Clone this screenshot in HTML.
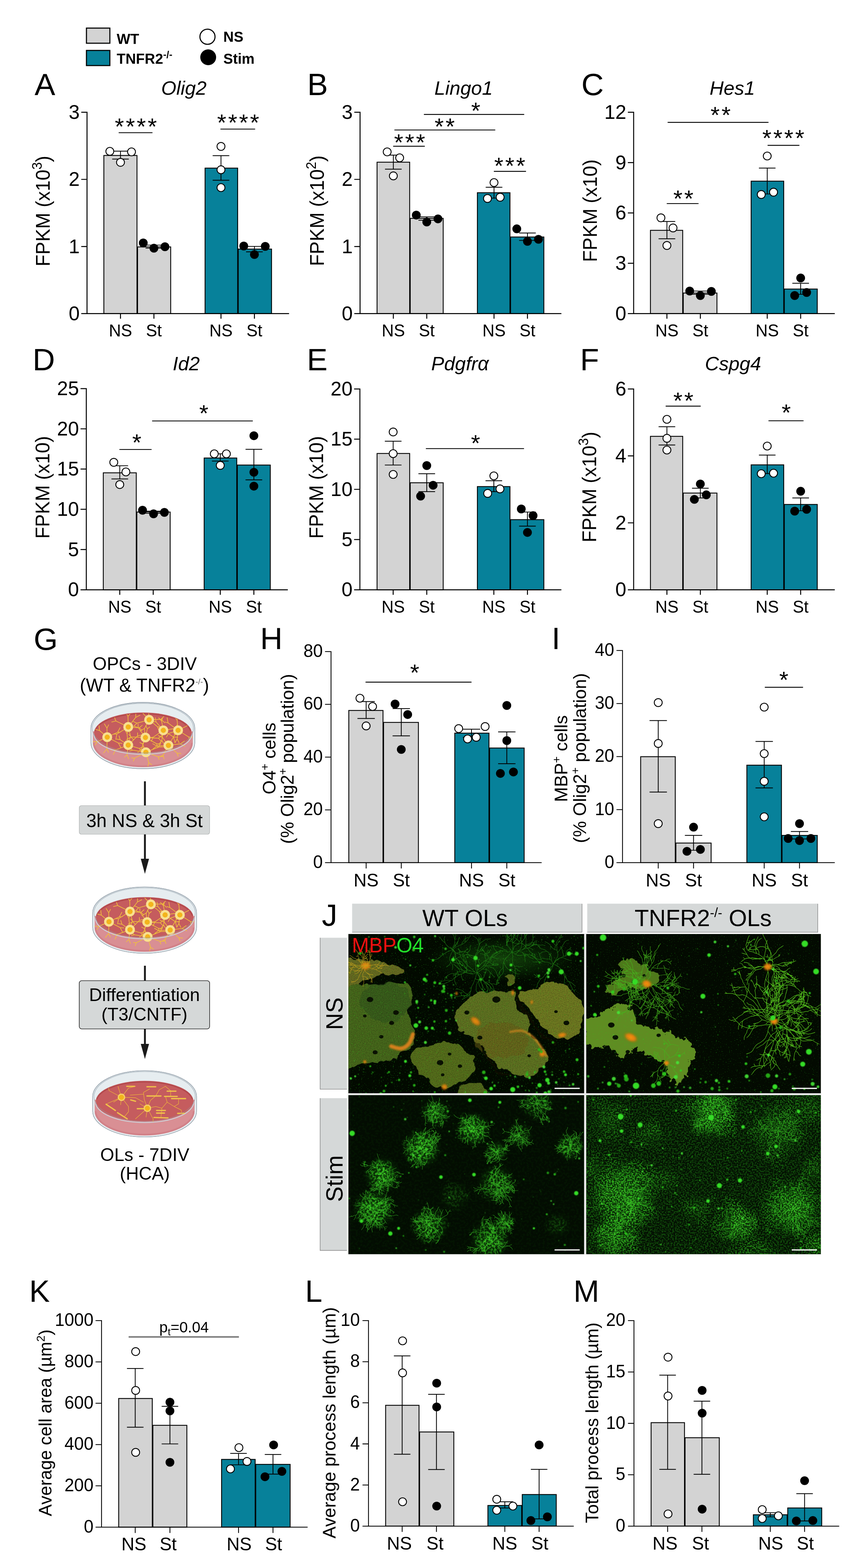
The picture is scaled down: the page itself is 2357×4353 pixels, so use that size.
<!DOCTYPE html>
<html lang="en"><head><meta charset="utf-8"><title>Figure</title>
<style>
html,body{margin:0;padding:0;background:#fff}
body{width:2357px;height:4353px;font-family:"Liberation Sans",Arial,sans-serif}
svg{display:block}
</style></head><body>
<svg width="2357" height="4353" viewBox="0 0 2357 4353" font-family='"Liberation Sans", Arial, sans-serif' fill="#000">
<g id="pA">
<rect x="288.3" y="431.6" width="92" height="439.1" fill="#d3d3d3" stroke="#000" stroke-width="2.4"/>
<rect x="381.9" y="685.5" width="92" height="185.2" fill="#d3d3d3" stroke="#000" stroke-width="2.4"/>
<rect x="569.3" y="466.7" width="90.5" height="403.9" fill="#07819a" stroke="#000" stroke-width="2.4"/>
<rect x="661.4" y="691.5" width="92.5" height="179.1" fill="#07819a" stroke="#000" stroke-width="2.4"/>
<path d="M241.6 310.3V870.7M225.6 870.7H802.5M225.6 311.7H241.6M225.6 498H241.6M225.6 684.4H241.6M334.5 870.7V884.7M427.3 870.7V884.7M613.5 870.7V884.7M706.3 870.7V884.7" stroke="#000" stroke-width="2.7" fill="none"/>
<text x="221.3" y="329.8" font-size="56" text-anchor="end" textLength="30.5" lengthAdjust="spacingAndGlyphs">3</text>
<text x="221.3" y="516.1" font-size="56" text-anchor="end" textLength="30.5" lengthAdjust="spacingAndGlyphs">2</text>
<text x="221.3" y="702.5" font-size="56" text-anchor="end" textLength="30.5" lengthAdjust="spacingAndGlyphs">1</text>
<text x="221.3" y="888.8" font-size="56" text-anchor="end" textLength="30.5" lengthAdjust="spacingAndGlyphs">0</text>
<text x="334.5" y="934.4" font-size="49" text-anchor="middle" textLength="64.7" lengthAdjust="spacingAndGlyphs">NS</text>
<text x="427.3" y="934.4" font-size="49" text-anchor="middle" textLength="44" lengthAdjust="spacingAndGlyphs">St</text>
<text x="613.5" y="934.4" font-size="49" text-anchor="middle" textLength="64.7" lengthAdjust="spacingAndGlyphs">NS</text>
<text x="706.3" y="934.4" font-size="49" text-anchor="middle" textLength="44" lengthAdjust="spacingAndGlyphs">St</text>
<path d="M311.4 419.6H357.6M311.4 441.6H357.6M334.5 419.6V441.6M404.2 680.5H450.4M404.2 689H450.4M427.3 680.5V689M590.4 432.1H636.6M590.4 500.4H636.6M613.5 432.1V500.4M683.2 684H729.4M683.2 699.1H729.4M706.3 684V699.1" stroke="#000" stroke-width="2.1999999999999997" fill="none"/>
<circle cx="304.9" cy="420.1" r="11" fill="#fff" stroke="#000" stroke-width="2.4"/>
<circle cx="365.1" cy="421.6" r="11" fill="#fff" stroke="#000" stroke-width="2.4"/>
<circle cx="334.5" cy="450.7" r="11" fill="#fff" stroke="#000" stroke-width="2.4"/>
<circle cx="397.7" cy="674.5" r="12.2" fill="#000"/>
<circle cx="427.3" cy="689" r="12.2" fill="#000"/>
<circle cx="457.9" cy="685" r="12.2" fill="#000"/>
<circle cx="613.5" cy="406.5" r="11" fill="#fff" stroke="#000" stroke-width="2.4"/>
<circle cx="613.5" cy="471.3" r="11" fill="#fff" stroke="#000" stroke-width="2.4"/>
<circle cx="613.5" cy="520.9" r="11" fill="#fff" stroke="#000" stroke-width="2.4"/>
<circle cx="676.7" cy="683" r="12.2" fill="#000"/>
<circle cx="706.3" cy="706.6" r="12.2" fill="#000"/>
<circle cx="736.4" cy="684" r="12.2" fill="#000"/>
<path d="M329.5 368.4H423.3" stroke="#000" stroke-width="2.4"/>
<text x="379.6" y="373.9" font-size="65.5" letter-spacing="4.9" text-anchor="middle">****</text>
<path d="M612 358.4H708.3" stroke="#000" stroke-width="2.4"/>
<text x="663.6" y="362.9" font-size="65.5" letter-spacing="4.9" text-anchor="middle">****</text>
</g>
<g id="pB">
<rect x="1046.8" y="450.2" width="90.5" height="420.5" fill="#d3d3d3" stroke="#000" stroke-width="2.4"/>
<rect x="1138.9" y="606.2" width="91.5" height="264.4" fill="#d3d3d3" stroke="#000" stroke-width="2.4"/>
<rect x="1325.3" y="535" width="90.5" height="335.7" fill="#07819a" stroke="#000" stroke-width="2.4"/>
<rect x="1417.4" y="657.9" width="92.5" height="212.8" fill="#07819a" stroke="#000" stroke-width="2.4"/>
<path d="M999.6 310.3V870.7M983.6 870.7H1558.5M983.6 311.7H999.6M983.6 498H999.6M983.6 684.4H999.6M1092 870.7V884.7M1184.8 870.7V884.7M1371.5 870.7V884.7M1464.3 870.7V884.7" stroke="#000" stroke-width="2.7" fill="none"/>
<text x="979.3" y="329.8" font-size="56" text-anchor="end" textLength="30.5" lengthAdjust="spacingAndGlyphs">3</text>
<text x="979.3" y="516.1" font-size="56" text-anchor="end" textLength="30.5" lengthAdjust="spacingAndGlyphs">2</text>
<text x="979.3" y="702.5" font-size="56" text-anchor="end" textLength="30.5" lengthAdjust="spacingAndGlyphs">1</text>
<text x="979.3" y="888.8" font-size="56" text-anchor="end" textLength="30.5" lengthAdjust="spacingAndGlyphs">0</text>
<text x="1092" y="934.4" font-size="49" text-anchor="middle" textLength="64.7" lengthAdjust="spacingAndGlyphs">NS</text>
<text x="1184.8" y="934.4" font-size="49" text-anchor="middle" textLength="44" lengthAdjust="spacingAndGlyphs">St</text>
<text x="1371.5" y="934.4" font-size="49" text-anchor="middle" textLength="64.7" lengthAdjust="spacingAndGlyphs">NS</text>
<text x="1464.3" y="934.4" font-size="49" text-anchor="middle" textLength="44" lengthAdjust="spacingAndGlyphs">St</text>
<path d="M1068.9 430.6H1115.1M1068.9 469.7H1115.1M1092 430.6V469.7M1161.7 602.2H1207.9M1161.7 611.3H1207.9M1184.8 602.2V611.3M1348.4 519.9H1394.6M1348.4 550H1394.6M1371.5 519.9V550M1441.2 646.9H1487.4M1441.2 667.5H1487.4M1464.3 646.9V667.5" stroke="#000" stroke-width="2.1999999999999997" fill="none"/>
<circle cx="1074.9" cy="421.6" r="11" fill="#fff" stroke="#000" stroke-width="2.4"/>
<circle cx="1109.5" cy="438.1" r="11" fill="#fff" stroke="#000" stroke-width="2.4"/>
<circle cx="1092" cy="488.3" r="11" fill="#fff" stroke="#000" stroke-width="2.4"/>
<circle cx="1155.7" cy="597.2" r="12.2" fill="#000"/>
<circle cx="1184.8" cy="616.3" r="12.2" fill="#000"/>
<circle cx="1215.9" cy="607.7" r="12.2" fill="#000"/>
<circle cx="1371.5" cy="506.9" r="11" fill="#fff" stroke="#000" stroke-width="2.4"/>
<circle cx="1353.4" cy="551" r="11" fill="#fff" stroke="#000" stroke-width="2.4"/>
<circle cx="1388.5" cy="547.5" r="11" fill="#fff" stroke="#000" stroke-width="2.4"/>
<circle cx="1434.7" cy="635.3" r="12.2" fill="#000"/>
<circle cx="1464.3" cy="670" r="12.2" fill="#000"/>
<circle cx="1494.9" cy="664.4" r="12.2" fill="#000"/>
<path d="M1091.5 406H1179.3" stroke="#000" stroke-width="2.4"/>
<text x="1139.6" y="417.5" font-size="65.5" letter-spacing="4.9" text-anchor="middle">***</text>
<path d="M1095 360.9H1375" stroke="#000" stroke-width="2.4"/>
<text x="1236.9" y="373.9" font-size="65.5" letter-spacing="4.9" text-anchor="middle">**</text>
<path d="M1176.8 317.7H1455.3" stroke="#000" stroke-width="2.4"/>
<text x="1323.2" y="330.2" font-size="65.5" letter-spacing="4.9" text-anchor="middle">*</text>
<path d="M1371 475.8H1460.3" stroke="#000" stroke-width="2.4"/>
<text x="1417.6" y="483.3" font-size="65.5" letter-spacing="4.9" text-anchor="middle">***</text>
</g>
<g id="pC">
<rect x="1805.8" y="639.4" width="89.5" height="231.3" fill="#d3d3d3" stroke="#000" stroke-width="2.4"/>
<rect x="1896.9" y="813.5" width="93.5" height="57.2" fill="#d3d3d3" stroke="#000" stroke-width="2.4"/>
<rect x="2085.3" y="502.9" width="90.5" height="367.8" fill="#07819a" stroke="#000" stroke-width="2.4"/>
<rect x="2177.4" y="802.4" width="91.5" height="68.2" fill="#07819a" stroke="#000" stroke-width="2.4"/>
<path d="M1759.1 310.3V870.7M1743.1 870.7H2317.5M1743.1 311.7H1759.1M1743.1 451.4H1759.1M1743.1 591.2H1759.1M1743.1 730.9H1759.1M1851.5 870.7V884.7M1944.3 870.7V884.7M2130 870.7V884.7M2222.8 870.7V884.7" stroke="#000" stroke-width="2.7" fill="none"/>
<text x="1738.8" y="329.8" font-size="56" text-anchor="end" textLength="61" lengthAdjust="spacingAndGlyphs">12</text>
<text x="1738.8" y="469.6" font-size="56" text-anchor="end" textLength="30.5" lengthAdjust="spacingAndGlyphs">9</text>
<text x="1738.8" y="609.3" font-size="56" text-anchor="end" textLength="30.5" lengthAdjust="spacingAndGlyphs">6</text>
<text x="1738.8" y="749.1" font-size="56" text-anchor="end" textLength="30.5" lengthAdjust="spacingAndGlyphs">3</text>
<text x="1738.8" y="888.8" font-size="56" text-anchor="end" textLength="30.5" lengthAdjust="spacingAndGlyphs">0</text>
<text x="1851.5" y="934.4" font-size="49" text-anchor="middle" textLength="64.7" lengthAdjust="spacingAndGlyphs">NS</text>
<text x="1944.3" y="934.4" font-size="49" text-anchor="middle" textLength="44" lengthAdjust="spacingAndGlyphs">St</text>
<text x="2130" y="934.4" font-size="49" text-anchor="middle" textLength="64.7" lengthAdjust="spacingAndGlyphs">NS</text>
<text x="2222.8" y="934.4" font-size="49" text-anchor="middle" textLength="44" lengthAdjust="spacingAndGlyphs">St</text>
<path d="M1828.4 614.8H1874.6M1828.4 662.9H1874.6M1851.5 614.8V662.9M1921.2 808H1967.4M1921.2 817H1967.4M1944.3 808V817M2106.9 466.7H2153M2106.9 538.5H2153M2130 466.7V538.5M2199.7 786.4H2245.9M2199.7 817H2245.9M2222.8 786.4V817" stroke="#000" stroke-width="2.1999999999999997" fill="none"/>
<circle cx="1834.9" cy="604.7" r="11" fill="#fff" stroke="#000" stroke-width="2.4"/>
<circle cx="1868.5" cy="632.8" r="11" fill="#fff" stroke="#000" stroke-width="2.4"/>
<circle cx="1851.5" cy="681.5" r="11" fill="#fff" stroke="#000" stroke-width="2.4"/>
<circle cx="1914.7" cy="808" r="12.2" fill="#000"/>
<circle cx="1944.3" cy="820.5" r="12.2" fill="#000"/>
<circle cx="1974.9" cy="809" r="12.2" fill="#000"/>
<circle cx="2130" cy="433.1" r="11" fill="#fff" stroke="#000" stroke-width="2.4"/>
<circle cx="2113.4" cy="540" r="11" fill="#fff" stroke="#000" stroke-width="2.4"/>
<circle cx="2147.5" cy="533.5" r="11" fill="#fff" stroke="#000" stroke-width="2.4"/>
<circle cx="2222.8" cy="771.8" r="12.2" fill="#000"/>
<circle cx="2206.2" cy="820.5" r="12.2" fill="#000"/>
<circle cx="2239.4" cy="812" r="12.2" fill="#000"/>
<path d="M1853.5 339.8H2133.5" stroke="#000" stroke-width="2.4"/>
<text x="2003" y="342.3" font-size="65.5" letter-spacing="4.9" text-anchor="middle">**</text>
<path d="M1851 565.1H1939.3" stroke="#000" stroke-width="2.4"/>
<text x="1899.6" y="573.6" font-size="65.5" letter-spacing="4.9" text-anchor="middle">**</text>
<path d="M2131 403.5H2219.3" stroke="#000" stroke-width="2.4"/>
<text x="2177.1" y="405.5" font-size="65.5" letter-spacing="4.9" text-anchor="middle">****</text>
</g>
<g id="pD">
<rect x="286.8" y="1312.6" width="91.5" height="324.7" fill="#d3d3d3" stroke="#000" stroke-width="2.4"/>
<rect x="379.9" y="1421.5" width="92.5" height="215.8" fill="#d3d3d3" stroke="#000" stroke-width="2.4"/>
<rect x="566.8" y="1271.5" width="90.5" height="365.8" fill="#07819a" stroke="#000" stroke-width="2.4"/>
<rect x="658.9" y="1291" width="91.5" height="346.2" fill="#07819a" stroke="#000" stroke-width="2.4"/>
<path d="M239.6 1077.4V1637.3M223.6 1637.3H799M223.6 1078.8H239.6M223.6 1190.5H239.6M223.6 1302.2H239.6M223.6 1413.9H239.6M223.6 1525.6H239.6M332.5 1637.3V1651.3M425.3 1637.3V1651.3M611.5 1637.3V1651.3M704.8 1637.3V1651.3" stroke="#000" stroke-width="2.7" fill="none"/>
<text x="219.3" y="1096.9" font-size="56" text-anchor="end" textLength="61" lengthAdjust="spacingAndGlyphs">25</text>
<text x="219.3" y="1208.6" font-size="56" text-anchor="end" textLength="61" lengthAdjust="spacingAndGlyphs">20</text>
<text x="219.3" y="1320.3" font-size="56" text-anchor="end" textLength="61" lengthAdjust="spacingAndGlyphs">15</text>
<text x="219.3" y="1432" font-size="56" text-anchor="end" textLength="61" lengthAdjust="spacingAndGlyphs">10</text>
<text x="219.3" y="1543.7" font-size="56" text-anchor="end" textLength="30.5" lengthAdjust="spacingAndGlyphs">5</text>
<text x="219.3" y="1655.4" font-size="56" text-anchor="end" textLength="30.5" lengthAdjust="spacingAndGlyphs">0</text>
<text x="332.5" y="1701" font-size="49" text-anchor="middle" textLength="64.7" lengthAdjust="spacingAndGlyphs">NS</text>
<text x="425.3" y="1701" font-size="49" text-anchor="middle" textLength="44" lengthAdjust="spacingAndGlyphs">St</text>
<text x="611.5" y="1701" font-size="49" text-anchor="middle" textLength="64.7" lengthAdjust="spacingAndGlyphs">NS</text>
<text x="704.8" y="1701" font-size="49" text-anchor="middle" textLength="44" lengthAdjust="spacingAndGlyphs">St</text>
<path d="M309.4 1293H355.6M309.4 1329.7H355.6M332.5 1293V1329.7M402.2 1419H448.4M402.2 1425H448.4M425.3 1419V1425M588.4 1259.9H634.6M588.4 1280H634.6M611.5 1259.9V1280M681.7 1247.4H727.9M681.7 1332.2H727.9M704.8 1247.4V1332.2" stroke="#000" stroke-width="2.1999999999999997" fill="none"/>
<circle cx="315.9" cy="1283.5" r="11" fill="#fff" stroke="#000" stroke-width="2.4"/>
<circle cx="349.5" cy="1310.1" r="11" fill="#fff" stroke="#000" stroke-width="2.4"/>
<circle cx="332.5" cy="1345.2" r="11" fill="#fff" stroke="#000" stroke-width="2.4"/>
<circle cx="395.7" cy="1416.5" r="12.2" fill="#000"/>
<circle cx="426.3" cy="1426.5" r="12.2" fill="#000"/>
<circle cx="456.4" cy="1422.5" r="12.2" fill="#000"/>
<circle cx="594.9" cy="1259.9" r="11" fill="#fff" stroke="#000" stroke-width="2.4"/>
<circle cx="628.5" cy="1259.9" r="11" fill="#fff" stroke="#000" stroke-width="2.4"/>
<circle cx="611.5" cy="1292" r="11" fill="#fff" stroke="#000" stroke-width="2.4"/>
<circle cx="704.8" cy="1209.7" r="12.2" fill="#000"/>
<circle cx="704.8" cy="1311.1" r="12.2" fill="#000"/>
<circle cx="704.8" cy="1349.7" r="12.2" fill="#000"/>
<path d="M331.5 1247.9H420.8" stroke="#000" stroke-width="2.4"/>
<text x="382.1" y="1251.4" font-size="65.5" letter-spacing="4.9" text-anchor="middle">*</text>
<path d="M422.3 1168.6H701.8" stroke="#000" stroke-width="2.4"/>
<text x="568.3" y="1170.1" font-size="65.5" letter-spacing="4.9" text-anchor="middle">*</text>
</g>
<g id="pE">
<rect x="1046.8" y="1258.9" width="90.5" height="378.4" fill="#d3d3d3" stroke="#000" stroke-width="2.4"/>
<rect x="1138.9" y="1340.2" width="91.5" height="297.1" fill="#d3d3d3" stroke="#000" stroke-width="2.4"/>
<rect x="1325.3" y="1350.8" width="90.5" height="286.5" fill="#07819a" stroke="#000" stroke-width="2.4"/>
<rect x="1417.4" y="1442.6" width="92.5" height="194.7" fill="#07819a" stroke="#000" stroke-width="2.4"/>
<path d="M999.1 1078.4V1637.3M983.1 1637.3H1558.5M983.1 1079.8H999.1M983.1 1219.2H999.1M983.1 1358.5H999.1M983.1 1497.9H999.1M1091.5 1637.3V1651.3M1184.8 1637.3V1651.3M1371 1637.3V1651.3M1464.3 1637.3V1651.3" stroke="#000" stroke-width="2.7" fill="none"/>
<text x="978.8" y="1097.9" font-size="56" text-anchor="end" textLength="61" lengthAdjust="spacingAndGlyphs">20</text>
<text x="978.8" y="1237.3" font-size="56" text-anchor="end" textLength="61" lengthAdjust="spacingAndGlyphs">15</text>
<text x="978.8" y="1376.7" font-size="56" text-anchor="end" textLength="61" lengthAdjust="spacingAndGlyphs">10</text>
<text x="978.8" y="1516.1" font-size="56" text-anchor="end" textLength="30.5" lengthAdjust="spacingAndGlyphs">5</text>
<text x="978.8" y="1655.4" font-size="56" text-anchor="end" textLength="30.5" lengthAdjust="spacingAndGlyphs">0</text>
<text x="1091.5" y="1701" font-size="49" text-anchor="middle" textLength="64.7" lengthAdjust="spacingAndGlyphs">NS</text>
<text x="1184.8" y="1701" font-size="49" text-anchor="middle" textLength="44" lengthAdjust="spacingAndGlyphs">St</text>
<text x="1371" y="1701" font-size="49" text-anchor="middle" textLength="64.7" lengthAdjust="spacingAndGlyphs">NS</text>
<text x="1464.3" y="1701" font-size="49" text-anchor="middle" textLength="44" lengthAdjust="spacingAndGlyphs">St</text>
<path d="M1068.4 1224.8H1114.6M1068.4 1291H1114.6M1091.5 1224.8V1291M1161.7 1315.1H1207.9M1161.7 1364.8H1207.9M1184.8 1315.1V1364.8M1347.9 1334.7H1394.1M1347.9 1364.8H1394.1M1371 1334.7V1364.8M1441.2 1421.5H1487.4M1441.2 1460.6H1487.4M1464.3 1421.5V1460.6" stroke="#000" stroke-width="2.1999999999999997" fill="none"/>
<circle cx="1091.5" cy="1199.2" r="11" fill="#fff" stroke="#000" stroke-width="2.4"/>
<circle cx="1091.5" cy="1259.4" r="11" fill="#fff" stroke="#000" stroke-width="2.4"/>
<circle cx="1091.5" cy="1317.1" r="11" fill="#fff" stroke="#000" stroke-width="2.4"/>
<circle cx="1184.8" cy="1292.5" r="12.2" fill="#000"/>
<circle cx="1202.4" cy="1347.2" r="12.2" fill="#000"/>
<circle cx="1167.7" cy="1377.3" r="12.2" fill="#000"/>
<circle cx="1371" cy="1321.1" r="11" fill="#fff" stroke="#000" stroke-width="2.4"/>
<circle cx="1353.9" cy="1369.8" r="11" fill="#fff" stroke="#000" stroke-width="2.4"/>
<circle cx="1388" cy="1357.3" r="11" fill="#fff" stroke="#000" stroke-width="2.4"/>
<circle cx="1447.2" cy="1413" r="12.2" fill="#000"/>
<circle cx="1479.9" cy="1431.5" r="12.2" fill="#000"/>
<circle cx="1464.3" cy="1478.2" r="12.2" fill="#000"/>
<path d="M1182.3 1245.4H1454.8" stroke="#000" stroke-width="2.4"/>
<text x="1322.7" y="1252.9" font-size="65.5" letter-spacing="4.9" text-anchor="middle">*</text>
</g>
<g id="pF">
<rect x="1805.8" y="1211.3" width="89.5" height="426" fill="#d3d3d3" stroke="#000" stroke-width="2.4"/>
<rect x="1896.9" y="1368.8" width="93.5" height="268.5" fill="#d3d3d3" stroke="#000" stroke-width="2.4"/>
<rect x="2085.3" y="1290.5" width="90.5" height="346.7" fill="#07819a" stroke="#000" stroke-width="2.4"/>
<rect x="2177.4" y="1400.4" width="91.5" height="236.8" fill="#07819a" stroke="#000" stroke-width="2.4"/>
<path d="M1759.1 1078.4V1637.3M1743.1 1637.3H2317.5M1743.1 1079.8H1759.1M1743.1 1265.6H1759.1M1743.1 1451.5H1759.1M1851.5 1637.3V1651.3M1944.3 1637.3V1651.3M2130 1637.3V1651.3M2222.8 1637.3V1651.3" stroke="#000" stroke-width="2.7" fill="none"/>
<text x="1738.8" y="1097.9" font-size="56" text-anchor="end" textLength="30.5" lengthAdjust="spacingAndGlyphs">6</text>
<text x="1738.8" y="1283.7" font-size="56" text-anchor="end" textLength="30.5" lengthAdjust="spacingAndGlyphs">4</text>
<text x="1738.8" y="1469.6" font-size="56" text-anchor="end" textLength="30.5" lengthAdjust="spacingAndGlyphs">2</text>
<text x="1738.8" y="1655.4" font-size="56" text-anchor="end" textLength="30.5" lengthAdjust="spacingAndGlyphs">0</text>
<text x="1851.5" y="1701" font-size="49" text-anchor="middle" textLength="64.7" lengthAdjust="spacingAndGlyphs">NS</text>
<text x="1944.3" y="1701" font-size="49" text-anchor="middle" textLength="44" lengthAdjust="spacingAndGlyphs">St</text>
<text x="2130" y="1701" font-size="49" text-anchor="middle" textLength="64.7" lengthAdjust="spacingAndGlyphs">NS</text>
<text x="2222.8" y="1701" font-size="49" text-anchor="middle" textLength="44" lengthAdjust="spacingAndGlyphs">St</text>
<path d="M1828.4 1184.7H1874.6M1828.4 1235.3H1874.6M1851.5 1184.7V1235.3M1921.2 1355.3H1967.4M1921.2 1382.4H1967.4M1944.3 1355.3V1382.4M2106.9 1263.4H2153M2106.9 1314.6H2153M2130 1263.4V1314.6M2199.7 1382.4H2245.9M2199.7 1418H2245.9M2222.8 1382.4V1418" stroke="#000" stroke-width="2.1999999999999997" fill="none"/>
<circle cx="1851.5" cy="1164.1" r="11" fill="#fff" stroke="#000" stroke-width="2.4"/>
<circle cx="1851.5" cy="1216.8" r="11" fill="#fff" stroke="#000" stroke-width="2.4"/>
<circle cx="1851.5" cy="1249.4" r="11" fill="#fff" stroke="#000" stroke-width="2.4"/>
<circle cx="1944.3" cy="1343.7" r="12.2" fill="#000"/>
<circle cx="1927.7" cy="1386.4" r="12.2" fill="#000"/>
<circle cx="1960.9" cy="1373.8" r="12.2" fill="#000"/>
<circle cx="2130" cy="1238.4" r="11" fill="#fff" stroke="#000" stroke-width="2.4"/>
<circle cx="2113.4" cy="1315.1" r="11" fill="#fff" stroke="#000" stroke-width="2.4"/>
<circle cx="2147.5" cy="1313.6" r="11" fill="#fff" stroke="#000" stroke-width="2.4"/>
<circle cx="2222.8" cy="1363.8" r="12.2" fill="#000"/>
<circle cx="2206.2" cy="1419" r="12.2" fill="#000"/>
<circle cx="2239.4" cy="1414" r="12.2" fill="#000"/>
<path d="M1848 1127.5H1945.3" stroke="#000" stroke-width="2.4"/>
<text x="1899.6" y="1135" font-size="65.5" letter-spacing="4.9" text-anchor="middle">**</text>
<path d="M2133.5 1168.1H2230.8" stroke="#000" stroke-width="2.4"/>
<text x="2185.1" y="1167.6" font-size="65.5" letter-spacing="4.9" text-anchor="middle">*</text>
</g>
<g id="pH">
<rect x="968.3" y="1972.3" width="95" height="422.7" fill="#d3d3d3" stroke="#000" stroke-width="2.4"/>
<rect x="1064.9" y="2005.5" width="96.7" height="389.4" fill="#d3d3d3" stroke="#000" stroke-width="2.4"/>
<rect x="1262.5" y="2035.3" width="95" height="359.6" fill="#07819a" stroke="#000" stroke-width="2.4"/>
<rect x="1359.1" y="2076.6" width="96.1" height="318.3" fill="#07819a" stroke="#000" stroke-width="2.4"/>
<path d="M919 1807.7V2394.9M902.4 2394.9H1503.7M902.4 1808.8H919M902.4 1955.3H919M902.4 2101.9H919M902.4 2248.4H919M1016.5 2394.9V2411M1114 2394.9V2411M1309 2394.9V2411M1407 2394.9V2411" stroke="#000" stroke-width="2.3" fill="none"/>
<text x="896.1" y="1823.8" font-size="50" text-anchor="end" textLength="53.7" lengthAdjust="spacingAndGlyphs">80</text>
<text x="896.1" y="1970.3" font-size="50" text-anchor="end" textLength="53.7" lengthAdjust="spacingAndGlyphs">60</text>
<text x="896.1" y="2116.9" font-size="50" text-anchor="end" textLength="53.7" lengthAdjust="spacingAndGlyphs">40</text>
<text x="896.1" y="2263.4" font-size="50" text-anchor="end" textLength="53.7" lengthAdjust="spacingAndGlyphs">20</text>
<text x="896.1" y="2409.9" font-size="50" text-anchor="end" textLength="26.8" lengthAdjust="spacingAndGlyphs">0</text>
<text x="1016.5" y="2461.4" font-size="50" text-anchor="middle" textLength="69.5" lengthAdjust="spacingAndGlyphs">NS</text>
<text x="1114" y="2461.4" font-size="50" text-anchor="middle" textLength="47.2" lengthAdjust="spacingAndGlyphs">St</text>
<text x="1309" y="2461.4" font-size="50" text-anchor="middle" textLength="69.5" lengthAdjust="spacingAndGlyphs">NS</text>
<text x="1407" y="2461.4" font-size="50" text-anchor="middle" textLength="47.2" lengthAdjust="spacingAndGlyphs">St</text>
<path d="M992.4 1947.6H1040.6M992.4 1994.6H1040.6M1016.5 1947.6V1994.6M1089.9 1967.1H1138.1M1089.9 2042.8H1138.1M1114 1967.1V2042.8M1284.9 2024.4H1333M1284.9 2046.8H1333M1309 2024.4V2046.8M1382.9 2031.9H1431.1M1382.9 2120.2H1431.1M1407 2031.9V2120.2" stroke="#000" stroke-width="2.1999999999999997" fill="none"/>
<circle cx="999.3" cy="1938.4" r="11" fill="#fff" stroke="#000" stroke-width="2.4"/>
<circle cx="1034.3" cy="1961.4" r="11" fill="#fff" stroke="#000" stroke-width="2.4"/>
<circle cx="1016.5" cy="2015.3" r="11" fill="#fff" stroke="#000" stroke-width="2.4"/>
<circle cx="1096.8" cy="1954.5" r="12.2" fill="#000"/>
<circle cx="1131.8" cy="1983.7" r="12.2" fill="#000"/>
<circle cx="1114" cy="2080.6" r="12.2" fill="#000"/>
<circle cx="1273.4" cy="2022.7" r="11" fill="#fff" stroke="#000" stroke-width="2.4"/>
<circle cx="1346.8" cy="2017" r="11" fill="#fff" stroke="#000" stroke-width="2.4"/>
<circle cx="1298.1" cy="2051.4" r="11" fill="#fff" stroke="#000" stroke-width="2.4"/>
<circle cx="1322.2" cy="2046.8" r="11" fill="#fff" stroke="#000" stroke-width="2.4"/>
<circle cx="1407" cy="1958.5" r="12.2" fill="#000"/>
<circle cx="1407" cy="2056" r="12.2" fill="#000"/>
<circle cx="1389.2" cy="2147.2" r="12.2" fill="#000"/>
<circle cx="1425.4" cy="2143.2" r="12.2" fill="#000"/>
<path d="M1014.8 1893.7H1309" stroke="#000" stroke-width="2.4"/>
<text x="1153.7" y="1889.7" font-size="65.5" letter-spacing="4.9" text-anchor="middle">*</text>
</g>
<g id="pI">
<rect x="1778.6" y="2100.7" width="96.1" height="294.2" fill="#d3d3d3" stroke="#000" stroke-width="2.4"/>
<rect x="1876.4" y="2340.4" width="97.8" height="54.5" fill="#d3d3d3" stroke="#000" stroke-width="2.4"/>
<rect x="2073.4" y="2124.2" width="96.1" height="270.7" fill="#07819a" stroke="#000" stroke-width="2.4"/>
<rect x="2171.1" y="2319.2" width="97.8" height="75.7" fill="#07819a" stroke="#000" stroke-width="2.4"/>
<path d="M1728.2 1804.8V2394.9M1711.5 2394.9H2317.5M1711.5 1805.9H1728.2M1711.5 1953.2H1728.2M1711.5 2100.4H1728.2M1711.5 2247.7H1728.2M1827.4 2394.9V2411M1925.4 2394.9V2411M2121.6 2394.9V2411M2219.6 2394.9V2411" stroke="#000" stroke-width="2.3" fill="none"/>
<text x="1705.2" y="1820.9" font-size="50" text-anchor="end" textLength="53.7" lengthAdjust="spacingAndGlyphs">40</text>
<text x="1705.2" y="1968.2" font-size="50" text-anchor="end" textLength="53.7" lengthAdjust="spacingAndGlyphs">30</text>
<text x="1705.2" y="2115.4" font-size="50" text-anchor="end" textLength="53.7" lengthAdjust="spacingAndGlyphs">20</text>
<text x="1705.2" y="2262.7" font-size="50" text-anchor="end" textLength="53.7" lengthAdjust="spacingAndGlyphs">10</text>
<text x="1705.2" y="2409.9" font-size="50" text-anchor="end" textLength="26.8" lengthAdjust="spacingAndGlyphs">0</text>
<text x="1827.4" y="2461.4" font-size="50" text-anchor="middle" textLength="69.5" lengthAdjust="spacingAndGlyphs">NS</text>
<text x="1925.4" y="2461.4" font-size="50" text-anchor="middle" textLength="47.2" lengthAdjust="spacingAndGlyphs">St</text>
<text x="2121.6" y="2461.4" font-size="50" text-anchor="middle" textLength="69.5" lengthAdjust="spacingAndGlyphs">NS</text>
<text x="2219.6" y="2461.4" font-size="50" text-anchor="middle" textLength="47.2" lengthAdjust="spacingAndGlyphs">St</text>
<path d="M1803.3 2000.4H1851.5M1803.3 2198.8H1851.5M1827.4 2000.4V2198.8M1901.4 2319.2H1949.5M1901.4 2360.5H1949.5M1925.4 2319.2V2360.5M2097.5 2058.3H2145.7M2097.5 2187.3H2145.7M2121.6 2058.3V2187.3M2195.6 2308.3H2243.7M2195.6 2329H2243.7M2219.6 2308.3V2329" stroke="#000" stroke-width="2.1999999999999997" fill="none"/>
<circle cx="1827.4" cy="1950.5" r="11" fill="#fff" stroke="#000" stroke-width="2.4"/>
<circle cx="1827.4" cy="2064" r="11" fill="#fff" stroke="#000" stroke-width="2.4"/>
<circle cx="1827.4" cy="2286.5" r="11" fill="#fff" stroke="#000" stroke-width="2.4"/>
<circle cx="1925.4" cy="2296.3" r="12.2" fill="#000"/>
<circle cx="1907.1" cy="2363.4" r="12.2" fill="#000"/>
<circle cx="1944.4" cy="2358.2" r="12.2" fill="#000"/>
<circle cx="2121.6" cy="1963.1" r="11" fill="#fff" stroke="#000" stroke-width="2.4"/>
<circle cx="2121.6" cy="2092.1" r="11" fill="#fff" stroke="#000" stroke-width="2.4"/>
<circle cx="2121.6" cy="2169" r="11" fill="#fff" stroke="#000" stroke-width="2.4"/>
<circle cx="2121.6" cy="2267.6" r="11" fill="#fff" stroke="#000" stroke-width="2.4"/>
<circle cx="2219.6" cy="2286.5" r="12.2" fill="#000"/>
<circle cx="2188.1" cy="2327.8" r="12.2" fill="#000"/>
<circle cx="2219.6" cy="2333.5" r="12.2" fill="#000"/>
<circle cx="2251.2" cy="2327.8" r="12.2" fill="#000"/>
<path d="M2123.3 1908H2229.4" stroke="#000" stroke-width="2.4"/>
<text x="2178.5" y="1909.7" font-size="65.5" letter-spacing="4.9" text-anchor="middle">*</text>
</g>
<g id="pK">
<rect x="329.5" y="3882.4" width="93.3" height="357.3" fill="#d3d3d3" stroke="#000" stroke-width="2.4"/>
<rect x="424.4" y="3956.9" width="94.4" height="282.7" fill="#d3d3d3" stroke="#000" stroke-width="2.4"/>
<rect x="615.1" y="4051.5" width="93.3" height="188.1" fill="#07819a" stroke="#000" stroke-width="2.4"/>
<rect x="710" y="4065.3" width="95.5" height="174.3" fill="#07819a" stroke="#000" stroke-width="2.4"/>
<path d="M281.9 3665V4239.6M265.3 4239.6H854M265.3 3666.2H281.9M265.3 3780.9H281.9M265.3 3895.6H281.9M265.3 4010.3H281.9M265.3 4124.9H281.9M375.4 4239.6V4255.7M471.8 4239.6V4255.7M662.2 4239.6V4255.7M757.9 4239.6V4255.7" stroke="#000" stroke-width="2.3" fill="none"/>
<text x="259.5" y="3681.2" font-size="50" text-anchor="end" textLength="107.3" lengthAdjust="spacingAndGlyphs">1000</text>
<text x="259.5" y="3795.9" font-size="50" text-anchor="end" textLength="80.5" lengthAdjust="spacingAndGlyphs">800</text>
<text x="259.5" y="3910.6" font-size="50" text-anchor="end" textLength="80.5" lengthAdjust="spacingAndGlyphs">600</text>
<text x="259.5" y="4025.3" font-size="50" text-anchor="end" textLength="80.5" lengthAdjust="spacingAndGlyphs">400</text>
<text x="259.5" y="4139.9" font-size="50" text-anchor="end" textLength="80.5" lengthAdjust="spacingAndGlyphs">200</text>
<text x="259.5" y="4254.6" font-size="50" text-anchor="end" textLength="26.8" lengthAdjust="spacingAndGlyphs">0</text>
<text x="371.7" y="4303.9" font-size="50" text-anchor="middle" textLength="69.5" lengthAdjust="spacingAndGlyphs">NS</text>
<text x="466.9" y="4303.9" font-size="50" text-anchor="middle" textLength="47.2" lengthAdjust="spacingAndGlyphs">St</text>
<text x="663.9" y="4303.9" font-size="50" text-anchor="middle" textLength="69.5" lengthAdjust="spacingAndGlyphs">NS</text>
<text x="759.6" y="4303.9" font-size="50" text-anchor="middle" textLength="47.2" lengthAdjust="spacingAndGlyphs">St</text>
<path d="M352.5 3799.2H398.4M352.5 3962.1H398.4M375.4 3799.2V3962.1M448.8 3904.2H494.7M448.8 4008.5H494.7M471.8 3904.2V4008.5M639.2 4034.9H685.1M639.2 4066.5H685.1M662.2 4034.9V4066.5M735 4037.8H780.9M735 4092.3H780.9M757.9 4037.8V4092.3" stroke="#000" stroke-width="2.1999999999999997" fill="none"/>
<circle cx="376.6" cy="3752.2" r="11" fill="#fff" stroke="#000" stroke-width="2.4"/>
<circle cx="376.6" cy="3860" r="11" fill="#fff" stroke="#000" stroke-width="2.4"/>
<circle cx="376.6" cy="4032" r="11" fill="#fff" stroke="#000" stroke-width="2.4"/>
<circle cx="471.8" cy="3892.7" r="12.2" fill="#000"/>
<circle cx="471.8" cy="3916.8" r="12.2" fill="#000"/>
<circle cx="471.8" cy="4059.6" r="12.2" fill="#000"/>
<circle cx="663.3" cy="4018.9" r="11" fill="#fff" stroke="#000" stroke-width="2.4"/>
<circle cx="639.8" cy="4077.9" r="11" fill="#fff" stroke="#000" stroke-width="2.4"/>
<circle cx="685.7" cy="4057.3" r="11" fill="#fff" stroke="#000" stroke-width="2.4"/>
<circle cx="759.6" cy="4011.4" r="12.2" fill="#000"/>
<circle cx="735.6" cy="4099.7" r="12.2" fill="#000"/>
<circle cx="782.6" cy="4084.8" r="12.2" fill="#000"/>
<path d="M357.1 3711.5H663.3" stroke="#808080" stroke-width="4.5"/>
</g>
<g id="pL">
<rect x="1070.6" y="3901.3" width="92.7" height="335.5" fill="#d3d3d3" stroke="#000" stroke-width="2.4"/>
<rect x="1164.9" y="3975.3" width="95" height="261.5" fill="#d3d3d3" stroke="#000" stroke-width="2.4"/>
<rect x="1354.5" y="4179.4" width="93.8" height="57.3" fill="#07819a" stroke="#000" stroke-width="2.4"/>
<rect x="1449.9" y="4149" width="94.4" height="87.7" fill="#07819a" stroke="#000" stroke-width="2.4"/>
<path d="M1023 3665V4236.8M1006.4 4236.8H1592.8M1006.4 3666.2H1023M1006.4 3780.3H1023M1006.4 3894.4H1023M1006.4 4008.5H1023M1006.4 4122.7H1023M1116.5 4236.8V4252.8M1211.7 4236.8V4252.8M1401.5 4236.8V4252.8M1496.7 4236.8V4252.8" stroke="#000" stroke-width="2.3" fill="none"/>
<text x="999.1" y="3681.2" font-size="50" text-anchor="end" textLength="53.7" lengthAdjust="spacingAndGlyphs">10</text>
<text x="999.1" y="3795.3" font-size="50" text-anchor="end" textLength="26.8" lengthAdjust="spacingAndGlyphs">8</text>
<text x="999.1" y="3909.4" font-size="50" text-anchor="end" textLength="26.8" lengthAdjust="spacingAndGlyphs">6</text>
<text x="999.1" y="4023.5" font-size="50" text-anchor="end" textLength="26.8" lengthAdjust="spacingAndGlyphs">4</text>
<text x="999.1" y="4137.7" font-size="50" text-anchor="end" textLength="26.8" lengthAdjust="spacingAndGlyphs">2</text>
<text x="999.1" y="4251.8" font-size="50" text-anchor="end" textLength="26.8" lengthAdjust="spacingAndGlyphs">0</text>
<text x="1108.7" y="4301.6" font-size="50" text-anchor="middle" textLength="69.5" lengthAdjust="spacingAndGlyphs">NS</text>
<text x="1207.7" y="4301.6" font-size="50" text-anchor="middle" textLength="47.2" lengthAdjust="spacingAndGlyphs">St</text>
<text x="1401.5" y="4301.6" font-size="50" text-anchor="middle" textLength="69.5" lengthAdjust="spacingAndGlyphs">NS</text>
<text x="1498.7" y="4301.6" font-size="50" text-anchor="middle" textLength="47.2" lengthAdjust="spacingAndGlyphs">St</text>
<path d="M1093.5 3764.2H1139.4M1093.5 4037.2H1139.4M1116.5 3764.2V4037.2M1188.7 3870.9H1234.6M1188.7 4079.6H1234.6M1211.7 3870.9V4079.6M1378.6 4169.1H1424.4M1378.6 4186.3H1424.4M1401.5 4169.1V4186.3M1473.8 4079.1H1519.6M1473.8 4216.7H1519.6M1496.7 4079.1V4216.7" stroke="#000" stroke-width="2.1999999999999997" fill="none"/>
<circle cx="1117.6" cy="3722.4" r="11" fill="#fff" stroke="#000" stroke-width="2.4"/>
<circle cx="1117.6" cy="3811.3" r="11" fill="#fff" stroke="#000" stroke-width="2.4"/>
<circle cx="1117.6" cy="4169.1" r="11" fill="#fff" stroke="#000" stroke-width="2.4"/>
<circle cx="1212.3" cy="3839.9" r="12.2" fill="#000"/>
<circle cx="1212.3" cy="3905.9" r="12.2" fill="#000"/>
<circle cx="1212.3" cy="4181.1" r="12.2" fill="#000"/>
<circle cx="1379.1" cy="4162.2" r="11" fill="#fff" stroke="#000" stroke-width="2.4"/>
<circle cx="1379.1" cy="4192.6" r="11" fill="#fff" stroke="#000" stroke-width="2.4"/>
<circle cx="1423.9" cy="4181.1" r="11" fill="#fff" stroke="#000" stroke-width="2.4"/>
<circle cx="1496.7" cy="4011.4" r="12.2" fill="#000"/>
<circle cx="1473.8" cy="4221.3" r="12.2" fill="#000"/>
<circle cx="1519.6" cy="4211" r="12.2" fill="#000"/>
</g>
<g id="pM">
<rect x="1807.6" y="3949.5" width="92.7" height="287.3" fill="#d3d3d3" stroke="#000" stroke-width="2.4"/>
<rect x="1901.9" y="3991.3" width="95" height="245.4" fill="#d3d3d3" stroke="#000" stroke-width="2.4"/>
<rect x="2091.5" y="4205.2" width="93.8" height="31.5" fill="#07819a" stroke="#000" stroke-width="2.4"/>
<rect x="2186.9" y="4186.3" width="94.4" height="50.5" fill="#07819a" stroke="#000" stroke-width="2.4"/>
<path d="M1760 3665V4236.8M1743.4 4236.8H2329.8M1743.4 3666.2H1760M1743.4 3808.8H1760M1743.4 3951.5H1760M1743.4 4094.2H1760M1853.5 4236.8V4252.8M1948.7 4236.8V4252.8M2138.5 4236.8V4252.8M2233.7 4236.8V4252.8" stroke="#000" stroke-width="2.3" fill="none"/>
<text x="1736.1" y="3681.2" font-size="50" text-anchor="end" textLength="53.7" lengthAdjust="spacingAndGlyphs">20</text>
<text x="1736.1" y="3823.8" font-size="50" text-anchor="end" textLength="53.7" lengthAdjust="spacingAndGlyphs">15</text>
<text x="1736.1" y="3966.5" font-size="50" text-anchor="end" textLength="53.7" lengthAdjust="spacingAndGlyphs">10</text>
<text x="1736.1" y="4109.2" font-size="50" text-anchor="end" textLength="26.8" lengthAdjust="spacingAndGlyphs">5</text>
<text x="1736.1" y="4251.8" font-size="50" text-anchor="end" textLength="26.8" lengthAdjust="spacingAndGlyphs">0</text>
<text x="1846.3" y="4301.6" font-size="50" text-anchor="middle" textLength="69.5" lengthAdjust="spacingAndGlyphs">NS</text>
<text x="1944.7" y="4301.6" font-size="50" text-anchor="middle" textLength="47.2" lengthAdjust="spacingAndGlyphs">St</text>
<text x="2139.7" y="4301.6" font-size="50" text-anchor="middle" textLength="69.5" lengthAdjust="spacingAndGlyphs">NS</text>
<text x="2235.7" y="4301.6" font-size="50" text-anchor="middle" textLength="47.2" lengthAdjust="spacingAndGlyphs">St</text>
<path d="M1830.5 3817.6H1876.4M1830.5 4079.1H1876.4M1853.5 3817.6V4079.1M1925.7 3889.8H1971.6M1925.7 4092.8H1971.6M1948.7 3889.8V4092.8M2115.6 4199.5H2161.4M2115.6 4211H2161.4M2138.5 4199.5V4211M2210.8 4146.7H2256.6M2210.8 4222.4H2256.6M2233.7 4146.7V4222.4" stroke="#000" stroke-width="2.1999999999999997" fill="none"/>
<circle cx="1854.6" cy="3767.7" r="11" fill="#fff" stroke="#000" stroke-width="2.4"/>
<circle cx="1854.6" cy="3875.5" r="11" fill="#fff" stroke="#000" stroke-width="2.4"/>
<circle cx="1854.6" cy="4202.9" r="11" fill="#fff" stroke="#000" stroke-width="2.4"/>
<circle cx="1949.3" cy="3860" r="12.2" fill="#000"/>
<circle cx="1949.3" cy="3923.1" r="12.2" fill="#000"/>
<circle cx="1949.3" cy="4189.7" r="12.2" fill="#000"/>
<circle cx="2116.1" cy="4190.9" r="11" fill="#fff" stroke="#000" stroke-width="2.4"/>
<circle cx="2116.1" cy="4215.6" r="11" fill="#fff" stroke="#000" stroke-width="2.4"/>
<circle cx="2160.9" cy="4208.1" r="11" fill="#fff" stroke="#000" stroke-width="2.4"/>
<circle cx="2233.7" cy="4110.6" r="12.2" fill="#000"/>
<circle cx="2210.8" cy="4222.4" r="12.2" fill="#000"/>
<circle cx="2256.6" cy="4221.3" r="12.2" fill="#000"/>
</g>
<g id="pG">
<clipPath id="dc1950"><ellipse cx="396.6" cy="2034.5" rx="133.5" ry="54.5"/><path d="M257.9 2030.5V2062.5A138.7 67.3 0 0 0 535.3 2062.5V2030.5Z"/></clipPath><path d="M252.4 2021.5A144.2 71.5 0 0 1 540.8 2021.5V2062.5A144.2 71.5 0 0 1 252.4 2062.5Z" fill="#e6edf0" stroke="#8e9ba6" stroke-width="1.3"/>
<path d="M257.9 2030.5V2062.5A138.7 67.3 0 0 0 535.3 2062.5V2030.5Z" fill="#d98f94"/>
<path d="M260.4 2062.5A136.2 64.8 0 0 0 532.8 2062.5" fill="none" stroke="#c9727a" stroke-width="5" opacity=".45"/>
<ellipse cx="396.6" cy="2034.5" rx="135.5" ry="56.5" fill="#c55c5e"/>
<path d="M264.1 2029.5A133.5 54.9 0 0 1 529.1 2029.5" fill="none" stroke="#b3494d" stroke-width="3.2"/>
<g clip-path="url(#dc1950)">
<path d="M414 1998.3L437.2 2017.5M437.2 2017.5l12.3 1.6M437.2 2017.5l2.9 7.5M414 1998.3L401.1 2022.3M401.1 2022.3l1 14.9M401.1 2022.3l-11.8 7.3M414 1998.3L380.1 2007.6M380.1 2007.6l-8.9 8.7M380.1 2007.6l-10.6 -4.9M414 1998.3L391.4 1974.4M391.4 1974.4l-11.9 -6M391.4 1974.4l-0.4 -10.1M414 1998.3L411.8 1965.7M411.8 1965.7l-7.9 -10.4M411.8 1965.7l8.3 -10M414 1998.3L446.7 1997M446.7 1997l8 -7.7M446.7 1997l10.6 9.4M356 2018.2L386.5 2020.5M386.5 2020.5l8.5 -7.1M386.5 2020.5l7.5 6.8M356 2018.2L362.9 2045.4M362.9 2045.4l8.3 8.8M362.9 2045.4l-5.9 13.1M356 2018.2L324.4 2037.9M324.4 2037.9l-2.9 14.6M324.4 2037.9l-9.1 -0.3M356 2018.2L321.7 2001.5M321.7 2001.5l-11.6 2.8M321.7 2001.5l-3.4 -8.9M356 2018.2L355.3 1988.6M355.3 1988.6l-4.3 -7.3M355.3 1988.6l9.9 -11.2M356 2018.2L376.7 1991.6M376.7 1991.6l0.2 -9.1M376.7 1991.6l11.9 -6.1M453.5 2027.5L425.8 2046.3M425.8 2046.3l-6 11.6M425.8 2046.3l-14 2M453.5 2027.5L433.3 2004.2M433.3 2004.2l-10.1 -1.4M433.3 2004.2l-2.5 -11.9M453.5 2027.5L448.7 2002M448.7 2002l-8.1 -9.2M448.7 2002l2.5 -7.9M453.5 2027.5L484.7 2022.7M484.7 2022.7l8.2 -11.7M484.7 2022.7l10.5 4.1M453.5 2027.5L481.7 2046.1M481.7 2046.1l11.9 0.3M481.7 2046.1l3.8 14.1M453.5 2027.5L449.2 2055.5M449.2 2055.5l5.1 8.2M449.2 2055.5l-9 11.8M494.4 2027.5L491.7 2051.3M491.7 2051.3l5.5 10.7M491.7 2051.3l-5.9 10.8M494.4 2027.5L467.7 2036.5M467.7 2036.5l-5.8 9.6M467.7 2036.5l-10 -3M494.4 2027.5L466.6 2007M466.6 2007l-8 -2.5M466.6 2007l-2.7 -14.5M494.4 2027.5L491.6 1999.1M491.6 1999.1l-6.8 -7.7M491.6 1999.1l4.5 -9.1M494.4 2027.5L524.6 2012.3M524.6 2012.3l5.2 -9.3M524.6 2012.3l8.1 1.4M494.4 2027.5L524.1 2046M524.1 2046l9.5 1M524.1 2046l2.1 9.4M297.7 2046.5L328.7 2062.7M328.7 2062.7l10.2 1.1M328.7 2062.7l6.5 12.2M297.7 2046.5L296.7 2079M296.7 2079l4.4 9.4M296.7 2079l-9 11M297.7 2046.5L270.6 2058.7M270.6 2058.7l-6.9 9.4M270.6 2058.7l-13.6 0.2M297.7 2046.5L276.5 2028.2M276.5 2028.2l-13.1 -3.8M276.5 2028.2l-1.7 -13.5M297.7 2046.5L296.9 2021.4M296.9 2021.4l-7 -11.6M296.9 2021.4l4.8 -9.2M297.7 2046.5L326.6 2032.8M326.6 2032.8l6.9 -12.7M326.6 2032.8l8 -0.4M403.8 2047.5L364 2045.8M364 2045.8l-12.7 7.3M364 2045.8l-6.5 -7M403.8 2047.5L383.7 2020M383.7 2020l-10.9 -4M383.7 2020l-0.4 -10.4M403.8 2047.5L409 2023.4M409 2023.4l-4.4 -9M409 2023.4l6.5 -5.1M403.8 2047.5L440 2049.5M440 2049.5l10.9 -9.3M440 2049.5l8.2 8.8M403.8 2047.5L434.7 2064.6M434.7 2064.6l10 1.1M434.7 2064.6l3.8 11M403.8 2047.5L392.4 2079.4M392.4 2079.4l3.6 9.8M392.4 2079.4l-10 9.8M356 2068.5L352.8 2095.7M352.8 2095.7l4.4 10.9M352.8 2095.7l-6.8 6.2M356 2068.5L320.3 2082M320.3 2082l-5.7 12.5M320.3 2082l-12.4 0.2M356 2068.5L333.6 2053.4M333.6 2053.4l-9.8 -1.6M333.6 2053.4l-3.1 -10.5M356 2068.5L352.7 2036.9M352.7 2036.9l-3.9 -7.4M352.7 2036.9l3.1 -8.3M356 2068.5L382.1 2043M382.1 2043l-0.2 -8.6M382.1 2043l9.9 -2.6M356 2068.5L386.3 2077.6M386.3 2077.6l11.5 -3.8M386.3 2077.6l5.9 7.2M467.6 2069.4L491.6 2090.7M491.6 2090.7l10.6 1.3M491.6 2090.7l3 8.7M467.6 2069.4L452.8 2096.6M452.8 2096.6l2.9 10.2M452.8 2096.6l-11.3 5M467.6 2069.4L435.2 2071M435.2 2071l-10.3 7.9M435.2 2071l-11.2 -6.3M467.6 2069.4L451.1 2047.2M451.1 2047.2l-11.9 -5M451.1 2047.2l-1.5 -10.9M467.6 2069.4L484.9 2040.1M484.9 2040.1l-3.2 -10.1M484.9 2040.1l12.7 -4.6M467.6 2069.4L500.8 2065M500.8 2065l11.3 -7.8M500.8 2065l12.4 6.9M405 2088.4L373.6 2104.8M373.6 2104.8l-3.3 8.1M373.6 2104.8l-8 -0.7M405 2088.4L368.3 2082.7M368.3 2082.7l-8.4 2M368.3 2082.7l-11.5 -8.2M405 2088.4L396.1 2065.6M396.1 2065.6l-7.7 -4.3M396.1 2065.6l5.1 -11.6M405 2088.4L440.5 2073.9M440.5 2073.9l6.4 -12M440.5 2073.9l13.4 -0.5M405 2088.4L438.6 2100.6M438.6 2100.6l13.2 -0.5M438.6 2100.6l3.2 7.8M405 2088.4L413 2117.2M413 2117.2l8 5.5M413 2117.2l-2.3 9.5" fill="none" stroke="#f0bf3c" stroke-width="1.8" stroke-linecap="round"/>
<circle cx="414" cy="1998.3" r="13.6" fill="#f9e08f"/>
<circle cx="414" cy="1998.3" r="7.2" fill="#f3b41c"/>
<circle cx="356" cy="2018.2" r="13.6" fill="#f9e08f"/>
<circle cx="356" cy="2018.2" r="7.2" fill="#f3b41c"/>
<circle cx="453.5" cy="2027.5" r="13.6" fill="#f9e08f"/>
<circle cx="453.5" cy="2027.5" r="7.2" fill="#f3b41c"/>
<circle cx="494.4" cy="2027.5" r="13.6" fill="#f9e08f"/>
<circle cx="494.4" cy="2027.5" r="7.2" fill="#f3b41c"/>
<circle cx="297.7" cy="2046.5" r="13.6" fill="#f9e08f"/>
<circle cx="297.7" cy="2046.5" r="7.2" fill="#f3b41c"/>
<circle cx="403.8" cy="2047.5" r="13.6" fill="#f9e08f"/>
<circle cx="403.8" cy="2047.5" r="7.2" fill="#f3b41c"/>
<circle cx="356" cy="2068.5" r="13.6" fill="#f9e08f"/>
<circle cx="356" cy="2068.5" r="7.2" fill="#f3b41c"/>
<circle cx="467.6" cy="2069.4" r="13.6" fill="#f9e08f"/>
<circle cx="467.6" cy="2069.4" r="7.2" fill="#f3b41c"/>
<circle cx="405" cy="2088.4" r="13.6" fill="#f9e08f"/>
<circle cx="405" cy="2088.4" r="7.2" fill="#f3b41c"/>
</g>
<path d="M260.1 2036.5A136.5 57.5 0 0 0 533.1 2036.5" fill="none" stroke="#c9d6de" stroke-width="2.2"/>
<ellipse cx="396.6" cy="2021.5" rx="140.6" ry="68.9" fill="none" stroke="#8e9ba6" stroke-width="1.1" opacity=".9"/>
<path d="M252.4 2021.5A144.2 71.5 0 0 1 540.8 2021.5V2062.5A144.2 71.5 0 0 1 252.4 2062.5Z" fill="none" stroke="#8e9ba6" stroke-width="1.3"/>
<clipPath id="dc2462"><ellipse cx="401.5" cy="2546.9" rx="133.5" ry="54.5"/><path d="M262.8 2542.9V2574.9A138.7 67.3 0 0 0 540.2 2574.9V2542.9Z"/></clipPath><path d="M257.3 2533.9A144.2 71.5 0 0 1 545.7 2533.9V2574.9A144.2 71.5 0 0 1 257.3 2574.9Z" fill="#e6edf0" stroke="#8e9ba6" stroke-width="1.3"/>
<path d="M262.8 2542.9V2574.9A138.7 67.3 0 0 0 540.2 2574.9V2542.9Z" fill="#d98f94"/>
<path d="M265.3 2574.9A136.2 64.8 0 0 0 537.7 2574.9" fill="none" stroke="#c9727a" stroke-width="5" opacity=".45"/>
<ellipse cx="401.5" cy="2546.9" rx="135.5" ry="56.5" fill="#c55c5e"/>
<path d="M269 2541.9A133.5 54.9 0 0 1 534 2541.9" fill="none" stroke="#b3494d" stroke-width="3.2"/>
<g clip-path="url(#dc2462)">
<path d="M418.9 2510.7L442.1 2529.9M442.1 2529.9l12.3 1.6M442.1 2529.9l2.9 7.5M418.9 2510.7L406 2534.7M406 2534.7l1 14.9M406 2534.7l-11.8 7.3M418.9 2510.7L385 2520M385 2520l-8.9 8.7M385 2520l-10.6 -4.9M418.9 2510.7L396.3 2486.8M396.3 2486.8l-11.9 -6M396.3 2486.8l-0.4 -10.1M418.9 2510.7L416.7 2478.1M416.7 2478.1l-7.9 -10.4M416.7 2478.1l8.3 -10M418.9 2510.7L451.6 2509.4M451.6 2509.4l8 -7.7M451.6 2509.4l10.6 9.4M360.9 2530.6L391.4 2532.9M391.4 2532.9l8.5 -7.1M391.4 2532.9l7.5 6.8M360.9 2530.6L367.8 2557.8M367.8 2557.8l8.3 8.8M367.8 2557.8l-5.9 13.1M360.9 2530.6L329.3 2550.3M329.3 2550.3l-2.9 14.6M329.3 2550.3l-9.1 -0.3M360.9 2530.6L326.6 2513.9M326.6 2513.9l-11.6 2.8M326.6 2513.9l-3.4 -8.9M360.9 2530.6L360.2 2501M360.2 2501l-4.3 -7.3M360.2 2501l9.9 -11.2M360.9 2530.6L381.6 2504M381.6 2504l0.2 -9.1M381.6 2504l11.9 -6.1M458.4 2539.9L430.7 2558.7M430.7 2558.7l-6 11.6M430.7 2558.7l-14 2M458.4 2539.9L438.2 2516.6M438.2 2516.6l-10.1 -1.4M438.2 2516.6l-2.5 -11.9M458.4 2539.9L453.6 2514.4M453.6 2514.4l-8.1 -9.2M453.6 2514.4l2.5 -7.9M458.4 2539.9L489.6 2535.1M489.6 2535.1l8.2 -11.7M489.6 2535.1l10.5 4.1M458.4 2539.9L486.6 2558.5M486.6 2558.5l11.9 0.3M486.6 2558.5l3.8 14.1M458.4 2539.9L454.1 2567.9M454.1 2567.9l5.1 8.2M454.1 2567.9l-9 11.8M499.3 2539.9L496.6 2563.7M496.6 2563.7l5.5 10.7M496.6 2563.7l-5.9 10.8M499.3 2539.9L472.6 2548.9M472.6 2548.9l-5.8 9.6M472.6 2548.9l-10 -3M499.3 2539.9L471.5 2519.4M471.5 2519.4l-8 -2.5M471.5 2519.4l-2.7 -14.5M499.3 2539.9L496.5 2511.5M496.5 2511.5l-6.8 -7.7M496.5 2511.5l4.5 -9.1M499.3 2539.9L529.5 2524.7M529.5 2524.7l5.2 -9.3M529.5 2524.7l8.1 1.4M499.3 2539.9L529 2558.4M529 2558.4l9.5 1M529 2558.4l2.1 9.4M302.6 2558.9L333.6 2575.1M333.6 2575.1l10.2 1.1M333.6 2575.1l6.5 12.2M302.6 2558.9L301.6 2591.4M301.6 2591.4l4.4 9.4M301.6 2591.4l-9 11M302.6 2558.9L275.5 2571.1M275.5 2571.1l-6.9 9.4M275.5 2571.1l-13.6 0.2M302.6 2558.9L281.4 2540.6M281.4 2540.6l-13.1 -3.8M281.4 2540.6l-1.7 -13.5M302.6 2558.9L301.8 2533.8M301.8 2533.8l-7 -11.6M301.8 2533.8l4.8 -9.2M302.6 2558.9L331.5 2545.2M331.5 2545.2l6.9 -12.7M331.5 2545.2l8 -0.4M408.7 2559.9L368.9 2558.2M368.9 2558.2l-12.7 7.3M368.9 2558.2l-6.5 -7M408.7 2559.9L388.6 2532.4M388.6 2532.4l-10.9 -4M388.6 2532.4l-0.4 -10.4M408.7 2559.9L413.9 2535.8M413.9 2535.8l-4.4 -9M413.9 2535.8l6.5 -5.1M408.7 2559.9L444.9 2561.9M444.9 2561.9l10.9 -9.3M444.9 2561.9l8.2 8.8M408.7 2559.9L439.6 2577M439.6 2577l10 1.1M439.6 2577l3.8 11M408.7 2559.9L397.3 2591.8M397.3 2591.8l3.6 9.8M397.3 2591.8l-10 9.8M360.9 2580.9L357.7 2608.1M357.7 2608.1l4.4 10.9M357.7 2608.1l-6.8 6.2M360.9 2580.9L325.2 2594.4M325.2 2594.4l-5.7 12.5M325.2 2594.4l-12.4 0.2M360.9 2580.9L338.5 2565.8M338.5 2565.8l-9.8 -1.6M338.5 2565.8l-3.1 -10.5M360.9 2580.9L357.6 2549.3M357.6 2549.3l-3.9 -7.4M357.6 2549.3l3.1 -8.3M360.9 2580.9L387 2555.4M387 2555.4l-0.2 -8.6M387 2555.4l9.9 -2.6M360.9 2580.9L391.2 2590M391.2 2590l11.5 -3.8M391.2 2590l5.9 7.2M472.5 2581.8L496.5 2603.1M496.5 2603.1l10.6 1.3M496.5 2603.1l3 8.7M472.5 2581.8L457.7 2609M457.7 2609l2.9 10.2M457.7 2609l-11.3 5M472.5 2581.8L440.1 2583.4M440.1 2583.4l-10.3 7.9M440.1 2583.4l-11.2 -6.3M472.5 2581.8L456 2559.6M456 2559.6l-11.9 -5M456 2559.6l-1.5 -10.9M472.5 2581.8L489.8 2552.5M489.8 2552.5l-3.2 -10.1M489.8 2552.5l12.7 -4.6M472.5 2581.8L505.7 2577.4M505.7 2577.4l11.3 -7.8M505.7 2577.4l12.4 6.9M409.9 2600.8L378.5 2617.2M378.5 2617.2l-3.3 8.1M378.5 2617.2l-8 -0.7M409.9 2600.8L373.2 2595.1M373.2 2595.1l-8.4 2M373.2 2595.1l-11.5 -8.2M409.9 2600.8L401 2578M401 2578l-7.7 -4.3M401 2578l5.1 -11.6M409.9 2600.8L445.4 2586.3M445.4 2586.3l6.4 -12M445.4 2586.3l13.4 -0.5M409.9 2600.8L443.5 2613M443.5 2613l13.2 -0.5M443.5 2613l3.2 7.8M409.9 2600.8L417.9 2629.6M417.9 2629.6l8 5.5M417.9 2629.6l-2.3 9.5" fill="none" stroke="#f0bf3c" stroke-width="1.8" stroke-linecap="round"/>
<circle cx="418.9" cy="2510.7" r="13.6" fill="#f9e08f"/>
<circle cx="418.9" cy="2510.7" r="7.2" fill="#f3b41c"/>
<circle cx="360.9" cy="2530.6" r="13.6" fill="#f9e08f"/>
<circle cx="360.9" cy="2530.6" r="7.2" fill="#f3b41c"/>
<circle cx="458.4" cy="2539.9" r="13.6" fill="#f9e08f"/>
<circle cx="458.4" cy="2539.9" r="7.2" fill="#f3b41c"/>
<circle cx="499.3" cy="2539.9" r="13.6" fill="#f9e08f"/>
<circle cx="499.3" cy="2539.9" r="7.2" fill="#f3b41c"/>
<circle cx="302.6" cy="2558.9" r="13.6" fill="#f9e08f"/>
<circle cx="302.6" cy="2558.9" r="7.2" fill="#f3b41c"/>
<circle cx="408.7" cy="2559.9" r="13.6" fill="#f9e08f"/>
<circle cx="408.7" cy="2559.9" r="7.2" fill="#f3b41c"/>
<circle cx="360.9" cy="2580.9" r="13.6" fill="#f9e08f"/>
<circle cx="360.9" cy="2580.9" r="7.2" fill="#f3b41c"/>
<circle cx="472.5" cy="2581.8" r="13.6" fill="#f9e08f"/>
<circle cx="472.5" cy="2581.8" r="7.2" fill="#f3b41c"/>
<circle cx="409.9" cy="2600.8" r="13.6" fill="#f9e08f"/>
<circle cx="409.9" cy="2600.8" r="7.2" fill="#f3b41c"/>
</g>
<path d="M265 2548.9A136.5 57.5 0 0 0 538 2548.9" fill="none" stroke="#c9d6de" stroke-width="2.2"/>
<ellipse cx="401.5" cy="2533.9" rx="140.6" ry="68.9" fill="none" stroke="#8e9ba6" stroke-width="1.1" opacity=".9"/>
<path d="M257.3 2533.9A144.2 71.5 0 0 1 545.7 2533.9V2574.9A144.2 71.5 0 0 1 257.3 2574.9Z" fill="none" stroke="#8e9ba6" stroke-width="1.3"/>
<clipPath id="dc2972"><ellipse cx="401.5" cy="3056.9" rx="133.5" ry="54.5"/><path d="M262.8 3052.9V3084.9A138.7 67.3 0 0 0 540.2 3084.9V3052.9Z"/></clipPath><path d="M257.3 3043.9A144.2 71.5 0 0 1 545.7 3043.9V3084.9A144.2 71.5 0 0 1 257.3 3084.9Z" fill="#e6edf0" stroke="#8e9ba6" stroke-width="1.3"/>
<path d="M262.8 3052.9V3084.9A138.7 67.3 0 0 0 540.2 3084.9V3052.9Z" fill="#d98f94"/>
<path d="M265.3 3084.9A136.2 64.8 0 0 0 537.7 3084.9" fill="none" stroke="#c9727a" stroke-width="5" opacity=".45"/>
<ellipse cx="401.5" cy="3056.9" rx="135.5" ry="56.5" fill="#c55c5e"/>
<path d="M269 3051.9A133.5 54.9 0 0 1 534 3051.9" fill="none" stroke="#b3494d" stroke-width="3.2"/>
<g clip-path="url(#dc2972)">
<path d="M337.2 3046.2L327.5 3015.8M337.2 3046.2L303.1 3028M337.2 3046.2L295.8 3064.5M337.2 3046.2L356.7 3020.7M337.2 3046.2L376.2 3047.5M337.2 3046.2L356.7 3071.8M337.2 3046.2L334.8 3067M337.2 3046.2L315.3 3059.7M356.7 3020.7L376.2 3015.8M356.7 3071.8L356.7 3086.5M356.7 3086.5L344.6 3101.1M295.8 3064.5L320.2 3084M303.1 3028L300.7 3018.2M409.1 3076.7L381.1 3079.2M409.1 3076.7L376.2 3106M409.1 3076.7L405.5 3101.1M409.1 3076.7L425 3106M409.1 3076.7L432.3 3071.8M409.1 3076.7L417.7 3054.8M409.1 3076.7L400.6 3052.3M409.1 3076.7L388.4 3064.5M417.7 3054.8L432.3 3042.6M432.3 3071.8L449.4 3076.7M449.4 3076.7L464 3059.7M464 3059.7L459.1 3042.6M425 3106L425 3115.7M400.6 3052.3L398.2 3032.8M398.2 3032.8L415.2 3023.1M432.3 3042.6L442 3025.5M442 3025.5L459.1 3015.8M459.1 3015.8L473.7 3028M473.7 3028L473.7 3042.6M464 3059.7L483.5 3071.8M483.5 3071.8L495.7 3064.5M495.7 3064.5L495.7 3052.3M483.5 3071.8L503 3081.6M503 3081.6L505.4 3091.3M449.4 3076.7L446.9 3101.1M376.2 3047.5L398.2 3059.7M361.6 3040.2L398.2 3037.7" fill="none" stroke="#eeb63a" stroke-width="1.3" stroke-linecap="round"/>
<path d="M351.9 3015.8L373.8 3015.8M407.9 3017L432.3 3017M407.9 3042.6L446.9 3042.6M456.7 3043.8L492 3043.8M464 3029.2L488.4 3029.2M476.2 3049.9L515.2 3049.9M294.6 3065.7L320.2 3082.8M326.3 3088.9L353.1 3106M427.4 3102.3L466.4 3103.5M434.7 3082.8L459.1 3082.8M434.7 3090.1L456.7 3090.1M381.1 3077.9L400.6 3077.9M493.2 3090.9L513.9 3090.9M362.8 3053.6L376.2 3057.2" fill="none" stroke="#f0c04a" stroke-width="3.6" stroke-linecap="round"/>
<circle cx="337.2" cy="3046.2" r="10.5" fill="#f6cf63"/>
<circle cx="337.2" cy="3046.2" r="7" fill="#f3b41c"/>
<circle cx="409.1" cy="3076.7" r="10.5" fill="#f6cf63"/>
<circle cx="409.1" cy="3076.7" r="7" fill="#f3b41c"/>
</g>
<path d="M265 3058.9A136.5 57.5 0 0 0 538 3058.9" fill="none" stroke="#c9d6de" stroke-width="2.2"/>
<ellipse cx="401.5" cy="3043.9" rx="140.6" ry="68.9" fill="none" stroke="#8e9ba6" stroke-width="1.1" opacity=".9"/>
<path d="M257.3 3043.9A144.2 71.5 0 0 1 545.7 3043.9V3084.9A144.2 71.5 0 0 1 257.3 3084.9Z" fill="none" stroke="#8e9ba6" stroke-width="1.3"/>
<path d="M402.3 2169V2236M402.3 2316V2388" stroke="#1a1a1a" stroke-width="5.2" fill="none"/>
<path d="M402.3 2426L390.8 2384H413.8Z" fill="#1a1a1a"/>
<rect x="220" y="2236.5" width="362" height="79.5" rx="6" fill="#d5d8d8" stroke="#a9acac" stroke-width="1.2"/>
<text x="401" y="2296" font-size="51" text-anchor="middle" >3h NS &amp; 3h St</text>
<path d="M402.3 2681V2722M402.3 2857V2902" stroke="#1a1a1a" stroke-width="5.2" fill="none"/>
<path d="M402.3 2940L390.8 2898H413.8Z" fill="#1a1a1a"/>
<rect x="220" y="2722.5" width="362" height="134" rx="7" fill="#d5d8d8" stroke="#1a1a1a" stroke-width="1.6"/>
<text x="401" y="2779" font-size="50" text-anchor="middle" >Differentiation</text>
<text x="401" y="2833" font-size="50" text-anchor="middle" >(T3/CNTF)</text>
<text x="402" y="1860" font-size="50" text-anchor="middle" >OPCs - 3DIV</text>
<text x="401" y="1920" font-size="51" text-anchor="middle">(WT &amp; TNFR2<tspan font-size="22" dy="-20" fill="#666">-/-</tspan><tspan dy="20">)</tspan></text>
<text x="402" y="3223" font-size="50" text-anchor="middle" >OLs - 7DIV</text>
<text x="402" y="3275" font-size="50" text-anchor="middle" >(HCA)</text>
</g>
<g id="pJ">
<defs>
<filter id="rough" x="-5%" y="-5%" width="110%" height="110%"><feTurbulence type="fractalNoise" baseFrequency="0.035" numOctaves="3" seed="4" result="n"/><feDisplacementMap in="SourceGraphic" in2="n" scale="22" xChannelSelector="R" yChannelSelector="G"/></filter>
<filter id="rough2" x="-5%" y="-5%" width="110%" height="110%"><feTurbulence type="fractalNoise" baseFrequency="0.06" numOctaves="3" seed="9" result="n"/><feDisplacementMap in="SourceGraphic" in2="n" scale="30" xChannelSelector="R" yChannelSelector="G"/></filter>
<filter id="blur2"><feGaussianBlur stdDeviation="2"/></filter>
<filter id="blur1"><feGaussianBlur stdDeviation="0.9"/></filter>
<filter id="blur6"><feGaussianBlur stdDeviation="6"/></filter>
<filter id="speck" x="0" y="0" width="100%" height="100%" color-interpolation-filters="sRGB"><feTurbulence type="fractalNoise" baseFrequency="0.33" numOctaves="2" seed="7"/><feColorMatrix type="matrix" values="0 0 0 0 0.15  0 0 0 0 0.82  0 0 0 0 0.1  0 10 0 0 -6.9"/></filter>
<filter id="nmul" x="0" y="0" width="100%" height="100%" color-interpolation-filters="sRGB"><feTurbulence type="fractalNoise" baseFrequency="0.014" numOctaves="2" seed="5" result="lo"/><feDisplacementMap in="SourceGraphic" in2="lo" scale="110" xChannelSelector="R" yChannelSelector="G" result="d"/><feTurbulence type="fractalNoise" baseFrequency="0.24" numOctaves="2" seed="12" result="n"/><feColorMatrix in="n" type="matrix" values="0 0 0 0 1  0 0 0 0 1  0 0 0 0 1  0 7 0 0 -3.2" result="m"/><feComposite in="d" in2="m" operator="in"/></filter>
<filter id="nmul2" x="0" y="0" width="100%" height="100%" color-interpolation-filters="sRGB"><feTurbulence type="fractalNoise" baseFrequency="0.03" numOctaves="2" seed="8" result="lo"/><feDisplacementMap in="SourceGraphic" in2="lo" scale="45" xChannelSelector="R" yChannelSelector="G" result="d"/><feTurbulence type="fractalNoise" baseFrequency="0.16" numOctaves="3" seed="31" result="n"/><feColorMatrix in="n" type="matrix" values="0 0 0 0 1  0 0 0 0 1  0 0 0 0 1  0 6.5 0 0 -3" result="m"/><feComposite in="d" in2="m" operator="in"/></filter>
<radialGradient id="hub"><stop offset="0" stop-color="#46e62c" stop-opacity="1"/><stop offset=".45" stop-color="#3ad424" stop-opacity=".8"/><stop offset=".8" stop-color="#2cc01c" stop-opacity=".35"/><stop offset="1" stop-color="#22a818" stop-opacity="0"/></radialGradient>
<radialGradient id="haze"><stop offset="0" stop-color="#1f8f12" stop-opacity=".55"/><stop offset=".6" stop-color="#17780e" stop-opacity=".3"/><stop offset="1" stop-color="#0f5a0a" stop-opacity="0"/></radialGradient>
<filter id="speck2" x="0" y="0" width="100%" height="100%" color-interpolation-filters="sRGB"><feTurbulence type="fractalNoise" baseFrequency="0.3" numOctaves="2" seed="21"/><feColorMatrix type="matrix" values="0 0 0 0 0.18  0 0 0 0 0.85  0 0 0 0 0.1  0 10 0 0 -5.7"/></filter>
<filter id="grain" x="0" y="0" width="100%" height="100%" color-interpolation-filters="sRGB"><feTurbulence type="fractalNoise" baseFrequency="0.45" numOctaves="2" seed="3"/><feColorMatrix type="matrix" values="0 0 0 0 0  0 0 0 0 0  0 0 0 0 0  0 3.2 0 0 -1.25"/><feComposite in2="SourceAlpha" operator="in"/></filter>
<radialGradient id="glow"><stop offset="0" stop-color="#5fe33a" stop-opacity=".85"/><stop offset=".35" stop-color="#35b81f" stop-opacity=".5"/><stop offset="1" stop-color="#1a8a10" stop-opacity="0"/></radialGradient>
<radialGradient id="glow2"><stop offset="0" stop-color="#3cc425" stop-opacity=".5"/><stop offset=".5" stop-color="#23a016" stop-opacity=".28"/><stop offset="1" stop-color="#158010" stop-opacity="0"/></radialGradient>
<radialGradient id="org"><stop offset="0" stop-color="#f8920c"/><stop offset=".55" stop-color="#ea7e0c" stop-opacity=".95"/><stop offset="1" stop-color="#b06a0a" stop-opacity="0"/></radialGradient>
<radialGradient id="gdot"><stop offset="0" stop-color="#4dff3a"/><stop offset=".6" stop-color="#2fd622"/><stop offset="1" stop-color="#1c9a14" stop-opacity="0"/></radialGradient>
<clipPath id="cTL"><rect x="967.3" y="2593" width="654.3" height="442"/></clipPath>
<clipPath id="cTR"><rect x="1627.5" y="2593" width="651.3" height="442"/></clipPath>
<clipPath id="cBL"><rect x="967.3" y="3040.2" width="654.3" height="441.6"/></clipPath>
<clipPath id="cBR"><rect x="1627.5" y="3040.2" width="651.3" height="441.6"/></clipPath>
</defs>
<rect x="966" y="2592" width="1314" height="891" fill="#ececec"/>
<g clip-path="url(#cTL)">
<rect x="967" y="2593" width="655" height="443" fill="#030b01"/>
<ellipse cx="1392.258064516129" cy="2662.043010752688" rx="210" ry="62" fill="url(#glow2)" opacity=".7"/>
<path d="M1295 2695l-6 0-6-2-5-2-5-3-6-3M1295 2689l-5-4-4-4-6-3-3-5-1-6M1296 2671l-5-3-3-5-1-6-4-5M1289 2654l-6 2M1296 2701l-1-6 0-6 1-6 1-6-1-6-2-6-2-5-3-6-3-4M1280 2705l1 6 2 5 2 6M1274 2705l-4-5-1-6M1263 2706l-6-1M1290 2698l-4 4-6 3-6 0-6-1-5 2-6 4M1278 2698l-3-5-3-5-4-5-5-3-4-4M1267 2701l-2 5-1 6-2 6 0 6 3 6 2 5M1239 2711l1 6M1244 2707l-5 4-5 3M1240 2711l1 6M1313 2704l-5-3-6 1-6-1-6-3-6 1-6-1-6 0-5 3-6 2-6-1-5 2-6 3-4 4-4 5-2 5M1325 2700l-6 2-6 2-6 0-5-2-6-2-5-2-5-4-5-4-3-5-3-5-3-5-4-4-2-6-1-6 0-6 0-6-2-5-5-5-4-4-4-4M1279 2655l-5 2-5 3-5 4M1275 2638l-4-4M1319 2699l-4-4-4-4-5-4-5-4-4-4-4-5-4-4-3-5-4-4-3-6-2-5-1-6-1-6-2-6M1278 2677l-3-6-3-5M1308 2696l-6-3-5-2-5-3-4-5-4-4-6-2-5-3-6 0-6-2-6-1M1226 2724l-3 5M1256 2721l-6 1-6-1-6 1-6 1-6 1-6-1M1325 2700l-6-1-6-2-5-1-6-1-6 1-5 4-6 3-5 1-6 2-5 4-5 2-4 4-4 5-6 2-5 3-6 2-5 3-6 0-6 1-6 0M1297 2645l5-4 3-5 0-6 1-6M1292 2642l-5 4-3 5M1280 2642l-4-4M1321 2671l-4-5-3-5-5-3-5-3-3-5-4-5-5-3-6-1-6 1-6 0M1332 2641l2-5 4-5 4-4M1319 2654l5-4 3-5 5-4 6-2 4-5 3-5 3-5 3-5M1328 2614l1-6 1-6M1330 2626l0-6-2-6-2-6-4-4-5-3-5-4M1332 2620l0-6 1-6 3-5M1325 2700l-3-5-1-6 0-6-1-6 1-6 0-5-1-6-1-6 2-6 4-5 1-6 2-5 2-6 2-6 4-4 5-3 5-4 5-2 6 0 6-1M1367 2680l2-6 1-6M1343 2680l6 1 6-1 6 0 6 0 6-1 5-2 6 1M1346 2652l4-5 3-5 3-5M1339 2636l-2-5M1325 2694l4-4 6-2 4-4 4-4 4-5 2-6 0-6-2-5-1-6 0-6-2-6-5-4-3-5M1333 2679l-3-6-2-6-3-5-3-5-5-3-6-1-6-2-6-1-6-1M1368 2678l5-3 6-1M1380 2680l3-6M1347 2667l5 2 6 2 5 3 5 4 6 2 6 0 5-2M1355 2654l-6-1-5-3-6-2-6-1M1356 2645l5-3M1351 2649l5-4 3-5 4-4M1356 2660l-1-6-4-5-4-3-4-5-5-3-5-3M1325 2700l0-6 1-5 3-6 4-4 4-5 5-3 5-4 5-2 4-5 5-2 5-3 5-4 4-4 6-3 5-3 5-4M1361 2700l0 6-2 6M1340 2690l6 1 6 1 5 3 4 5 4 4 4 5 5 3M1348 2682l6 1 6 1 6 2 5 3 4 5 3 5 2 6 2 5M1366 2658l6 1 6 2 6 0M1325 2700l5-3 5-4 5-3 4-4 4-4 3-6 4-3 4-6 2-5 5-4 6-2 4-3 5-4 5-3 5-4M1375 2775l5 3 6 2 6-1 6 0M1377 2787l-6 2M1377 2793l6 2M1325 2700l6 3 4 4 2 5 4 6 2 5 4 4 5 4 5 3 4 4 3 5 5 4 3 5 1 6 3 5 0 6-1 6 2 6 0 6 0 6 2 6M1331 2716l3 6 1 6 3 4 3 6 2 5 4 5M1322 2750l4 5 5 3M1325 2756l6 1M1332 2710l-1 6-2 6-3 5-3 6-1 6 0 5 0 6 3 6 4 4 6 2M1364 2751l-3 5-4 4M1362 2761l2 6M1365 2757l-3 4-2 6M1366 2762l4 5M1325 2700l3 6 4 4 2 6 4 4 5 4 5 3 5 3 5 4 3 5 1 6 2 6 1 6 1 5 3 6M1344 2752l-3 5-1 6-1 6M1361 2756l5-4M1335 2744l6 3 3 5 5 3 6 1 6 0 6-2M1332 2717l-2 5-1 6 1 6 2 5 3 5 5 5 4 4 4 4 4 5 2 5 0 6-2 6-1 6-4 4M1344 2756l-3 5 0 6-1 6-4 5-5 3-6 2-5 1-6 3M1360 2763l3-5 4-5 1-5M1377 2764l2 6 3 5M1348 2761l6 0 6 2 6 1 5 1 6-1 6 2 6-1M1325 2700l2 6 3 5 2 6 3 5 1 6 2 5 1 6 1 6 1 6 3 5 4 5 3 5 3 5 0 6 0 6-2 6-1 6-3 5-5 4-4 4M1337 2720l4-4 3-5 2-6 2-6 2-5-1-6M1349 2732l3 5 4 5 2 5 2 6M1354 2749l-4 4-5 3M1342 2723l3 5 4 4 2 6 2 5 1 6-1 6-1 6M1382 2731l3-4M1364 2732l6-1 6 2 6-2 5-3M1319 2717l6 3 6 0 6 0 5 3 5 3 6 0 6 2 5 4 4 4 2 6 2 5 2 6 4 5M1272 2746l-6 0M1299 2760l-6-2-5-4-4-4-6-2-6-2-5-2M1280 2759l2-6M1282 2764l-2-5-4-5M1307 2751l-4 4-4 5-5 3-6 2-6-1-6 1-6 2-6-1-5-3M1291 2765l-5-3M1303 2762l-6 1-6 2-4 4M1305 2757l-2 5-5 4-5 3-5 3-5 3M1325 2700l-3 6-1 6-2 5-2 6-2 5-3 6-3 5-1 6-1 6-2 6-1 6 0 6 2 5 2 6 2 6 1 5 1 6 0 6-1 6M1431 2649l4-4 5-4 3-5 4-5 1-6 1-6-1-6-2-5-2-6M1421 2643l5 3 5 3 6 3 6 1 6-1 5-1 6-2 6 1 6 1 6 3 4 4 5 3 4 4 4 4 6 3M1429 2683l6-1 6 1 6 1 5-2M1430 2688l6 3 4 4 6 2M1421 2643l1 6 2 6-1 6 0 5 0 6 2 6 4 5 1 5 0 6 2 6-1 6-1 6 0 6M1398 2670l2 6 3 5 3 5 4 4 5 3 6 3 5 3 5 3 6 2 6 0M1388 2696l-1 6 1 6M1397 2688l-5 3-4 5-3 5-2 6 0 6M1389 2709l-2 5-2 6-3 5-3 5M1382 2718l-1 6 2 6M1421 2643l-4 4-4 4-4 5-5 4-3 5-3 5-1 6 0 6 0 6 1 6-1 6-3 5-5 4-4 4-3 5-3 5-1 6 1 6M1409 2643l-4-5-5-2-5-3-6-2-5-3-6-1-6 0-6-1-6 2M1380 2643l-4-4-4-5-2-6-1-5M1421 2643l-6-1-6 1-6-2-5-2-6 0-6 3-6 1-5 2-5 3-4 4-3 6 0 6 0 6M1408 2617l3-5 2-6M1408 2623l0-6-2-6 0-6-2-5M1411 2628l-3-5-1-6 2-5 1-6 0-6 0-6 0-6M1417 2612l4 3 6 3 6 1 6 0M1421 2608l-1-6-1-6 1-6M1406 2617l5-3 6-2 4-4 5-4 2-6 3-5 4-5 6-2M1402 2583l3-5M1409 2606l-1-6-1-6-3-5-2-6 0-6M1417 2597l6 1 6 0 6 0 5-3M1421 2643l-2-6-4-4-4-5-4-5-1-6 0-6 3-5 3-5 5-4 4-4 2-6 3-5 4-4 5-4 4-4M1442 2615l-4-5-5-4-5-3-5-2M1429 2627l5-4 5-3 3-5 3-6 2-5 1-6 0-6-1-6-1-6M1479 2623l5-4M1456 2624l6 1 6 0 5-2 6 0 5-3M1464 2632l6 0 6 2 4 4M1445 2618l6 3 5 3 3 5 5 3 4 5 3 5 5 4 5 3 5 2M1461 2580l3 5M1467 2580l5-2M1455 2581l6-1 6 0 6 0M1457 2605l-1-6 0-6-1-6 0-6-2-6 0-6 1-5M1449 2586l-6 1M1457 2594l-4-4-4-4-5-4M1459 2600l-2-6-1-6-1-6-1-6M1475 2568l-2-6M1421 2643l3-5 2-6 3-5 5-4 6-2 5-3 5-4 3-5 4-4 2-5 4-5 3-5 3-5 3-6 1-6 2-5 1-6 1-6M1423 2619l4-4 4-4 4-5 2-6 1-6 3-5 5-3M1420 2608l-5-3-4-4-6-3-6 0-5 1M1415 2605l-4 5-2 5-2 6-2 5M1406 2590l-5-2-6-2M1423 2613l-3-5-5-3-4-4-4-5-1-6 0-6 0-6M1427 2596l-3-5-5-4-5-3-3-5-3-5M1421 2643l3-6 0-6 0-6-1-6 0-6 2-5 1-6 1-6 2-6 1-6 2-5 3-6 1-6 1-5 3-6M1449 2643l4 5 3 5 1 6 1 6 0 6M1438 2639l6 3 5 1 5 4 6 2 5 3 4 4 5 3 6 2M1480 2603l5-3M1450 2637l5-4 4-4 4-4 6-2 5-3 3-5 3-6 0-6-1-6 1-6M1460 2623l6-2 5-2 6-2 6-1M1461 2594l3-6M1455 2634l3-5 2-6 0-6 0-6 1-6-1-5 1-6-1-6M1477 2626l3-6 4-4 3-5M1467 2632l5-4 5-2 6-3 6 0 6 2 4 3M1488 2622l0-6 3-6M1421 2643l6 0 6-2 5-2 6-1 6-1 5-3 6-1 6-1 5-4 5-3 5-3 6 0 6 0 6 2 6-1 6 2M1496 2715l-3-5-3-5M1491 2712l-6 2M1502 2717l-6-2-5-3-4-4-5-4M1536 2676l-3 6-4 3-3 6-4 4-3 6-5 3-3 5-4 5-5 3-4 4-3 6-3 5-1 6-3 5M1508 2669l-6 1-6 1-6-1-6 1-6-1M1503 2665l-2-5-2-6-1-6-4-5M1486 2659l-1-6-1-6M1477 2652l2-6M1536 2676l-6 0-5-3-6-2-6 0-5-2-5-4-6-1-5-2-6-3-4-5-5-2-6-1M1528 2652l-5-4M1526 2663l0-6 2-5 2-6M1531 2666l-5-3-6-1-6 0-6-2-6 0M1518 2641l-6 1-6 1-5 3-4 5M1536 2676l-3-5-2-5 0-6-1-6-3-5-4-5-5-3-5-4-6-2-5-1-5-5-4-3M1564 2655l0-6-2-5-1-6-2-6-4-4M1581 2635l6 3M1570 2654l1-6 1-6 4-5 5-2 5-5M1536 2676l4-4 3-5 5-4 5-3 6-2 5-3 6-1 5-4 5-2 6-1 6 2 6 2 6 1M1539 2671l4-4 6-3 4-4 6-1 6 0 5 3 6 2 5 2 6 0M1548 2644l4-4 3-5 5-4 2-6 3-5 3-5 5-4 6-1M1543 2625l-4-4-4-5M1550 2615l6 0M1540 2636l1-6 2-5 5-4 2-6 5-4M1546 2638l-6-2-5-3-4-4-3-5-4-4-5-3-6-3M1559 2602l0-6M1553 2604l6-2 5-2M1536 2676l3-5 3-5 3-5 3-5 1-6-1-6-2-6 0-6 0-6-1-6 1-6 4-5 3-5 3-5 3-5M1536 2676l6 3 5 2 5 4 4 4 4 5 3 5 2 6 2 5 4 5 3 5 4 4 6 3 5 3 4 4 5 4M1570 2709l-2 5-1 6 0 6-1 6-2 6-4 4-2 6M1589 2745l-3 5-4 4M1593 2750l6-3M1536 2676l6 3 5 3 5 3 4 5 4 4 4 5 4 4 2 6 2 5 2 6 4 4 4 5 2 6 3 5 2 5 4 5 3 5M1536 2676l-1 6-3 6-2 5-3 5-3 6-4 3-4 5-2 6-2 5-1 6-3 5-1 6-3 6-4 4-3 5-1 6M1295 2637l5-2M1267 2646l6-1 5-1 6-2 6-1 5-4 4-4M1258 2638l4 4 5 4 5 2 6 3 6 0 6 0 6 0 6 0 5 2 6 1M1258 2638l2 5 3 6 0 6 3 5 5 4 5 4 5 2 4 5 4 5 3 4 4 5 1 6M1251 2671l-2 6-5 4-5 4M1258 2638l-3 5-3 6-2 5-2 6 1 6 2 5 4 5 2 6 0 6-2 5M1258 2638l-6 0-6 2-5 3-5 3-5 4-5 3-4 4-5 4-5 2-6 1-6 0-6-1-5-3M1236 2618l-2-6-1-6 2-6M1258 2638l-5-4-5-3-5-4-4-4-3-5-5-4-4-4-3-5-5-4M1262 2628l2-5 4-5 3-5M1273 2608l3-6M1257 2632l5-4 4-4 3-5 3-6 1-5 2-6M1256 2593l-3-6M1263 2609l-2-6-1-6-4-4-6-3M1258 2638l-1-6 2-6 3-5 0-6 1-6 1-6 1-6-1-6 0-6 2-6M1282 2622l1-5 4-5 3-5 6-3 5-2M1292 2616l0-6 0-6 0-6M1258 2638l3-5 4-4 6-2 5-3 6-2 5-3 5-3 4-4 4-5 3-5 4-5" fill="none" stroke="#2aa31c" stroke-width="1.2" opacity=".7"/>
<g filter="url(#rough)">
<path d="M950.4 2734.1C960 2698.9 990.4 2739.3 1008 2738.9C1025.6 2738.5 1040 2733.3 1056.1 2731.7C1072.1 2730.1 1090.5 2728.1 1104.1 2729.3C1117.7 2730.5 1130.9 2732.5 1137.7 2738.9C1144.5 2745.3 1145.3 2758.1 1144.9 2767.7C1144.5 2777.3 1136.5 2786.1 1135.3 2796.5C1134.1 2806.9 1135.7 2819.7 1137.7 2830.1C1139.7 2840.5 1145.3 2849.4 1147.3 2859C1149.3 2868.6 1151.3 2879 1149.7 2887.8C1148.1 2896.6 1143.7 2906.2 1137.7 2911.8C1131.7 2917.4 1120.9 2916.6 1113.7 2921.4C1106.5 2926.2 1104.1 2936.2 1094.5 2940.6C1084.9 2945 1070.5 2945.4 1056.1 2947.8C1041.6 2950.2 1025.6 2954.6 1008 2955C990.4 2955.4 960 2987 950.4 2950.2C940.8 2913.4 940.8 2769.3 950.4 2734.1Z" fill="#486a1e"/>
<path d="M950.4 2666.8C958.4 2654.8 982.4 2662 998.4 2662C1014.4 2662 1030.4 2663.6 1046.5 2666.8C1062.5 2670 1082.5 2676.9 1094.5 2681.3C1106.5 2685.7 1116.9 2689.7 1118.5 2693.3C1120.1 2696.9 1112.9 2700.9 1104.1 2702.9C1095.3 2704.9 1077.7 2703.3 1065.7 2705.3C1053.7 2707.3 1043.2 2710.9 1032 2714.9C1020.8 2718.9 1012 2726.1 998.4 2729.3C984.8 2732.5 958.4 2744.5 950.4 2734.1C942.4 2723.7 942.4 2678.9 950.4 2666.8Z" fill="#6a6e20"/>
<path d="M1262.6 2830.1C1261 2820.5 1266.6 2810.9 1272.2 2801.3C1277.8 2791.7 1287.4 2780.1 1296.2 2772.5C1305 2764.9 1313.8 2759.3 1325 2755.7C1336.2 2752.1 1350.6 2752.1 1363.4 2750.9C1376.2 2749.7 1391.9 2747.7 1401.9 2748.5C1411.9 2749.3 1418.3 2750.1 1423.5 2755.7C1428.7 2761.3 1430.3 2773.3 1433.1 2782.1C1435.9 2790.9 1435.9 2802.9 1440.3 2808.5C1444.7 2814.1 1454.7 2810.5 1459.5 2815.7C1464.3 2820.9 1468.3 2831.7 1469.1 2839.7C1469.9 2847.8 1461.1 2855.8 1464.3 2863.8C1467.5 2871.8 1480.3 2879 1488.3 2887.8C1496.3 2896.6 1506.7 2908.6 1512.3 2916.6C1517.9 2924.6 1521.9 2928.6 1521.9 2935.8C1521.9 2943 1517.9 2952.6 1512.3 2959.8C1506.7 2967 1497.1 2973.8 1488.3 2979C1479.5 2984.2 1469.1 2990.2 1459.5 2991C1449.9 2991.8 1440.3 2987.4 1430.7 2983.8C1421.1 2980.2 1410.7 2974.2 1401.9 2969.4C1393.1 2964.6 1384.3 2960.6 1377.8 2955C1371.4 2949.4 1369 2942.2 1363.4 2935.8C1357.8 2929.4 1349.8 2923 1344.2 2916.6C1338.6 2910.2 1336.2 2903.8 1329.8 2897.4C1323.4 2891 1313.8 2884.6 1305.8 2878.2C1297.8 2871.8 1289 2867 1281.8 2859C1274.6 2851 1264.2 2839.7 1262.6 2830.1Z" fill="#627422"/>
<path d="M1445.1 2758.1C1450.7 2754.1 1467.5 2752.5 1478.7 2748.5C1489.9 2744.5 1501.1 2737.7 1512.3 2734.1C1523.5 2730.5 1534.7 2726.1 1545.9 2726.9C1557.2 2727.7 1570 2732.1 1579.6 2738.9C1589.2 2745.7 1596.8 2757.3 1603.6 2767.7C1610.4 2778.1 1618 2789.3 1620.4 2801.3C1622.8 2813.3 1620.8 2828.5 1618 2839.7C1615.2 2851 1610 2861.4 1603.6 2868.6C1597.2 2875.8 1588.4 2880.6 1579.6 2883C1570.8 2885.4 1559.6 2885.4 1550.8 2883C1541.9 2880.6 1534.7 2875 1526.7 2868.6C1518.7 2862.2 1510.7 2853.4 1502.7 2844.6C1494.7 2835.7 1485.9 2824.5 1478.7 2815.7C1471.5 2806.9 1465.1 2798.9 1459.5 2791.7C1453.9 2784.5 1447.5 2778.1 1445.1 2772.5C1442.7 2766.9 1439.5 2762.1 1445.1 2758.1Z" fill="#727c24"/>
<path d="M1142.5 2926.2C1146.5 2919.8 1156.9 2911.8 1166.5 2907C1176.1 2902.2 1188.1 2899.4 1200.1 2897.4C1212.2 2895.4 1226.6 2894.2 1238.6 2895C1250.6 2895.8 1261.8 2897 1272.2 2902.2C1282.6 2907.4 1293 2917.4 1301 2926.2C1309 2935 1317.8 2945.4 1320.2 2955C1322.6 2964.6 1320.2 2976.6 1315.4 2983.8C1310.6 2991 1299.4 2993.4 1291.4 2998.2C1283.4 3003 1276.2 3008.6 1267.4 3012.7C1258.6 3016.7 1248.2 3022.3 1238.6 3022.3C1229 3022.3 1219.4 3017.5 1209.7 3012.7C1200.1 3007.8 1189.7 3000.6 1180.9 2993.4C1172.1 2986.2 1163.3 2977.4 1156.9 2969.4C1150.5 2961.4 1144.9 2952.6 1142.5 2945.4C1140.1 2938.2 1138.5 2932.6 1142.5 2926.2Z" fill="#58701e"/>
<path d="M1272.2 3024.7C1277.8 3017.6 1294.6 3010.7 1305.8 3008.8C1317 3007 1332.6 3006.6 1339.4 3013.6C1346.2 3020.7 1357.8 3044.8 1346.6 3051.1C1335.4 3057.3 1284.6 3055.5 1272.2 3051.1C1259.8 3046.7 1266.6 3031.7 1272.2 3024.7Z" fill="#546a1c"/>
<path d="M1401.9 2710.1C1403.9 2705.7 1415.9 2703.7 1421.1 2705.3C1426.3 2706.9 1432.3 2714.9 1433.1 2719.7C1433.9 2724.5 1429.9 2732.1 1425.9 2734.1C1421.9 2736.1 1413.1 2735.7 1409.1 2731.7C1405.1 2727.7 1399.9 2714.5 1401.9 2710.1Z" fill="#5a6a1a"/>
<ellipse cx="1070.4659498207884" cy="2782.114695340502" rx="70" ry="55" fill="#34581a" opacity=".6"/>
<ellipse cx="1392.258064516129" cy="2887.777777777778" rx="75" ry="50" fill="#6e6018" opacity=".55"/>
<path d="M1433.1 2743.7C1434.3 2750.1 1435.9 2770.9 1440.3 2782.1C1444.7 2793.3 1452.3 2800.5 1459.5 2810.9C1466.7 2821.3 1475.5 2834.1 1483.5 2844.6C1491.5 2855 1497.9 2863.8 1507.5 2873.4C1517.1 2883 1535.5 2897.4 1541.1 2902.2" fill="none" stroke="#0a0f02" stroke-width="9"/>
<path d="M1334.6 2902.2C1338.6 2908.6 1350.6 2928.6 1358.6 2940.6C1366.6 2952.6 1373 2966.2 1382.7 2974.2C1392.3 2982.2 1410.7 2986.2 1416.3 2988.6" fill="none" stroke="#0a0f02" stroke-width="6"/>
</g>
<ellipse cx="1027.2" cy="2774.9" rx="9" ry="7.2" fill="#0b1203"/>
<ellipse cx="1099.3" cy="2810.9" rx="8" ry="6.4" fill="#0b1203"/>
<ellipse cx="1087.3" cy="2839.7" rx="7" ry="5.6" fill="#0b1203"/>
<ellipse cx="1058.5" cy="2878.2" rx="6" ry="4.8" fill="#0b1203"/>
<ellipse cx="1041.6" cy="2921.4" rx="7" ry="5.6" fill="#0b1203"/>
<ellipse cx="1012.8" cy="2820.5" rx="5" ry="4" fill="#0b1203"/>
<ellipse cx="1377.8" cy="2774.9" rx="11" ry="8.8" fill="#0b1203"/>
<ellipse cx="1296.2" cy="2810.9" rx="7" ry="5.6" fill="#0b1203"/>
<ellipse cx="1332.2" cy="2880.6" rx="7" ry="5.6" fill="#0b1203"/>
<ellipse cx="1344.2" cy="2921.4" rx="6" ry="4.8" fill="#0b1203"/>
<ellipse cx="1221.8" cy="2950.2" rx="9" ry="7.2" fill="#0b1203"/>
<ellipse cx="1277" cy="2959.8" rx="6" ry="4.8" fill="#0b1203"/>
<ellipse cx="1248.2" cy="2926.2" rx="5" ry="4" fill="#0b1203"/>
<ellipse cx="1572.4" cy="2839.7" rx="8" ry="6.4" fill="#0b1203"/>
<ellipse cx="1543.5" cy="2808.5" rx="5" ry="4" fill="#0b1203"/>
<ellipse cx="1469.1" cy="2931" rx="5" ry="4" fill="#0b1203"/>
<ellipse cx="1229" cy="2983.8" rx="5" ry="4" fill="#0b1203"/>
<rect x="967" y="2593" width="655" height="443" fill="#000" filter="url(#grain)" opacity=".22"/>
<g filter="url(#blur2)" opacity=".9">
<path d="M1085.8 2904.6C1090.5 2905.6 1105.4 2912 1113.7 2910.8C1121.9 2909.6 1129.9 2904 1135.3 2897.4C1140.7 2890.7 1144.5 2875.4 1146.4 2871" fill="none" stroke="#e8821e" stroke-width="11" stroke-linecap="round"/>
<path d="M1416.3 2864.7C1421.9 2864.2 1439.5 2859.6 1449.9 2861.8C1460.3 2864.1 1469.9 2870.6 1478.7 2878.2C1487.5 2885.7 1496.3 2898 1502.7 2907C1509.1 2916 1514.7 2927.8 1517.1 2932" fill="none" stroke="#dc8a20" stroke-width="5.5" stroke-linecap="round" opacity=".85"/>
<ellipse cx="1015.2" cy="2681.3" rx="17" ry="14" fill="url(#org)" transform="rotate(0 1015.2 2681.3)"/>
<ellipse cx="1320.2" cy="2834.9" rx="19" ry="11" fill="url(#org)" transform="rotate(40 1320.2 2834.9)"/>
<ellipse cx="1560.4" cy="2873.4" rx="15" ry="8" fill="url(#org)" transform="rotate(-10 1560.4 2873.4)"/>
<ellipse cx="1233.8" cy="3017.5" rx="10" ry="10" fill="url(#org)" transform="rotate(0 1233.8 3017.5)"/>
<ellipse cx="1423.5" cy="2755.7" rx="5" ry="10" fill="url(#org)" transform="rotate(0 1423.5 2755.7)"/>
<ellipse cx="1505.1" cy="2926.2" rx="10" ry="10" fill="url(#org)" transform="rotate(0 1505.1 2926.2)"/>
<ellipse cx="1012.8" cy="2947.8" rx="6" ry="6" fill="url(#org)" transform="rotate(0 1012.8 2947.8)"/>
<ellipse cx="1476.3" cy="2782.1" rx="4" ry="7" fill="url(#org)" transform="rotate(0 1476.3 2782.1)"/>
<ellipse cx="1267.4" cy="2758.1" rx="4" ry="6" fill="url(#org)" transform="rotate(0 1267.4 2758.1)"/>
</g>
<path d="M1015 2681l-1-5-1-5-3-4-1-4-3-5-2-4-4-3-4-3-3-4-3-4-3-4-4-3M1027 2646l-3-5-4-3M1015 2681l4-3 3-4 3-4 2-5 0-5 0-5-1-4 1-5-1-5 1-5 0-5M1011 2653l2-5 2-5 2-4M1020 2680l0-5 1-5-1-5-3-5-2-4-4-3-2-5-3-4-3-4M1026 2667l2-5 1-5 3-4 0-5M1025 2643l-5 1M1027 2647l-2-4-2-5M1029 2642l3-3 2-5M1015 2681l5-1 4-4 2-5 0-4 2-5 1-5-1-5-1-5 2-5 3-4 2-4M1051 2687l5 1 5-1M1040 2678l4 3 3 4 4 2 5 1 5 1M1015 2681l5 0 5-1 5 0 5-1 5-1 5-1 4 2 5 1 5 0 5 0 5-1 5 1 5 1M1046 2682l3 4 4 3M1033 2690l4-3 5-2 4-3 2-4 4-3 2-5M1043 2691l4 3 4 2 5 2 4 4M1055 2683l5 0 5-2M1015 2681l4 3 5 1 5 3 4 2 5 0 5 1 5-1 4-3 3-4 4-3 3-4 2-4M1017 2700l5 2 4 3 5 1 5-1M1030 2715l1 5-1 5M1033 2724l-4 3M1013 2691l1 5 3 4 4 3 4 3 2 5 3 4 3 4 0 5 0 5M1020 2716l-3 4M1007 2710l5 1 4 2 4 3 2 5M1010 2729l-2 5 0 5M1015 2681l0 5-2 5-2 5-2 4-2 5 0 5 1 4 1 5 1 5 0 5-2 5 0 5M1012 2685l-5-1-5 0-5-1-5 1-5-1-4-3-5-2-5 0-5 1-4 2M989 2684l-5 2-5 0-5 1M1008 2688l-5 0-5 0-5-1-4-3-3-4-4-4-4-2-4-3M1000 2694l-3 3-4 4-5 2-4 1M976 2691l-3 4M1005 2692l-5 2-5 1-5-1-5 0-5-1-4-2-4-3-2-5M985 2725l-5 0M980 2726l-5-2M1015 2681l-3 4-4 3-3 4-1 5-3 4-2 5-2 4-2 5-2 4-4 3-4 3-5 1-5 1M994 2654l-5 1M1005 2681l-1-5-3-4-3-4-2-4 0-5-2-5 0-5 0-5M977 2680l-5-1-5 0M982 2682l-5-2-3-4-4-3-3-4M972 2699l-5 0M986 2679l-4 3-3 4-2 4-3 5-2 4-1 5M962 2674l-4 3-3 5M957 2676l-4-3M1015 2681l-5-1-5 1-5-1-5 0-5 0-4-1-5-3-5-1-4-2-5 0-5 1-5 2-5-1M1015 2681l-4-2-3-4-2-4 0-5 2-5 0-5-1-5-1-5 0-5M1011 2679l-4 2-4 3-4 4-4 3-3 4-5 2-5 1M1013 2661l-3-4-3-4M1008 2675l0-5 2-5 3-4 4-2 3-4M1007 2662l5 0 5 0 5 1M1004 2671l2-4 1-5 3-4 4-3 4-3 3-4M1015 2681l-4-2-3-4-4-4-5-1-3-3-5-3-4-3-5-1-4-3-3-3-5-2" fill="none" stroke="#c9a21c" stroke-width="1.3" opacity=".7"/>
<g filter="url(#blur1)">
<g fill="none" stroke-linecap="round"><path d="M1429 2741h0M1422 2692h0M1492 2958h0M1381 2614h0M1470 2720h0M1307 2743h0M1120 2660h0M1614 2600h0M1521 2690h0M1328 2639h0M1176 2732h0M1206 2598h0M1156 2888h0M1009 2976h0M1230 2632h0M1219 2760h0" stroke="#27b81a" stroke-width="2.7" opacity="0.70"/><path d="M1101 2999h0M1145 2630h0M1513 2914h0M995 2982h0M1213 2700h0M1104 2595h0M1594 2599h0M1495 2688h0M1259 2796h0M1395 2641h0M1056 2622h0M1577 2684h0M1407 2989h0M1488 2940h0M1286 2720h0M1520 2602h0M1124 2758h0M1239 2782h0M1516 2940h0M1379 2645h0M1153 2685h0M997 3010h0" stroke="#2fd31f" stroke-width="2.7" opacity="0.70"/><path d="M1524 2689h0M1548 2676h0M1330 2664h0M984 2945h0M1347 2700h0M1504 2609h0M1548 3011h0M1383 3006h0M1124 2640h0M1034 2608h0M1529 2629h0M1544 2601h0M1357 2628h0M1113 2933h0M1351 2624h0M1343 2991h0M1016 3034h0M1462 2693h0M1565 3004h0" stroke="#45e636" stroke-width="2.7" opacity="0.70"/><path d="M1358 2722h0M1283 2680h0M1570 2917h0M1229 2648h0M1418 2733h0M1458 2653h0M1126 2612h0M1126 2663h0" stroke="#27b81a" stroke-width="4.1" opacity="0.70"/><path d="M1459 3027h0M1298 2657h0M1587 2647h0M1068 2600h0M1041 2611h0M1179 2761h0M1076 2979h0M1498 2673h0M1581 2912h0" stroke="#2fd31f" stroke-width="4.1" opacity="0.70"/><path d="M1034 2606h0M1263 2770h0M1024 2601h0M1359 2713h0M1292 3032h0M1254 2770h0M1259 2658h0M1469 3028h0M1045 2605h0" stroke="#45e636" stroke-width="4.1" opacity="0.70"/><path d="M1207 3032h0M1186 2706h0M1605 2982h0" stroke="#27b81a" stroke-width="5.5" opacity="0.90"/><path d="M1161 2798h0M1124 2727h0" stroke="#2fd31f" stroke-width="5.5" opacity="0.90"/><path d="M1612 2668h0M1139 2680h0M1525 2695h0M1417 2693h0M986 2988h0M1208 2599h0" stroke="#45e636" stroke-width="5.5" opacity="0.90"/><path d="M1238 2835h0M1535 2894h0M1157 2784h0M1503 2920h0M1237 2634h0" stroke="#27b81a" stroke-width="6.9" opacity="0.90"/><path d="M1496 2709h0M1202 2666h0M1620 2632h0M1327 2681h0M1150 2601h0M1373 3014h0" stroke="#2fd31f" stroke-width="6.9" opacity="0.90"/><path d="M1207 2785h0M1522 2712h0M1098 2630h0" stroke="#45e636" stroke-width="6.9" opacity="0.90"/><path d="M1000 2646h0M1463 2983h0M1148 2637h0M1335 2719h0M1497 2914h0" stroke="#27b81a" stroke-width="8.3" opacity="0.90"/><path d="M1535 2613h0M1602 2942h0" stroke="#2fd31f" stroke-width="8.3" opacity="0.90"/><path d="M1524 2692h0M1165 2837h0M1510 2962h0M1181 2894h0M1521 2701h0" stroke="#45e636" stroke-width="8.3" opacity="0.90"/></g>
<g fill="none" stroke-linecap="round"><path d="M1461 2991h0M1552 2995h0" stroke="#27b81a" stroke-width="3.8" opacity="0.70"/><path d="M1417 2986h0M1478 3007h0M1533 2976h0M1529 3026h0" stroke="#2fd31f" stroke-width="3.8" opacity="0.70"/><path d="M1529 3032h0M1367 3005h0M1357 3033h0M1449 3015h0M1484 2978h0" stroke="#45e636" stroke-width="3.8" opacity="0.70"/><path d="M1464 2976h0M1581 3013h0M1490 3020h0M1486 2975h0" stroke="#27b81a" stroke-width="5.4" opacity="0.70"/><path d="M1516 2983h0" stroke="#2fd31f" stroke-width="5.4" opacity="0.70"/><path d="M1533 2984h0M1430 2989h0M1490 3033h0" stroke="#45e636" stroke-width="5.4" opacity="0.70"/><path d="M1513 2975h0M1566 2975h0M1438 3017h0" stroke="#2fd31f" stroke-width="7" opacity="0.90"/><path d="M1544 3005h0M1470 2992h0M1591 3010h0" stroke="#45e636" stroke-width="7" opacity="0.90"/><path d="M1524 3031h0M1523 3007h0" stroke="#45e636" stroke-width="8.6" opacity="0.90"/><path d="M1347 3033h0M1343 2977h0" stroke="#27b81a" stroke-width="10.2" opacity="0.90"/><path d="M1514 3035h0" stroke="#45e636" stroke-width="10.2" opacity="0.90"/></g>
<g fill="none" stroke-linecap="round"><path d="M1237 2773h0" stroke="#27b81a" stroke-width="3.7" opacity="0.70"/><path d="M1243 2758h0M1189 2863h0M1249 2829h0M1205 2738h0M1156 2825h0" stroke="#2fd31f" stroke-width="3.7" opacity="0.70"/><path d="M1237 2855h0M1205 2858h0M1259 2734h0M1262 2758h0M1257 2805h0" stroke="#45e636" stroke-width="3.7" opacity="0.70"/><path d="M1190 2796h0M1266 2833h0" stroke="#45e636" stroke-width="5.1" opacity="0.70"/><path d="M1206 2836h0M1233 2753h0" stroke="#27b81a" stroke-width="6.5" opacity="0.90"/><path d="M1197 2777h0M1221 2730h0M1233 2745h0" stroke="#2fd31f" stroke-width="6.5" opacity="0.90"/><path d="M1183 2723h0M1239 2805h0" stroke="#27b81a" stroke-width="7.9" opacity="0.90"/><path d="M1207 2728h0M1253 2763h0" stroke="#2fd31f" stroke-width="7.9" opacity="0.90"/><path d="M1232 2738h0M1157 2780h0" stroke="#45e636" stroke-width="7.9" opacity="0.90"/><path d="M1229 2752h0" stroke="#27b81a" stroke-width="9.3" opacity="0.90"/><path d="M1248 2868h0" stroke="#2fd31f" stroke-width="9.3" opacity="0.90"/></g>
<g fill="none" stroke-linecap="round"><path d="M1061 3035h0M1002 3035h0M1113 2960h0M1010 2968h0" stroke="#27b81a" stroke-width="3" opacity="0.70"/><path d="M1147 3030h0M972 2992h0M1059 2991h0M1032 2981h0" stroke="#2fd31f" stroke-width="3" opacity="0.70"/><path d="M1110 2979h0M1141 2996h0" stroke="#45e636" stroke-width="3" opacity="0.70"/><path d="M1147 3030h0" stroke="#27b81a" stroke-width="4.1" opacity="0.70"/><path d="M1088 3005h0M1035 2977h0" stroke="#2fd31f" stroke-width="4.1" opacity="0.70"/><path d="M1071 3014h0M1028 2960h0M1080 2976h0" stroke="#2fd31f" stroke-width="5.2" opacity="0.90"/><path d="M1141 2977h0M1108 2998h0" stroke="#27b81a" stroke-width="6.3" opacity="0.90"/><path d="M974 2994h0" stroke="#45e636" stroke-width="6.3" opacity="0.90"/><path d="M1150 3013h0M1066 3029h0" stroke="#27b81a" stroke-width="7.4" opacity="0.90"/><path d="M1057 3036h0" stroke="#2fd31f" stroke-width="7.4" opacity="0.90"/></g>
<circle cx="1320.2" cy="2659.6" r="6" fill="#35dc27"/>
<circle cx="1257.8" cy="2664.4" r="5" fill="#35dc27"/>
<circle cx="1178.5" cy="2718.7" r="5" fill="#35dc27"/>
<circle cx="1558" cy="2698.1" r="7" fill="#35dc27"/>
<circle cx="1579.6" cy="2647.6" r="6" fill="#35dc27"/>
<circle cx="1601.2" cy="2647.6" r="5.5" fill="#35dc27"/>
<circle cx="1418.7" cy="2678.9" r="4" fill="#35dc27"/>
<circle cx="1154.5" cy="2847" r="6.5" fill="#35dc27"/>
<circle cx="1183.3" cy="2854.2" r="5" fill="#35dc27"/>
<circle cx="1200.1" cy="2854.2" r="4" fill="#35dc27"/>
<circle cx="1207.3" cy="2779.7" r="4" fill="#35dc27"/>
<circle cx="1442.7" cy="2742.7" r="5" fill="#35dc27"/>
<circle cx="1125.7" cy="2946.4" r="4" fill="#35dc27"/>
<circle cx="1349" cy="2993.4" r="5" fill="#35dc27"/>
<circle cx="1423.5" cy="3024.7" r="7" fill="#35dc27"/>
<circle cx="1519.5" cy="2998.2" r="6" fill="#35dc27"/>
<circle cx="1497.9" cy="3012.7" r="6" fill="#35dc27"/>
<circle cx="1363.4" cy="3022.3" r="5" fill="#35dc27"/>
<circle cx="1570" cy="2983.8" r="4" fill="#35dc27"/>
<circle cx="1137.7" cy="2986.2" r="4" fill="#35dc27"/>
</g>
<rect x="967" y="2593" width="655" height="443" filter="url(#speck)" opacity=".5"/>
</g>
<g clip-path="url(#cTR)">
<rect x="1627" y="2593" width="652" height="443" fill="#030a01"/>
<g filter="url(#rough2)">
<path d="M1627.4 2828.5C1633.3 2816.1 1652.2 2821.8 1662.8 2817.1C1673.5 2812.3 1680.9 2804.7 1691.4 2799.9C1701.9 2795.2 1715.2 2788.5 1725.7 2788.5C1736.2 2788.5 1747.6 2792.3 1754.3 2799.9C1760.9 2807.6 1758.1 2825.7 1765.7 2834.2C1773.3 2842.8 1786.6 2846.6 1800 2851.4C1813.3 2856.1 1831.4 2858 1845.7 2862.8C1859.9 2867.5 1873.3 2874.2 1885.7 2879.9C1898 2885.6 1913.3 2888.5 1919.9 2897.1C1926.6 2905.6 1927.6 2919.9 1925.6 2931.3C1923.7 2942.8 1913.3 2954.2 1908.5 2965.6C1903.7 2977.1 1901.8 2992.3 1897.1 2999.9C1892.3 3007.5 1886.6 3014.2 1879.9 3011.3C1873.3 3008.5 1862.8 2992.3 1857.1 2982.8C1851.4 2973.2 1852.3 2961.8 1845.7 2954.2C1839 2946.6 1826.6 2942.8 1817.1 2937.1C1807.6 2931.3 1798.1 2923.7 1788.5 2919.9C1779 2916.1 1769.5 2911.4 1760 2914.2C1750.4 2917.1 1740 2935.2 1731.4 2937.1C1722.8 2939 1716.2 2931.3 1708.5 2925.6C1700.9 2919.9 1695.2 2905.6 1685.7 2902.8C1676.2 2899.9 1661.1 2910.4 1651.4 2908.5C1641.7 2906.6 1631.4 2904.7 1627.4 2891.4C1623.4 2878 1621.5 2840.9 1627.4 2828.5Z" fill="#5e8c20"/>
<path d="M1720 2680C1722.8 2673.3 1733.3 2663.8 1742.8 2662.8C1752.3 2661.9 1766.6 2669.5 1777.1 2674.3C1787.6 2679 1797.1 2685.7 1805.7 2691.4C1814.2 2697.1 1826.6 2701.9 1828.5 2708.5C1830.4 2715.2 1823.8 2725.7 1817.1 2731.4C1810.4 2737.1 1799 2741.9 1788.5 2742.8C1778.1 2743.8 1763.8 2736.1 1754.3 2737.1C1744.7 2738 1741.9 2744.7 1731.4 2748.5C1720.9 2752.3 1700 2759.9 1691.4 2759.9C1682.8 2759.9 1677.1 2754.2 1680 2748.5C1682.8 2742.8 1700.9 2733.3 1708.5 2725.7C1716.2 2718.1 1723.8 2710.4 1725.7 2702.8C1727.6 2695.2 1717.1 2686.6 1720 2680Z" fill="#568420" opacity=".9"/>
</g>
<ellipse cx="1697.1" cy="2845.6" rx="9" ry="7.2" fill="#0a1203"/>
<ellipse cx="1708.5" cy="2879.9" rx="8" ry="6.4" fill="#0a1203"/>
<ellipse cx="1748.5" cy="2799.9" rx="7" ry="5.6" fill="#0a1203"/>
<ellipse cx="1771.4" cy="2839.9" rx="6" ry="4.8" fill="#0a1203"/>
<ellipse cx="1828.5" cy="2874.2" rx="6" ry="4.8" fill="#0a1203"/>
<ellipse cx="1742.8" cy="2919.9" rx="6" ry="4.8" fill="#0a1203"/>
<ellipse cx="1731.4" cy="2708.5" rx="6" ry="4.8" fill="#0a1203"/>
<ellipse cx="1760" cy="2725.7" rx="7" ry="5.6" fill="#0a1203"/>
<ellipse cx="1788.5" cy="2708.5" rx="5" ry="4" fill="#0a1203"/>
<path d="M2162 2655l1-6M2136 2664l7 1 6-3 6-4 7-3 4-5M2131 2669l5-5 3-6 6-4 5-5 5-5 3-6 5-5 6-4 6-4M2131 2683l-1-7 1-7 3-6 4-6 1-7 0-7-2-6-4-6-2-7-2-6-3-7-3-6-3-6-3-7-4-5-3-6M2084 2636l-3-7M2104 2636l-7-1-7 2-6-1-7 1M2096 2626l-7 1-6 4-5 6M2107 2650l0-7-3-7-5-4-3-6 0-7 3-7 3-6 3-6M2098 2633l7-3 6-2 7 0 7 2M2101 2647l-3-7 0-7 2-7 1-6 3-7 5-5 6-4M2072 2630l4-5 3-7 5-4 5-4 7-3M2080 2617l0-7M2073 2617l7 0 7-3M2131 2683l-3-6-2-7-4-6-4-6-5-4-6-4-6-3-7-2-6-3-7-1-6-4-3-7-1-7 2-6 2-7 2-6 3-7M2123 2664l-2-7 2-6 1-7 2-7-1-7 0-7 3-6 2-7M2068 2662l-5-4M2116 2661l-6 2-7-2-7-1-7-1-7 1-7 0-7 2-5 4-6 4M2074 2650l-7-2-7-2M2066 2638l0-7M2131 2683l-1-7-3-6-4-6-7-3-6-1-7 2-7 0-7 1-7-3-5-4-3-6-4-6-4-6-5-5M2208 2720l7-3M2131 2683l7-2 7-1 7 1 6 2 5 5 4 6 6 3 6 4 6 4 7 2 5 4 6 4 5 5 6 3 7 1M2142 2666l-7 0-7 1-6 3M2132 2657l-2-7M2146 2672l-4-6-4-6-6-3-7-1M2132 2633l-7 1M2144 2679l2-7-2-7-1-7-1-7-2-7-4-5-4-6-3-7M2178 2672l4 7 5 4M2192 2671l5 5M2158 2678l7-2 6-3 7-1 7 0 7-1 7-1M2172 2682l6-4 7-2 6-2 7 0M2204 2670l-2-7M2131 2683l7-3 6-1 7-2 7 1 7 2 7 2 7 0 6-3 6-4 6-3 7-2 6-3M2163 2704l-2 6 1 7M2148 2691l6 2 5 5 4 6 6 4 3 6M2156 2701l0 7 0 7-3 7M2160 2707l4 6 6 4M2171 2715l7-3M2145 2684l3 7 3 6 5 4 4 6 5 5 6 3 7 0 7-3M2131 2683l7-1 7 2 5 5 4 6 6 3 6 4 6 3 6 4 6 3 5 5 7 3 7 0M2177 2706l5 4 4 6M2169 2695l5 5 3 6 0 7 3 7M2176 2697l7-2 5-5 6-3M2136 2688l7 2 7 1 6-1 7 1 6 4 7 2 7 2 5 5 6 3 7 2M2192 2706l6 4M2179 2703l7 1 6 2 6 3M2175 2697l4 6 1 7 3 7-1 7M2131 2683l5 5 7 3 5 4 7 2 7 0 7-1 6 1 7 2 6 3 5 5 4 6 6 3 7 3M2134 2731l-3 6-4 6-4 5-6 4M2133 2744l-5 5-4 6M2131 2683l0 7 1 7 2 6 0 7-2 7 2 7 0 7-2 6 1 7-2 7-1 7 2 7M2126 2717l3 7 5 4 6 3 5 5 4 6 7 3M2125 2751l-5 6M2131 2683l0 7 1 7-2 7-2 6-2 7-2 7-1 7 0 7 2 6 0 7-3 7-4 5M2083 2703l-7 0M2088 2698l-5 5-6 4-5 3M2111 2683l-7 2-6 2-6 5-4 6-3 6-4 5-5 6-5 4M2076 2687l-6-2-6-3-4-6-6-3M2037 2692l0-7M2044 2693l-7-1-7 1M2131 2683l-7 0-7 1-6-1-7 0-7 3-7-1-7 1-7 1-6-2-7 0-7 3-7 1-5 4-7 2-7 2M2073 2686l-7 1M2093 2688l-7 2-7-2-6-2-6-4M2089 2682l-6-1-6-4M2098 2693l-5-5-4-6-5-4-6-4-6-2-7 0M2077 2720l-7 1M2131 2683l-7 1-6 1-6 5-7 1-7 2-5 4-3 6-5 5-4 6-4 6-2 7-1 7M2189 2812l1-7M2175 2854l6-4 4-6 3-6 4-6 1-7-1-6-3-7 0-7M2209 2865l7-1 7 0 6-2 7-2 6-4 4-6M2222 2869l7-2 7-2 6-2 7-3 5-5M2151 2841l7 2 6 3 5 5 6 3 7 2 7 2 7 2 6 2 7 3 6 2 7 2 7-1 7 1 7 2 7-1 7-2 6-2M2122 2920l5 5 6 4 6 2 5 5 7 2M2112 2938l-6 2-6 4M2156 2861l-4 6-6 3-5 5-4 5-3 7-3 6-2 7-3 6-2 7-2 7-2 6-4 6-4 6-1 7-3 6 0 7M2136 2926l-7 1-7 1-7 0-6-1M2140 2953l-4 6M2146 2900l-3 6-1 7-3 7-3 6-2 7 1 7 3 6 2 7-1 7 1 7M2148 2941l-1 6 1 7M2134 2925l5 5 4 6 5 5 5 5 2 7 2 6M2158 2868l-3 6-2 7-3 6-3 6-1 7-3 6-3 6-3 7-3 6-1 7-3 6-3 7-4 6-3 6-4 6-4 5M2148 2889l-7-2-7 0-6 3-5 5-5 5-6 3-6 4-6 3M2120 2927l3 7 3 6 5 5M2162 2874l-5 5-4 6-5 4-6 4-4 5-5 5-5 5-4 6-1 7-3 6 0 7 0 7 0 7 1 7 2 7M2160 2913l-6 3-7 1-7 0M2158 2899l1 7 1 7 4 6 1 7 3 6M2177 2925l4-5 5-6M2165 2887l-5 6-2 6 0 7 2 7 5 5 6 4 6 3 7 1 6 2 6 4M2152 2954l-2 7-5 5-5 5M2142 2937l1 7 4 6 5 4 6 4 4 7 4 5M2097 2960l-4-7M2118 2959l-7-1-7 1-7 1-7 1-6 4M2148 2834l3 7 3 6 1 7 1 7 2 7 4 6 2 6 1 7-1 7-3 6-3 7-3 6-5 5-3 6-2 7-3 6-2 7-4 6-6 3-5 5-7 1-6 4-7 1-6 4-5 5-4 5-4 6M2179 2920l-7 1M2176 2926l-6 3M2186 2908l-4 5-3 7-3 6-4 6M2148 2834l2 7 4 6 4 6 2 7 4 5 2 7 5 5 4 6 3 6 4 6 2 6 2 7 3 6 3 7 1 7-1 7-1 6-1 7M2097 2847l-5 5-3 7-4 6-3 6-4 5-5 5M2104 2848l-7-1-7 1-7 2-5 5-4 6-1 6-4 6-3 7 0 7M2043 2834l-7 2M2148 2834l-4 6-6 4-6 1-7 0-7 1-7 1-7 1-6 4-6 3-7 1-7-2-7-1-6-3-7-2-5-4-5-6-5-4-4-6-5-5M2098 2841l-5 5M2116 2831l-5 4-6 4-7 2-7 1M2107 2820l-7-1-7-1-6-5-7-1M2091 2806l3-7M2143 2838l-7 0-7-3-6-2-7-2-5-5-4-6-6-4-5-5-5-5-3-6-4-6M2132 2863l4 6 4 6 5 5 5 4 5 5 5 5 2 7 5 5M2148 2834l-5 4-5 6-3 6-2 6-1 7-2 7-3 7-3 6-5 5-5 4-6 4-6 3-5 5-4 6-3 6-5 5-7 3-6 2M2132 2798l7-1 7 2 6 4 4 5 5 6M2140 2786l5-5 5-4 4-6 7-3M2144 2773l7-3 6-3M2145 2766l-6-4M2129 2804l3-6 4-6 4-6 2-7 2-6 1-7 0-7M2128 2776l-6-3-7-2-7 0-7-1-7 2M2123 2763l4-6 2-6 2-7 0-7M2105 2734l-7-1M2141 2835l-2-7-5-5-4-5-2-7 1-7 2-7-1-7-1-7-1-7-1-7-4-6-3-6-4-5-5-6-2-6-4-6-5-5M2085 2808l-7 0-7 1-6 3-5 5-6 3-6 4-5 5-7 3-6 1-7-3M2074 2756l-2-7-3-6M2064 2781l3-6 3-6 3-6 1-7 3-7 1-6 1-7 0-7M2033 2737l-7-3M2148 2834l-7 1-6-3-7-2-5-5-6-4-6-2-7-3-6-3-7-2-6-3-5-4-3-7-6-4-4-6-3-6-5-5-6-4-4-5-6-5-3-6-2-7-4-6-1-6-2-7M2130 2824l3-7 3-6 5-5 6-4 6-4 4-5 5-5 6-4 6-4 4-6 2-7 1-6 2-7 2-7 0-7-1-7M2143 2749l2-7M2156 2765l-4-6-3-6-6-4-4-6M2119 2806l5-5 4-5 5-5 6-4 4-6 4-6 4-5 5-5 2-7 4-6 6-4 6-2 7-2 6-4M2094 2738l4-6 4-5M2089 2725l-6-3M2098 2743l-4-5-2-7-3-6-4-6M2097 2771l1-7-1-7-1-7 2-7 2-6 1-7 0-7-1-7 0-7M2042 2742l-6-3M2056 2741l-7-1-7 2-7 0M2070 2740l-7 0-7 1-6 4-6 3-7 1-6 4M2052 2702l1-6M2056 2708l-4-6-4-5M2148 2834l-6-3-6-3-6-4-4-6-2-6-5-6-4-5-4-6-3-6-3-6-3-7-5-5-6-4-4-6-5-4-3-7-5-5-4-5-3-6-4-6-2-7-4-6-1-7-2-6-2-7M2153 2743l5-6M2136 2814l2-6 5-5 3-7 3-6 3-6 2-7 0-7 2-7 0-7-2-6-1-7-1-7M2217 2780l4-6M2124 2822l5-5 7-3 5-4 6-3 7-3 4-6 6-4 6-2 7-3 7 0 7-1 6-3 6-4 7-2 7 1 6 1M2019 2758l-6-4M2148 2834l-6-2-7-2-6-4-5-4-4-6-5-5-6-4-3-6-2-7-5-5-4-6-5-5-6-4-6-4-5-4-6-3-7-2-7 2-7-1-7-2-6-2-7 0-7 0-7 0M2112 2811l-7-3-5-4-5-6-4-5-6-3-7-2-5-5M2062 2834l-2 7 1 7-2 7M2132 2812l-7-3-7 0-6 2-7 3-5 4-7 3-7 0-6 3-6 3-7 3-5 4-6 4-4 6-2 7 0 7M2184 2806l1 7 3 6M2136 2801l7 1 7 2 6 1 7 0 7-1 7 1 7 1 7 0 7-1M2147 2735l-7-1M2149 2796l2-6 1-7-3-7 1-7 0-7 1-7 1-7-2-6-3-7-1-7M2192 2782l6 1 7 1 7 1 7 0M2186 2778l6 4 5 5 3 6 4 5 6 4 5 6 6 2 6 4M2217 2774l7 0 7 2M2213 2780l4-6 4-6 4-6 2-6 5-5M2130 2805l6-4 7-1 6-4 6-4 5-4 6-4 7-1 6-4 7-1 7 1 7 0 7-1 6 2 7 0 7 2 7 1 6 3 7 2M2144 2739l0-7 0-7-1-6 1-7 3-6 3-7M2170 2713l6 4M2149 2714l7-1 7 0 7 0 7 2M2147 2694l2-7 0-7M2143 2688l-3-6M2149 2735l-1-7-1-7 2-7 2-7-2-7-2-6-4-6-3-7-4-5M2181 2722l5 5 7 3 6 1 7 3M2194 2726l7-1 7-1 7 2M2148 2834l-4-5-4-6-5-5-3-6-2-7-1-7-1-7-1-7 2-6 3-7 1-7 0-7 3-6 4-6 4-6 5-4 6-3 6-4 6-3 7-2 7-1 7 1 6 3 6 5 5 4 5 5M2183 2782l7-2 6-2 5-5 6-5 5-4M2218 2761l3 6M2171 2815l1-7 2-7 2-7 4-6 3-6 5-5 6-4 5-4 6-4 6-2 7-2 7 0M2201 2790l4 7 0 7 1 7-1 6M2212 2782l7 0 7-1 7-3M2184 2811l4-5 3-7 4-5 6-4 5-4 6-4 6-4 6-4 5-5 5-4M2223 2820l-4 6-5 4-4 6-5 5M2243 2839l7 0M2198 2810l6 3 7 0 7 3 5 4 6 4 6 4 5 5 3 6 2 7M2225 2774l6-4 4-5M2223 2760l5-5M2220 2794l3-6 0-7 2-7 0-7-2-7-5-5M2231 2789l6 3 6 4 6 4M2224 2788l7 1 7 2 6 4 6 3M2224 2761l4-5M2226 2781l-3-6 0-7 1-7 1-7M2224 2765l-4 5-3 7M2231 2768l-7-3-7 0-6-3M2232 2762l7 0 7 2 6 3M2151 2820l6-2 7-1 7-2 6-3 7-1 7 1 7-2 6-3 5-5 5-4 6-4 4-6 2-7 3-6 2-7 1-6 0-7 0-7-1-7M2168 2763l-4-6-2-6-4-7-1-7-3-6-1-7-1-7M2159 2729l-7 3M2174 2743l-5-5-5-5-5-4-7-2M2170 2723l3-7 0-7M2156 2779l5-5 3-6 4-5 3-7 2-6 1-7 1-7-2-7-3-6 0-7 1-7M2165 2722l-5-5-7-2-5-5M2167 2743l-1-7-1-7 0-7 3-7 3-6 5-4M2154 2758l6-4 4-6 3-5 4-7 6-4 5-4 7-2 6-4 4-5 4-6M2206 2724l-2-7-4-5M2198 2736l5-5 3-7 0-7 2-6M2234 2755l7 3M2148 2834l2-7 1-7 2-6 2-7 0-7 0-7 2-7-1-7-1-7-1-7 0-7 2-6 3-6 6-4 6-5 6-2 7 0 7-1 7 2 7 2 5 4 6 4 5 5 6 3 7 1 7 0M2077 2805l-6 4M2083 2801l-6 4-6 3-7 2M2069 2799l-7-1M2150 2814l-7-2-5-4-7-2-7-2-7-2-7 1-7 0-7 0-7 0-6-2-7-1-7-1-5-5M2165 2818l-7 2-6 4-6 3M2164 2792l3 6 2 7-1 7-3 6-3 6-2 7 1 7M2185 2793l5-4 4-5 6-5 3-6 5-5M2211 2801l4-6 4-6M2158 2795l6-3 7 0 7-1 7 2 6 3 6 3 7 2 7 0 7 2 6 4M2164 2741l-7-3M2164 2748l0-7-2-7M2165 2736l-7 1M2168 2743l-3-7-1-7M2162 2782l-2-7-1-7 1-7 2-6 2-7 4-5 2-7 3-7M2163 2740l-6-2-7-1-7-2M2163 2733l-7-3-4-5-4-6M2148 2834l3-6 1-7-2-7 1-7 3-6 4-6 3-6 1-7 2-7-1-7 0-7 1-7-1-7 0-7 0-7-3-6-1-7-3-6-2-7M2134 2765l1-7 4-6 6-4 6-4 7-1M2162 2832l2-7 0-7-1-7-3-7-3-6-2-6-5-6-2-6-4-6-5-5-5-4-3-7-4-6-4-6-5-4-7-3-5-5M2165 2864l-2 7-5 5M2184 2855l-7 3-6 2-6 4-6 4-4 5-2 7M2183 2876l5 5 4 6 5 4 3 7 4 5M2181 2882l-7 3-6 2-6 4-6 3M2178 2896l-5 4-7 3M2185 2869l-2 7-2 6-1 7-2 7-2 6-5 5M2201 2889l7 0 7-1M2208 2889l5-5M2186 2876l4 6 5 5 6 2 7 0 7-2M2195 2900l1 7M2189 2896l6 4 6 5M2169 2831l4 6 5 5 3 6 3 7 0 7 1 7 1 7 1 7 2 6 0 7-1 7-4 6-4 6-3 6M2193 2826l-3 6-4 5-5 5-6 4-6 3-7 4-6 1-7 3M2202 2836l7 1 7 2 6 3 5 5 4 6 6 4M2229 2836l4-5M2208 2840l7 0 7-2 7-2 7-1M2214 2844l-1 7 2 6 1 7-1 7M2229 2866l5 5M2187 2822l6 4 5 5 4 5 6 4 6 4 6 4 4 6 3 6 2 6 3 7M2216 2808l4-6 4-6 5-5 3-6 1-7-2-7-1-6M2262 2811l2 6M2249 2804l6 4 7 3 7 1M2256 2803l6 3 6 5M2209 2806l7 2 7 2 7 0 6-2 7 0 6-4 7-1 7 0 7-2 6-4M2231 2791l6 2 6 4 7 1 7 1M2228 2797l3-6 2-7-1-7-2-7 0-7 1-7M2148 2834l7-2 7 0 7-1 7-1 6-3 5-5 7-2 6-4 4-6 5-4 6-4 6-4 7-1 6-4 4-5 3-6 2-7 1-7-2-7-4-5-5-5-4-6M2164 2801l6-4 5-5 5-4 7-3 7-2 7 2M2161 2781l-6-3-7-1-7 0M2159 2821l4-6 2-7-1-7 1-7-3-6-1-7 1-7 2-7 4-6 6-4M2141 2829l-4 5-6 4-5 5M2142 2843l-4 6-4 5M2155 2815l-6 3-5 5-3 6 0 7 1 7 2 6 0 7 0 7M2141 2791l-6-4-7-2-5-4-4-6-2-7M2161 2827l-2-6-4-6-4-6-3-6-5-5-2-7-1-7 0-7-1-6-1-7 0-7-1-7-4-7M2188 2825l0 7-2 7 1 7M2193 2830l-3 6-1 7M2184 2819l4 6 5 5 3 6 1 7-1 7M2209 2849l6-2M2197 2824l2 7 1 7 4 6 5 5 5 5M2217 2828l3-6 5-5 6-3M2178 2816l6 3 7 2 6 3 6 3 7 1 7 0 7 2 7-1 7-2 7 1M2219 2839l-5 5-4 6-4 5-7 4-6 1M2225 2871l0 7M2203 2803l5 4 5 5 3 7 0 7 3 6 0 7-2 7 0 7 0 7 3 6 5 5 3 7M2250 2792l5 5 4 6 4 5 4 6 6 4 7 2 7 0M2263 2798l6-3 5-4 7-3 5-5 4-6M2269 2802l0 7-1 7 1 6M2286 2813l7 0M2148 2834l7-3 6-4 6-3 5-5 6-3 6-4 6-2 7-4 6-3 7-1 6-3 7-2 6-1 7-3 7 0 7-1 6 3 7 3 6 4 6 3 6 4 5 4 4 6 4 6M2209 2864l6-3 5-5M2215 2867l5-5M2189 2858l7 0 7 3 6 3 6 3 6 3 6 4M2210 2894l0 6 1 7M2219 2904l1 7M2175 2843l6 4 4 5 4 6 5 5 3 6 5 6 2 6 2 7 4 6 4 6 5 4 7 2M2269 2896l0 7M2205 2860l4 6 4 6 4 5 6 4 7 1 7 3 6 1 7 0 7 3 6 4 6 3 6 3M2251 2845l-1-7M2217 2868l6-2 6-4 6-4 5-4 5-5 6-4 3-7M2209 2918l6 4 3 6 6 4M2204 2938l3 6M2148 2834l7 1 7 3 6 2 7 3 5 4 6 4 6 4 6 3 7 2 6 4 6 4 4 6 1 6 1 7 0 7-2 7-4 6-5 4-3 7-3 6-1 7-1 7-1 7M2219 2883l3-6M2173 2870l7 2 5 5 6 3 7 2 7 1 7 1 7-1 6-3M2189 2897l6 3 7 2M2171 2877l2 6 5 5 5 5 6 4 6 4 5 4 7 2M2167 2893l7-1 7 0M2162 2888l5 5 6 3 5 5 3 7M2172 2849l1 7 1 7-1 7-2 7-4 6-5 5-4 5-3 7-2 7-1 6 1 7 2 7M2209 2881l7 0 7-1 7 2 7-1 6-2 7-3M2178 2852l6 5 5 4 5 5 5 5 5 5 5 5 7 2 6 3 6 4 7 0 7-1 7 0 7-1M2185 2871l2 6 1 7 3 7 5 5 3 6 6 4 7 1M2184 2926l-3 6-4 6M2185 2932l-5 5M2148 2834l6 4 6 4 6 4 6 3 6 3 5 5 2 7 0 7 1 7 0 7 1 7-2 6-2 7 0 7-1 7 2 7 1 6 2 7 2 7" fill="none" stroke="#58c41e" stroke-width="1.35" stroke-linejoin="round" opacity=".9"/>
<path d="M1754 2703l-7 0-7 0-7 0M1742 2697l-4-5-4-6M1735 2698l-2 6M1757 2710l-3-7-5-4-7-2-7 1-7 0-6-2M1763 2701l7 0 6 4M1757 2703l6-2 7 0 7-2 7-1M1751 2669l-7-2M1759 2717l-2-7 0-7-1-7 1-7-1-7-2-7-3-6-1-7M1715 2715l2 7 1 7-1 7 0 7M1701 2716l-3-6M1708 2718l-7-2-7 0M1794 2731l-3-6-5-5-6-3-7-1-7 1-7 0-7-2-7-2-5-4-7-2-7 1-6 3-5 4-7 3-7-1-7-1-6-2-7-3M1751 2732l0 7-1 7-3 6-2 7M1791 2725l-7-2-7 1-6 2-6 4-7 0-7 2-7 0-7 0-7 1-6 4-4 5-7 2M1771 2721l-6-2-7-4-6-3-7-2-7 0-7 0-6 0-7 0M1776 2716l-5 5-3 6-2 7-4 6-4 6-1 7 1 7 3 6 3 6 3 7M1752 2691l-6-2-5-5-6-4-6-3M1731 2664l1-7M1790 2718l-7 0-7-2-6-3-6-5-3-6-5-5-4-6-2-6-6-5-3-6-5-5-5-5-3-6M1778 2715l-7-2-6-4-4-5-5-5M1766 2740l0 7 3 7 3 6M1783 2710l-5 5-4 6-1 7-2 7-5 5-1 7 2 7 4 5M1761 2725l-6 4-7 2-4 5-4 6M1751 2734l-3 7-5 5-2 6M1790 2711l-7-1-7 1-6 3-5 5-4 6-5 5-5 4-5 5-7 2-7 1-7 0M1805 2662l-2-7M1793 2679l5-5 4-6 3-6 3-7 2-6M1791 2659l7-2 6-3M1793 2652l-7-3M1790 2666l1-7 2-7 2-7 0-7M1795 2655l7-1 6 2M1789 2659l6-4 5-5 5-4 5-5M1798 2692l-2-6-3-7-2-7-1-6-1-7 0-7-2-7-4-6-2-7 2-6M1800 2661l-6-4M1796 2674l3-6 1-7-1-7M1795 2660l-3-6-6-4M1802 2687l-3-7-3-6-1-7 0-7-1-7 1-7M1808 2668l3-6 3-6 5-5 2-7M1810 2675l-2-7-1-7-1-6 0-7 1-7-2-7 1-7M1827 2631l2-7M1794 2731l-3-6-1-7 0-7 3-6 4-6 1-7 4-5 4-6 4-6 4-6 2-7 0-7 0-7 2-6 5-5 4-6 3-6 4-6M1806 2706l-3-6-3-6-2-7-5-5-4-5-1-7M1835 2671l0-7M1825 2689l1-7 4-6 5-5 5-5M1846 2687l6 3M1811 2687l7 0 7 2 7-1 7 0 7-1 6 3 7 1M1847 2667l6-4 7-1M1859 2672l6-5M1794 2731l2-6 3-7 5-5 2-7-1-7 2-6 4-6 5-5 6-4 6-3 6-3 6-4 7-1 7 1 5 4 4 5M1839 2747l5-5 5-6 4-5M1849 2756l7 3 7 2M1815 2733l6 3 6 4 6 3 6 4 6 4 4 5 6 4 7 2M1871 2773l0 7M1853 2762l6 2 6 5 6 4 3 6M1863 2769l6-4 4-6 2-6M1856 2768l7 1 6-4 6-3 7-1M1863 2788l-2 6M1849 2756l4 6 3 6 3 6 1 7 3 7 5 5 5 5M1860 2776l4 5 7 3M1862 2762l-1 7-1 7 1 7-1 7 0 7M1794 2731l7 0 7 0 7 2 7 2 4 5 6 5 6 3 5 5 6 3 6 3 7 3 5 5 5 5 5 5 5 4 3 7 2 7 4 5 5 5M1843 2723l7 0 7-1M1856 2707l-5-5M1837 2727l6-4 5-5 6-4 2-7 4-6M1858 2728l6 4 4 6 6 4M1877 2738l-3 6-4 6M1821 2739l4-6 6-4 6-2 7 0 7 0 7 1 7 2 6 4 6 4 5 4 7 2M1846 2733l2-7 5-5 5-5 3-6 4-6M1853 2713l3-6 5-5 4-6M1851 2706l-7 0-7 1-6 1M1841 2738l5-5 2-7 4-6 1-7-2-7-3-6-2-7-1-7-3-6M1885 2744l0 7 3 7M1882 2738l3 6 1 7-2 7-5 5M1794 2731l7 2 7 0 7 2 6 4 7 1 6-2 7 0 7-3 7-1 7 0 7 2 7 0 6 2 7 3 7 0 6 3 6 2 7 0M1872 2716l-5-5M1839 2738l7 0 7-2 5-5 5-4 5-5 4-6 1-7M1865 2735l7-2 6-3 7-2M1860 2739l5-4 3-7 5-4 7-2M1868 2723l-6-4-7-3M1866 2736l0-7 2-6 5-5 3-7M1870 2731l7 1 6 4 7 3M1874 2713l-1-7M1878 2719l-4-6-2-7 0-7M1888 2709l6 3M1806 2738l6-3 7-2 7 0 7 1 6 4 7 1 7 1 7-1 6-3 4-5 4-6 4-6 5-5 5-5 2-6M1838 2791l1 7 0 7-3 6M1830 2809l0 7M1842 2785l-4 6-1 7-2 6-5 5-3 7M1858 2808l6-2 6-3M1812 2742l1 7 3 6 4 7 1 6 3 7 6 4 7 2 5 4 5 5 3 6 4 6 4 6 2 6 4 6M1839 2758l0-7-4-6-2-6M1832 2760l7-2 7 0 7-2 7 0 7-1M1842 2770l6-3 7-3 6-3M1865 2784l1 7M1820 2754l6 2 6 4 4 6 6 4 7 3 6 2 6 3 4 6 2 7M1814 2777l0 7 1 7 0 7M1811 2784l-7-2-6 1M1800 2791l-1 7M1824 2759l-2 7-3 6-5 5-3 7-5 4-6 3-7 2M1825 2805l5 5 7 2 7 1M1825 2819l-6 4-7 1M1824 2833l6 3M1794 2731l6 4 6 3 6 4 4 6 4 6 4 5 4 6 3 7 1 6-2 7 0 7-3 6-2 7 1 7-1 7-2 7 1 7-1 7-1 7M1777 2775l0 7-2 6M1797 2749l0 7-3 7-5 4-5 5-7 3-7 0-7-1-6 2M1760 2757l-2-7M1773 2762l-6-4-7-1-7 1-7 2M1764 2743l5-5M1766 2763l-2-6-1-7 1-7 2-7M1741 2775l1 7M1801 2743l-4 6-5 5-7 3-7 1-5 4-7 1-7 0-6 4-6 4-6 4-6 4M1773 2766l-4 5-6 5M1794 2770l-7-2-7-1-7-1-6 2-7 0-7 0M1787 2789l6 4 6 5M1791 2776l-1 7-3 6-4 6-6 4M1777 2814l1 7M1781 2808l-4 6-4 5M1782 2815l7-2M1802 2750l-2 7-4 6-2 7-3 6-2 7-4 5-4 6-1 7 1 7 1 7 3 6M1854 2776l5 5M1827 2771l7 2 6 4 7 0 7-1 7 2M1814 2767l7 0 6 4 4 6 6 3 7 2 7-1 7 0 7-2 7-1 6-3M1817 2773l-4 6-2 6-3 7-5 5-6 2-7 2-5 5-3 6-5 5M1830 2790l6 4 5 5 4 5 5 5 2 7M1835 2795l7-1 6-4 6-4 5-5 3-6 5-5M1851 2822l-5 5M1851 2808l-1 7 1 7-2 7M1855 2814l-1 7 1 7 3 6M1794 2731l5 6 2 6 1 7 4 6 4 6 4 5 3 6 5 5 4 6 4 6 5 5 5 5 5 5 6 3 4 6 4 6 6 4 6 3 6 3M1752 2734l-4-6M1776 2749l-6-3-7-4-6-3-5-5-5-4M1748 2781l7 1M1793 2738l-7 2-5 4-5 5-6 4-7 0-6 4-6 4-3 6-1 7 1 7 3 7M1760 2718l-4-6-6-4M1767 2705l-4-6M1757 2731l0-7 3-6 4-6 3-7 1-7M1724 2721l-7 0-7 1M1719 2717l3-6M1712 2715l-1-7M1789 2744l-7-1-7-3-5-3-6-5-7-1-7-1-7-2-6-3-7-1-6-3-5-4-7-2-7 1M1729 2742l-4 6-6 3-7 1M1711 2732l-3-6M1736 2742l-7 0-6-3-5-4-7-3-6-4-3-6M1713 2726l3-7M1730 2738l-6-3-6-4-5-5-2-7-1-7M1712 2702l1-7M1717 2707l-5-5-5-5M1756 2750l-7-3-6-3-7-2-6-4-4-6-5-5-2-7 0-7-2-6-2-7-1-7M1748 2803l-6 4M1744 2756l1 7 3 6 3 6-1 7 0 7-1 7-1 7-3 6-5 5M1704 2761l0-7 1-7 1-7-2-7M1688 2748l-2-7-3-7M1794 2731l-1 7-4 6-6 4-7 2-6 1-7-1-7 0-7 1-5 5-7 3-7 1-5 4-7 0-7 0-7-3-6-4-5-5-5-4-4-6-2-7M1799 2809l-2 7M1806 2797l-4 6-3 6-6 4-5 5M1802 2810l-7 2-5 5M1783 2749l2 7 5 5 5 5 5 5 3 6 3 7 1 6-1 7-3 7-1 6-3 7-4 5-2 7M1787 2762l-4 6-6 4-7 1-7 1-6 3-5 5-3 7-1 6-4 6M1827 2775l-5-4M1821 2794l3-6 3-6 0-7-1-7M1828 2794l5-5 5-5 4-5 2-7M1808 2797l7 0 6-3 7 0 7 2 5 5 5 4 3 6M1820 2824l6 4M1823 2818l-3 6 0 7M1827 2805l-3 6-1 7-4 6-3 6-5 5M1852 2817l4-5 5-6M1794 2731l-3 6-5 5-3 7 1 7 3 6 1 7 3 7 2 6 5 5 4 6 6 4 7 1 6 3 6 4 6 4 6 2 7 2 6 4 6 3 7 3M1748 2741l-6 2-7-1M1743 2746l1 6 2 7M1753 2736l-5 5-5 5-6 2-6 4M1726 2741l-4-6M1740 2737l-7 2-7 2-6 3M1720 2730l-5 6M1774 2737l-7 0-7-1-7 0-7 2-6-1-7-1-6-4-7-2-7-1-7 0M1721 2720l-1-7 0-7 0-7 3-6 6-4 5-5M1690 2705l-6 4-6 2M1794 2731l-6 3-7 2-7 1-7-2-6-3-7-1-6-3-7-1-7-1-7-2-6-4-6-2-7-2-6-4-6-3-6-4-6-4-4-5M1766 2760l-4 5M1775 2727l-4 6-3 6-2 7 0 7 0 7 3 6M1761 2731l2 6 3 7 2 6 4 6 2 7 4 6 5 5M1735 2733l1-7-1-7M1756 2736l-7 0-7-1-7-2-6 1-7-2M1753 2749l-2 7 1 7 2 6 5 6M1753 2783l7 3M1751 2777l2 6 3 7M1782 2727l-7 0-7 1-7 3-5 5-3 6 0 7 1 7 0 7-1 7-2 7-2 6-4 6M1719 2702l-7-2-7 2-7 0M1705 2705l0-7 1-7M1709 2711l-4-6-5-5-4-6M1698 2720l-1 7 1 7M1794 2731l-7 0-5-4-4-7-4-5-3-6-3-7-4-5-6-5-7-1-6 1-6 4-7 2-7 0-6 4-5 5-5 4-6 4-5 5-6 3-7 3M1755 2755l-4-6-2-7 1-7 2-7 3-5M1724 2739l-7 0-7 2M1720 2733l-6-2M1762 2756l-7-1-7-2-6-3-6-3-6-4-6-4-4-6-4-5M1796 2781l6-2 6-4 6-4M1808 2787l6-4 2-7M1814 2790l7-3M1759 2762l5 5 7 3 6 2 6 3 6 4 7 2 5 4 7 2 6 3 7 3 7 1M1775 2799l6-3M1753 2782l5 4 7 3 6 4 4 6 6 3M1727 2812l1 7M1740 2807l-7 2-6 3-7 3M1734 2811l-6-1-7-3-5-5-5-4M1713 2828l-7 1M1794 2731l-7 1-6 4-4 5-4 6-5 5-6 4-3 6-3 6-1 7-2 7-4 6-2 7-4 6-3 6-6 4-6 2-6 4-5 5-4 6 0 7M1794 2731l-6-3-5-5-4-6-1-7 2-6 2-7 2-7 2-6 0-7-2-7-1-7-3-7-4-5-3-7-4-5M1872 2960l3 5M1855 2956l6 0 6 3 5 1 6 3M1878 2982l4 4M1875 2976l3 6 3 5M1846 2948l5 4 4 4 6 1 5 4 3 5 2 6 4 4 5 4 2 5M1839 2982l4 5M1848 2954l-3 5-1 6-4 5-1 6 0 6-1 5 0 6M1849 2966l3 5 3 5 0 6 1 6M1848 2984l4 3 6 2 4 5M1844 2988l-6 2-6-1M1846 2948l2 6 1 6 0 6-1 6 1 6-1 6-4 4-5 3-6 3-5 3M1822 2975l-6 2-6-1M1817 2977l-4 5-1 6M1812 2981l-2 6M1809 2986l3 5M1827 2971l-5 4-5 2-5 4-3 5-4 4M1825 2983l4 5 3 5 1 6 3 5M1846 2948l-4 5-5 4-4 4-4 5-2 5-1 6-1 6 1 6-1 6-2 6-4 4-4 5M1834 2946l-1-5-3-6-2-5-3-6-5-3-5-2M1828 2945l-3-5-2-6-2-6-4-4M1823 2941l-4-4-3-5-1-6 1-6M1822 2931l-4-5M1820 2937l2-6 3-5 3-5M1815 2933l-6 1-6 2-6 0M1846 2948l-6-2-6 0-6-1-5-4-3-4-5-4-5-3-5-3-5-4-5-3M1845 2919l-4-5-5-3-6-1-6-1-5-2-6 1M1853 2898l-5-1-5-3M1855 2904l-2-6-4-4-5-3-3-5M1861 2901l-2-6-4-4-1-6M1846 2948l-1-6 1-5-1-6 0-6 0-6 3-6 3-5 4-4 6-3 5-2 6 1 6 2 6 2M1859 2936l-3-5-4-4-3-6-5-3-3-5M1878 2924l5-2 6-1M1875 2929l3-5 3-5 3-5 1-6M1898 2924l5 3M1846 2948l4-4 3-5 6-3 5-1 6-3 5-3 6 0 6 0 6-1 5-4 4-4" fill="none" stroke="#45b41c" stroke-width="1.25" stroke-linejoin="round" opacity=".85"/>
<g filter="url(#blur2)">
<ellipse cx="1795.4" cy="2731.4" rx="16" ry="13" fill="url(#org)" transform="rotate(20 1795.4 2731.4)"/>
<ellipse cx="2131.3" cy="2684" rx="14" ry="12" fill="url(#org)" transform="rotate(0 2131.3 2684)"/>
<ellipse cx="1751.4" cy="2879.9" rx="22" ry="13" fill="url(#org)" transform="rotate(25 1751.4 2879.9)"/>
<ellipse cx="2149.6" cy="2835.4" rx="13" ry="11" fill="url(#org)" transform="rotate(0 2149.6 2835.4)"/>
<ellipse cx="1850.2" cy="2951.3" rx="9" ry="8" fill="url(#org)" transform="rotate(0 1850.2 2951.3)"/>
</g>
<g filter="url(#blur1)">
<g fill="none" stroke-linecap="round"><path d="M1896 2790h0M1688 2946h0M2155 2777h0M2189 2648h0M1716 2777h0M2020 2675h0M2166 2737h0M1936 2634h0" stroke="#27b81a" stroke-width="2.8" opacity="0.70"/><path d="M2192 2698h0M1677 3024h0M2059 2750h0M1708 2922h0M2238 2817h0M1764 2818h0M1772 2620h0M1908 2705h0M1993 2873h0M1913 2654h0M1786 2885h0M1714 2734h0M2259 2886h0M2133 2662h0M1975 2984h0M1781 2954h0M1657 2714h0M2098 2662h0M2095 3026h0M1726 2944h0M2257 2669h0" stroke="#2fd31f" stroke-width="2.8" opacity="0.70"/><path d="M1703 2873h0M1733 2979h0M2092 2641h0M1873 2963h0M1882 2815h0M2210 2909h0M2166 2808h0M2043 2611h0M1986 2851h0M2084 2621h0M1856 2715h0" stroke="#45e636" stroke-width="2.8" opacity="0.70"/><path d="M2094 2608h0M1994 2790h0M2074 2934h0" stroke="#27b81a" stroke-width="4.4" opacity="0.70"/><path d="M1844 2898h0M1641 2792h0M1678 2962h0M1832 2946h0M1929 2968h0M1993 2759h0" stroke="#2fd31f" stroke-width="4.4" opacity="0.70"/><path d="M1650 2753h0M2085 2624h0M2112 3032h0M1754 2833h0" stroke="#45e636" stroke-width="4.4" opacity="0.70"/><path d="M2156 2723h0M1658 2651h0M1996 3006h0" stroke="#27b81a" stroke-width="6" opacity="0.90"/><path d="M1890 2972h0M2248 2757h0M2080 2849h0M2041 2704h0" stroke="#2fd31f" stroke-width="6" opacity="0.90"/><path d="M1947 2810h0M2146 2691h0M2233 3023h0M2021 2627h0M2129 2755h0" stroke="#45e636" stroke-width="6" opacity="0.90"/><path d="M1733 2745h0" stroke="#27b81a" stroke-width="7.6" opacity="0.90"/><path d="M2024 3002h0M1854 2743h0M1661 2738h0M1886 2931h0M2071 2953h0" stroke="#2fd31f" stroke-width="7.6" opacity="0.90"/><path d="M2133 2929h0M2271 3017h0M1985 2615h0" stroke="#45e636" stroke-width="7.6" opacity="0.90"/><path d="M2167 2853h0M1977 3022h0M2189 2779h0" stroke="#27b81a" stroke-width="9.2" opacity="0.90"/><path d="M1701 2754h0" stroke="#2fd31f" stroke-width="9.2" opacity="0.90"/><path d="M1717 2811h0M1881 2950h0" stroke="#45e636" stroke-width="9.2" opacity="0.90"/></g>
<g fill="none" stroke-linecap="round"><path d="M1764 2999h0M2201 3016h0M1946 2995h0M1875 3019h0M2255 2997h0M2162 3022h0" stroke="#27b81a" stroke-width="5" opacity="0.70"/><path d="M2019 3022h0M1714 3009h0M1835 2972h0M2080 3000h0M1944 3005h0M1859 3019h0" stroke="#2fd31f" stroke-width="5" opacity="0.70"/><path d="M2178 2996h0M1673 3005h0M1709 3008h0M1660 3022h0M1997 3018h0M1899 3018h0M1747 3030h0" stroke="#45e636" stroke-width="5" opacity="0.70"/><path d="M1997 3026h0M2193 2982h0M1959 3004h0" stroke="#2fd31f" stroke-width="7" opacity="0.70"/><path d="M1633 2988h0M1916 3020h0" stroke="#45e636" stroke-width="7" opacity="0.70"/><path d="M2143 3028h0M2205 3023h0M1882 3029h0" stroke="#27b81a" stroke-width="9" opacity="0.90"/><path d="M2156 2987h0M1989 3000h0" stroke="#45e636" stroke-width="9" opacity="0.90"/><path d="M1718 3014h0" stroke="#27b81a" stroke-width="11" opacity="0.90"/><path d="M1737 2988h0M1844 2981h0" stroke="#2fd31f" stroke-width="11" opacity="0.90"/><path d="M2256 3009h0M2073 2988h0M1876 2990h0M1704 2995h0" stroke="#45e636" stroke-width="11" opacity="0.90"/><path d="M2132 2986h0M1739 2996h0" stroke="#27b81a" stroke-width="13" opacity="0.90"/><path d="M1814 3014h0M1829 3008h0" stroke="#2fd31f" stroke-width="13" opacity="0.90"/></g>
<circle cx="1674.3" cy="2602.8" r="9" fill="#35dc27"/>
<circle cx="1765.7" cy="3014.2" r="9" fill="#35dc27"/>
<circle cx="1951.4" cy="2765.7" r="7" fill="#35dc27"/>
<circle cx="2265.6" cy="2697.1" r="8" fill="#35dc27"/>
<circle cx="2234.2" cy="2620" r="9" fill="#35dc27"/>
<circle cx="1762.8" cy="2725.7" r="8" fill="#35dc27"/>
<circle cx="2245.6" cy="2919.9" r="8" fill="#35dc27"/>
<circle cx="2145.6" cy="2825.7" r="7" fill="#35dc27"/>
<circle cx="1968.5" cy="2651.4" r="5" fill="#35dc27"/>
<circle cx="1691.4" cy="3008.5" r="6" fill="#35dc27"/>
<circle cx="1651.4" cy="2817.1" r="5" fill="#35dc27"/>
<circle cx="2228.5" cy="2954.2" r="7" fill="#35dc27"/>
<circle cx="2151.3" cy="3017" r="7" fill="#35dc27"/>
</g>
<rect x="1627" y="2593" width="652" height="443" filter="url(#speck)" opacity=".4"/>
</g>
<g clip-path="url(#cBL)">
<rect x="967" y="3040" width="655" height="442" fill="#030c02"/>
<circle cx="1207" cy="3088.9" r="41.6" fill="url(#haze)" opacity="0.6"/><circle cx="1313" cy="3134.8" r="49.6" fill="url(#haze)" opacity="0.8"/><circle cx="1169.7" cy="3189.2" r="57.6" fill="url(#haze)" opacity="0.8"/><circle cx="1442.1" cy="3152" r="40" fill="url(#haze)" opacity="0.4"/><circle cx="1379" cy="3197.8" r="33.6" fill="url(#haze)" opacity="0.6"/><circle cx="1582.6" cy="3183.5" r="41.6" fill="url(#haze)" opacity="0.6"/><circle cx="1490.8" cy="3063.1" r="49.6" fill="url(#haze)" opacity="0.4"/><circle cx="1060.7" cy="3260.9" r="52.8" fill="url(#haze)" opacity="0.8"/><circle cx="1379" cy="3286.7" r="57.6" fill="url(#haze)" opacity="0.5"/><circle cx="1037.8" cy="3355.6" r="60" fill="url(#haze)" opacity="0.8"/><circle cx="1192.6" cy="3401.4" r="56" fill="url(#haze)" opacity="0.6"/><circle cx="1358.9" cy="3441.6" r="57.6" fill="url(#haze)" opacity="0.7"/><circle cx="1399.1" cy="3395.7" r="30.4" fill="url(#haze)" opacity="0.6"/><circle cx="1548.2" cy="3401.4" r="40" fill="url(#haze)" opacity="0.2"/><circle cx="1261.4" cy="3321.1" r="48" fill="url(#haze)" opacity="0.2"/>
<g filter="url(#nmul2)"><rect x="940" y="3010" width="710" height="500" fill="#1c9a12" opacity=".06"/><circle cx="1207" cy="3088.9" r="37.4" fill="url(#hub)" opacity="0.6"/><circle cx="1313" cy="3134.8" r="44.6" fill="url(#hub)" opacity="0.8"/><circle cx="1169.7" cy="3189.2" r="51.8" fill="url(#hub)" opacity="0.8"/><circle cx="1442.1" cy="3152" r="36" fill="url(#hub)" opacity="0.4"/><circle cx="1379" cy="3197.8" r="30.2" fill="url(#hub)" opacity="0.6"/><circle cx="1582.6" cy="3183.5" r="37.4" fill="url(#hub)" opacity="0.6"/><circle cx="1490.8" cy="3063.1" r="44.6" fill="url(#hub)" opacity="0.4"/><circle cx="1060.7" cy="3260.9" r="47.5" fill="url(#hub)" opacity="0.8"/><circle cx="1379" cy="3286.7" r="51.8" fill="url(#hub)" opacity="0.5"/><circle cx="1037.8" cy="3355.6" r="54" fill="url(#hub)" opacity="0.8"/><circle cx="1192.6" cy="3401.4" r="50.4" fill="url(#hub)" opacity="0.6"/><circle cx="1358.9" cy="3441.6" r="51.8" fill="url(#hub)" opacity="0.7"/><circle cx="1399.1" cy="3395.7" r="27.4" fill="url(#hub)" opacity="0.6"/><circle cx="1548.2" cy="3401.4" r="36" fill="url(#hub)" opacity="0.2"/><circle cx="1261.4" cy="3321.1" r="43.2" fill="url(#hub)" opacity="0.2"/></g>
<path d="M1192 3074l-4-4-1-5-1-4M1197 3065l1-5M1192 3089l-1-5 0-5 1-5 3-4 2-5 1-5M1181 3117l5 2M1207 3089l-5 0-5-2-5 2-4 3-4 1-3 4-1 5 1 5 1 5-1 5-1 4 1 5M1191 3085l-5 2-5-1-4 3M1200 3082l-5 1-4 2-5 1-5 2-5-1-5-1M1204 3075l4 4 3 4 3 3 5 1M1210 3062l3-4M1199 3077l5-2 3-3 2-5 1-5 2-4M1207 3089l-4-4-3-3-1-5 2-5 1-5-2-5-4-2-4-4-2-4M1198 3040l4-3M1195 3036l-4 2M1207 3089l0-5-2-5 1-5-1-5 0-5-2-4-1-5-1-5-2-5-1-5-3-4 0-5M1217 3075l-4-2-5-1-5-1M1219 3065l4-2M1219 3080l-2-5 1-5 1-5 1-4M1218 3068l0-5M1222 3076l-1-4-3-4-4-3M1226 3074l5 3 3 3M1231 3073l5 1 5-1M1207 3089l5-2 3-4 4-3 3-4 4-2 5-1 5-2 5-1M1206 3082l-2-5-3-4M1201 3073l3-4 2-5M1196 3072l0-5M1210 3085l-4-3-1-5-4-4-5-1-3-4M1216 3082l5-2 5-1 5 0M1212 3080l4 2 5 2 5 0 4-2 5-1M1203 3060l-1-4M1213 3071l-3-4-3-4-4-3-5-2M1216 3067l5 1 5 0 5 1M1218 3062l1-5 1-5M1207 3089l3-4 2-5-1-5 2-4 3-4 2-5 1-5 2-5-2-5M1221 3095l-1 4-4 4-2 4M1212 3091l4 1 5 3 5 1 4 2 3 4 4 3M1244 3101l4-3M1207 3089l5 2 5-1 4 2 5 2 4 2 4 3 5 0 5 2 5-1M1227 3097l0-5 3-4 3-4M1232 3096l4 3M1223 3100l4-3 5-1 5 0 5 1M1223 3117l3 4M1228 3109l-4 3-1 5-1 5 2 5M1231 3113l-2 4-2 5-4 4M1207 3089l3 4 4 2 5 2 4 3 3 4 2 5 3 4 1 5-2 4-2 5-1 5M1209 3103l4 4 0 5 2 5M1211 3113l-3 5M1208 3098l1 5 2 5 0 5 1 5M1201 3110l0 5 2 5M1207 3089l2 4-1 5 0 5-2 5-5 2-5-1-5 0-4-2M1201 3105l-2 5-4 3-5 0M1199 3101l2 4 0 5 2 5-1 5-2 5M1207 3089l-2 4-4 3-2 5 0 5 1 5 1 5 1 4 0 5 1 5 4 3M1203 3097l-3 4-4 3M1203 3092l0 5-2 5-5 2-4 1M1199 3094l-2 4 1 5 0 5 1 5M1194 3093l-2 5 2 4 0 5 2 5M1189 3095l0 5 2 5-1 5-3 4M1179 3093l-4-2M1184 3095l-5-2-3-3M1207 3089l-4 3-4 2-5-1-5 2-5 0-4 3-5 0-5 1M1306 3105l-4-3M1308 3134l-1-5-1-5-2-4 1-5 2-5-1-5 1-5M1313 3135l-5-1-4 2-5 0-5-2-5 0-5 1-3 3-2 5 1 5M1305 3130l-4 2-5 0-5 1-4 3-4 3-5 0-5-1-5 0-5 0M1298 3109l4-2 3-4 1-5M1310 3131l-5-1-4-3-2-4-3-4-1-5 3-5 4-3 4-1 5-2 4-3 2-5M1280 3124l-1 5M1297 3116l-4 3-5 0-5 1-3 4-5 3M1313 3135l-3-4-2-5-4-3-2-4-5-3-3-3-4-4-5-1-4-3-5 0-5-2-4-2-4-3-3-4M1298 3115l-4 3-5 0M1293 3114l-2 4 0 5M1284 3113l-2-5M1307 3126l-1-4-4-3-4-4-5-1-4-2-5 1-5 2M1312 3105l5 0M1300 3114l3-4 5-3 4-2 4-3M1286 3112l-5-1M1300 3109l-5-1-4 3-5 1-5 0M1316 3098l5 0M1313 3135l-3-4-3-5-2-4-3-4-2-4 0-5 3-5 4-2 5-1 4-3 3-4M1320 3132l-2 4 1 5 2 5 0 5 2 4M1315 3130l5 2 5 0 4-1 4-4 2-4 2-5 2-5 2-4M1334 3127l4 2 5 0 5 0 5-2M1345 3117l5-1M1343 3126l1-5 1-4-1-5M1313 3135l2-5 4-3 5 0 5-1 5 1 5 1 4-2 5 0 5 1 5 1 4 3M1324 3137l-1 4-3 5-1 4-3 5M1322 3132l2 5-1 4 1 5 0 5 1 5-2 5-2 5M1332 3133l5 0 5 0 4-2M1337 3133l4-1 4-3M1341 3136l-2 5 1 5M1327 3131l5 2 5 0 4 3 2 5 3 4M1355 3133l1 5M1347 3128l4 2 4 3 3 4M1356 3125l-1-5 0-5M1313 3135l4-3 5 0 5-1 5-2 5 0 5-1 5 0 4-1 5-2 5 0 5-2 5 1M1318 3135l3 4 1 5 4 3 3 4 4 3M1335 3139l4 4 0 5 4 3 3 4M1353 3143l4 4M1313 3135l5 0 4-3 5 1 4 3 4 3 5 2 4 3 5 1 4-2 5 0M1324 3106l-3-3M1318 3136l3-4 3-4 4-3 4-4 1-4-1-5-3-4-5-2-4-3M1343 3163l-1 5-2 5M1335 3145l3 4 2 5 2 4 1 5 0 5 4 4M1340 3153l5 0 5 2 5 0M1336 3162l-5-1M1339 3149l1 4-1 5-3 4-3 4M1313 3135l5 1 5 1 3 4 4 3 5 1 4 4 4 2 5 2 5 1 4 2 3 4 5 2M1320 3181l-2 5M1317 3167l0 5 2 5 1 4 3 4M1314 3185l-4-2M1313 3135l-3 4 0 5 1 4 2 5 1 5 2 4 1 5 2 5 1 5-3 4-3 4-2 5M1298 3163l0 5 0 5M1299 3149l0 5 1 5-2 4 1 5-1 5 1 5M1291 3161l2 5-1 5-3 3M1286 3162l-2 5-1 5M1313 3135l-2 4-5 3-4 3-3 4-1 4-3 5-4 3-5 1-5-1-5-1-5 0M1295 3129l-1 5-2 5-2 4M1290 3131l-5 0-5 2-3 3M1286 3133l-5-2-5 1M1300 3129l-5 0-5 2-4 2-5 1-5-1-5-2M1307 3115l2 4 2 5M1296 3125l2-4 4-4 5-2 4-2 2-5 0-5M1290 3117l-5-1-4 2-5-1-5 2M1284 3105l0-5M1291 3112l-4-3-3-4 0-5M1313 3135l-5-1-4-3-4-2-4-4-3-3-3-5 1-5 2-4 2-5 1-5-2-4-3-4M1178 3178l3-5 0-5 1-5M1188 3178l4 3M1168 3179l5-1 5 0 5-1 5 1 4 2 3 5M1169 3170l-2-5-1-5-3-4-3-4M1169 3160l1-5 4-3 4-4M1168 3155l0-5 0-5 1-5M1170 3175l-1-5 1-5-1-5-1-5-4-3-3-4-5-2-4-3M1157 3145l-4-3M1159 3150l-2-5-3-4M1170 3189l-1-5-1-5 2-4-1-5 0-5 1-5-3-5-4-3-4-2-5 0-5 3-2 4-1 5M1190 3167l4 3 5 3 5 0 5 1 3 4 1 5M1195 3165l-1-5-1-5-1-5 1-5M1208 3144l5-1M1186 3169l4-2 5-2 3-4 3-4 4-3 2-5 1-5 3-4M1203 3156l-4-3-5-1M1203 3161l0-5 1-5 1-5M1210 3159l5-3 4-1M1213 3162l-2 5M1205 3157l5 2 3 3 3 5 0 5M1208 3147l4-3M1207 3152l1-5 2-5-1-5M1205 3143l-2-5M1201 3139l-4 2M1170 3189l-2-4 1-5 4-4 3-3 5-2 5-2 4-1 5-1 4-3 4-3 2-4 2-5 0-5-2-4-4-4-3-3M1182 3170l5 2 4 3 3 4 3 4 1 5M1192 3152l-3-3M1178 3172l4-2 3-4 2-5 3-4 2-5 2-4M1175 3162l-2-4 0-5-1-5M1179 3153l1-4 3-5M1170 3189l3-4 2-4 3-4 0-5-2-5-1-5 1-5 3-4 2-4 4-3 4-4M1174 3187l3 4 4 3 2 5 0 5 1 4 1 5 1 5-1 5-2 5-2 4-4 4M1198 3168l-5-2-5-1-4-2M1200 3173l-2-5-3-4 0-5 3-4 2-5 4-3M1212 3167l4-3 4-3 2-4M1202 3169l5-2 5 0 5-2 4-3 4-2M1210 3163l5-2 3-4 3-4 3-4M1208 3156l-1-5M1212 3158l-4-2-5 0-5 1M1215 3154l5 1 5-1M1216 3149l-3-4M1170 3189l4-2 5-1 5-2 5-1 4-3 3-3 4-4 2-4 5-2 3-4 2-5 3-4 1-5 3-4M1166 3227l0 5M1172 3199l-2 4 0 5 0 5-4 4-1 5 1 5 0 5M1170 3204l-2 4-3 4-4 4-5 0-4-2M1169 3223l5 3 4 1 4 4M1168 3218l1 5 2 5 4 3 4 3M1170 3223l-3 4 0 5 1 4M1171 3232l5 1 5-1M1170 3189l2 5 0 5-2 5-2 4-1 5 1 5 2 5-1 5 2 4 1 5 1 5-1 5M1161 3226l-2 5-4 2M1162 3216l0 5-1 5 0 5 0 5 1 5M1146 3235l-2 4M1170 3189l2 5 3 4 1 5-2 4-4 3-4 3-4 3-2 4-3 5-3 4-3 4-5 2-3 3-3 4M1181 3194l3-3 5-2 5 0 5 0 5 2M1210 3193l-1-5-3-4M1171 3194l5 1 5-1 4 2 5 0 5-1 5 1 5-1 5-2 5 0 5 1M1201 3179l0-4 1-5-1-5 1-5M1200 3175l5-2 5 0 4-3M1198 3194l0-5 1-5 2-5-1-4 0-5-1-5-3-4-5-3M1210 3174l1-5M1213 3170l5 0M1203 3180l4-3 3-3 3-4 3-4M1206 3171l4-4 4-1 5-1M1208 3161l5 0M1206 3166l2-5 0-5M1170 3189l1 5 3 3 5 2 5-1 5 0 5-1 4-3 2-4 1-5 2-5 1-5 2-4 0-5 3-4 1-5 2-5M1131 3192l2 4M1165 3191l-4-3-3-3-5-2-5 0-5 0-5 2-4 3-3 4-2 4M1134 3190l-5-2-5 0-4-3M1139 3189l-5 1-5 2-4 2-2 5-4 3M1141 3165l5-1M1170 3189l-5 2-4 3-5 1-5-1-5 1-4-2-3-4-1-5-1-5 0-5 3-4 1-5 4-3M1151 3195l3 4 4 2 4 3M1160 3190l-4 3-5 2-3 3-2 5 0 5 1 4 0 5M1143 3176l1-5 1-5M1146 3185l-2-4-1-5 1-5 1-5 0-5M1130 3167l-5-1-4 1M1170 3189l-5 2-5-1-5-1-5-1-4-3-4-2-2-5-4-3-2-5-4-3-2-5 0-5 2-4M1175 3152l1-5-1-5 2-5 3-4 2-4M1187 3145l2 4M1191 3143l2-5M1177 3148l5-3 5 0 4-2 5-2M1181 3144l-2-5 2-5 2-4M1170 3189l-4-4-1-4-2-5-1-5 0-5 1-5 3-4 4-3 5-2 2-4 4-4 4-3 4-2 4-4 4-2 5-1M1419 3154l-4 3M1438 3155l-5-2-4 2-5 0-5-1-3-4M1418 3176l3 3M1442 3152l-4 3-4 3-2 5-4 3-3 4-4 2-3 4-3 4-5 2M1432 3152l-4 3-2 5-4 3M1428 3150l1-5 1-5 4-3M1419 3145l2-4 4-4M1437 3152l-5 0-4-2-5-1-4-4-5-1-4-2M1432 3153l-1 5-1 5-2 4-1 5-4 4-4 2M1401 3141l-3 4-4 2M1398 3138l-1-5M1442 3152l-5 0-5 1-5 0-4-2-3-4-4-3-5 0-5-2-5-1-3-3-3-5M1438 3149l-5 1-3 3-3 5-3 4-3 4M1419 3156l-5 1-4 3M1420 3151l-1 5-2 4-1 5 1 5M1442 3152l-4-3-4-2-5-1-5 1-4 4-2 4-1 5-1 5 0 5 1 5M1437 3133l4-3 3-4 4-2M1437 3143l1-5-1-5-3-4-4-2-5-2M1442 3152l-2-5-3-4 0-5-3-4-1-5 1-5-1-5 0-5 3-4 2-5M1424 3132l-4-3M1420 3136l-3 4M1447 3138l-5-2-5-2-4-3-5 0-4 1-4 4-2 4M1437 3121l-2-5-3-4M1433 3111l1-4M1442 3152l0-5 3-5 2-4-1-5-3-4-3-4-3-4-2-5-2-5-3-3M1467 3138l1 5 2 5M1442 3152l4-4 2-4 4-2 5-3 5-1 5 0 4-2 3-4 2-5M1442 3152l3 4 5 2 2 5-1 5 3 4 4 3 3 3 5 2M1444 3160l-5 1-4-3-3-4-2-5M1446 3155l-2 5-4 3-5 2-5 0-4-1M1450 3158l5 1 5 0 4 3 5 1M1462 3167l4 2 4 3 1 5M1463 3172l5 0 5 1M1442 3152l4 3 4 3 4 2 5 3 3 4 1 5 4 3 4 2 5 1M1448 3159l2 5 0 5 0 5-1 5 0 5 2 5M1455 3166l3 4 1 5 2 5M1462 3179l5-2M1451 3164l4 2 3 4 1 5 3 4 1 5M1444 3178l-5 2M1439 3179l-2-5M1454 3167l-2 5-4 3-4 3-5 1-5 1M1474 3172l3-3 2-5M1442 3152l2 5 4 2 3 5 3 3 5 2 5 0 5 2 5 1 4 1 4 3M1444 3189l5 1M1440 3156l1 5 0 5-2 5-1 5 1 4 2 5 3 4 2 4 3 4M1418 3165l-4 3-3 4M1428 3165l-5 0-5 0-5-2-5 1-5-1-5 1M1404 3166l-4 4M1414 3167l-5-1-5 0-4 4M1404 3167l-3-4M1409 3169l-5-2-5-1-5-1M1442 3152l-2 4-4 3-5 2-3 4-5 2-5-1-4 1-5 2-4 3-2 5 0 5M1381 3215l5-2M1377 3213l4 2 4 3 2 5M1379 3198l-1 5 0 5-1 5-4 3-4 3-2 5-4 3-2 4M1362 3215l-5-1-5 1M1373 3206l-3 4-4 3-4 2-5 2-4 3-2 5M1365 3211l-5 0-4-1-5-3-3-4M1363 3224l1 5M1361 3220l2 4 0 5M1358 3224l4 3 4 3M1379 3198l-3 4-3 4-3 4-5 1-3 4-1 5-3 4-4 4-2 4M1370 3202l-4 3-5 0-5 3-4 2M1359 3218l-2 5-4 3-1 5M1355 3227l-4 3M1379 3198l-4 2-5 2-4 3-2 5-3 4-2 4-3 4-1 5-1 5M1366 3191l-2-5 0-5-2-4M1374 3197l-4-3-4-3-3-4-4-3-5-2M1350 3203l-4-2-5 0M1349 3208l-5 0M1379 3198l-5-1-5 1-5 0-5 1-5 1-4 3-1 5 1 5M1367 3178l-5 1M1375 3184l-4-3-4-3-5 0M1367 3172l0-5M1371 3175l-4-3-4-3M1379 3198l1-5-3-4-2-5-2-5-2-4-3-4-4-3M1406 3184l3 4M1403 3189l3-5 4-3M1379 3198l3-4 2-5 5-2 5 0 5 0 4 2 3 4 5 2 5-2M1406 3193l2-4M1401 3192l5 1 5 1M1404 3182l1-5M1379 3198l5 0 5 1 5-1 4-3 3-3 1-5 2-5 5-2M1397 3191l3-4 4-4 1-4M1402 3190l3-4 2-5 1-5M1408 3182l5-1M1379 3198l4-2 5-2 4-3 5 0 5-1 4-3 2-5 1-5M1379 3207l-5 0-4 2-2 4M1375 3216l1 5M1381 3202l-2 5-2 4-2 5-4 3M1383 3212l-1 5-3 4-4 2-5 2-5 1M1379 3198l2 4 1 5 1 5 4 4 4 2 5 2 5 0 4-2 3-4M1379 3198l3 4 2 4 0 5 3 5 0 5-3 4-5 2M1596 3188l3 4 3 4 4 3M1606 3188l3-4M1591 3189l5-1 5 0 5 0 4 1 4 4M1599 3195l4 3 4 3 3 4M1602 3209l-5 2-4 2M1600 3214l-4 3M1583 3184l4 3 4 2 4 2 4 4 2 5 0 4 1 5-2 5-2 5M1596 3196l5 0 4-1M1583 3188l4 4 4 3 5 1 4 2 5 2 3 3M1606 3187l-4-4M1609 3190l-3-3-5-2M1612 3181l-4-3M1583 3184l0 4 3 5 4 2 5-1 5 0 5 0 4-4 2-4 1-5 2-5M1572 3197l-5 1-4 2M1568 3200l-5 0M1577 3197l-5 0-4 3-3 4M1582 3210l-4 3M1576 3202l4 3 2 5 1 5M1583 3184l-2 4-3 4-1 5-1 5-1 5 0 5-1 5 1 5M1577 3196l-5-1-5 1-5-1-4 1-5-1M1554 3197l-5 3M1549 3196l-2-5M1583 3184l0 5-2 4-4 3-5 3-5-1-4 2-5-1-4-2-5-1-5 0M1573 3183l-5 2-3 4-4 2-4 3-3 4M1565 3179l0-5 1-5 4-4M1568 3183l-3-4-3-4-3-4-5-1-5-1M1559 3183l-5-2-4-1M1563 3186l-4-3-2-4 0-5M1558 3193l-5-2-3-4M1583 3184l-5 0-5-1-5 0-5 3-2 4-3 3-4 4-4 3-4 2M1573 3185l-4-4-5-1-5 0-4 1-4 3-2 5M1548 3184l-2 4M1544 3183l-4-4M1563 3186l-5 0-5-1-5-1-4-1-4-3M1583 3184l-5 1-5 0-5 1-5 0-5-2-4 1-5 2-5 2-5 1M1587 3165l4-3 2-4 1-5-1-5M1596 3162l3 3 5 3 2 4 5 2M1599 3158l1-5-1-5 0-5M1581 3174l3-4 3-5 4-2 5-1 3-4 5-3 4-3 2-4 1-5M1566 3151l-5 0M1582 3169l-5-2-4-3-3-4-2-4-2-5-3-4M1582 3159l4-4 3-4 4-3 3-4M1583 3184l-1-5-1-5 1-5 2-5-2-5-2-4-4-4-2-4-2-4 0-5 3-4 1-5M1582 3160l-5 0M1585 3179l-3-4-1-5 2-5-1-5-2-5M1594 3162l4-3 5-1 5 1 5 1M1583 3184l2-5 3-4 1-5 1-4 4-4 4-3 2-5 1-5-1-5-4-3-5-2M1578 3163l-1-5-3-4M1590 3178l-3-4-2-5-3-4-4-2-5-1-5 0M1603 3181l4 1 5-1 5 1M1605 3185l-1 5 1 5M1600 3176l3 5 2 4 0 5-1 5-2 5M1607 3168l-3-4-2-4-2-5 0-5M1615 3146l4-3M1583 3184l4-3 3-3 5-1 5-1 4-3 3-5 1-5-1-5 3-4 3-4 2-4 4-4M1574 3151l-5 2M1583 3184l3-4 2-5 0-4-2-5-2-5-3-3-3-5-4-2-5 1M1486 3065l-5 0-5-1-5-1-5-1-4-1M1486 3097l5 1 4 3M1491 3063l-5 2-3 3-1 5 1 5-1 5 2 4 2 5 0 5-1 5-4 3M1473 3071l-4 3-4 3-5-1-4-2-4-4-5-1M1459 3067l-5 3-3 3-5 1M1454 3067l-3-4-1-5 0-5M1449 3069l-5 2-5 0M1491 3063l-5 2-3 3-5 2-5 1-5-2-4-2-5 0-5 0-5 2-4 3-3 4M1469 3057l2-4 4-4 2-4 3-4 4-3 2-5M1448 3061l4 4M1454 3053l-3 4-3 4-1 5M1449 3054l-3 4-5 1M1491 3063l-5-1-5 2-5-1-3-3-4-3-5 0-5-2-5-2-5 1-5 0-5 1-5-1M1487 3060l3-4 5-1 5 1 5-2 5 1 4 2 5 0M1478 3032l-5 2-2 4-4 4M1477 3049l4-3 1-5-2-5-2-4-3-4-2-5-5-1M1463 3035l-5 1-5 1-5-2-4-2M1491 3063l-4-3-4-2-3-5-3-4-4-3-3-4-3-4-4-3-4-3-4-3-3-4 1-5 2-4M1493 3040l-2-4 1-5-3-5M1495 3036l1-5 0-5-2-5-4-3M1503 3031l4-3 0-5M1487 3049l4-4 2-5 2-4 3-4 5-1 4-2 3-5 4-2M1485 3022l4 3 3 4M1491 3063l-2-5-1-5-1-4-2-5-2-4-3-5 0-5 1-5 4-3 2-5 1-5 3-3 2-5M1526 3038l3-4 4-3M1535 3035l4-3M1530 3035l5 0 5 2M1538 3030l-2-4M1491 3063l5-1 4-3 1-5 4-3 5-2 4-2 3-4 4-3 5-2 4-3 5-1 3-4 3-4M1488 3046l-4-3M1494 3059l-2-5-1-5-3-3-1-5-1-5M1510 3062l3 3 2 5M1508 3057l2 5 2 4 2 5M1518 3057l3-3 1-5 0-5M1527 3061l2-5M1491 3063l3-4 4-3 5 0 5 1 5 0 5 0 4 3 5 1 5-1M1503 3067l5 1 5-1 5 2M1508 3067l5 3 4 2M1513 3067l3-4 3-4M1499 3069l4-2 5 0 5 0 5 0 5-2M1512 3075l5 1 5 0 4 2M1517 3077l3-4 2-5M1526 3076l5 2M1502 3073l5 1 5 1 5 2 4-2 5 1 4 3M1524 3082l3-4M1511 3076l5 2 4 3 4 1 5-1M1515 3078l1 5-2 5 0 5M1525 3080l3-4 1-5M1491 3063l4 2 4 4 3 4 4 3 5 0 4 2 5 1 5 1 5-1 5 0M1505 3104l4 2M1511 3091l-3 4-1 5-2 4-1 5M1517 3103l5 0 4 3M1522 3112l4 2M1517 3098l0 5 2 5 3 4 2 5M1525 3111l0 5M1491 3063l1 5 3 4 2 4 4 4 2 4 3 4 5 3 3 3 3 4 2 5 3 3 3 5 2 4M1508 3096l-2 4 1 5 2 5M1517 3108l3-3M1495 3082l4 2 3 4 3 4 3 4 2 5 3 3 4 4 2 5M1499 3105l4 3 5 1 5 1M1502 3110l4 1 5-1M1503 3114l-5 2M1498 3100l1 5 3 5 1 4 0 5M1510 3107l5 1M1500 3105l5 2 5 0 5 2 4 2M1506 3118l0 5M1491 3063l0 5 0 5 2 4 2 5 0 5-2 5 2 5 3 3 2 5 1 5 3 4 2 4 2 5M1064 3269l0 5 1 5-2 4-1 5M1085 3278l3-4M1060 3266l4 3 2 4 4 3 5 0 5 0 5 2 4 3M1048 3285l4 3 3 4M1046 3280l2 5 4 3 3 4 1 5M1061 3261l-1 5-3 4-4 3-3 4-4 3-2 5-3 4-2 4-3 4-4 3-4 3M1041 3242l-4-4-3-4 0-5M1029 3249l2 5M1046 3243l-5-1-5 1-5 2-2 4-4 3-4 4M1021 3249l1 5M1037 3239l-5 1-4 3-3 4-4 2-4 4 0 5M1013 3234l-3-4M1027 3236l-5 0-4-3-5 1-5 0M1013 3232l-4-2-5-1M1022 3236l-4-1-5-3-2-4-3-4M1011 3234l-1-5M1013 3239l-2-5-3-4M1009 3237l-5 0M1061 3261l-5-2-4-3-4-3 0-5-2-5-4-3-5-1-5-2-5-1-5 0-4 2-5 1-4-2-5-1-4-3M1077 3251l5-1 5-2 5-2 4-2 5-2M1082 3264l-5 2-5 2-4 3M1056 3259l3-5 4-2 5-2 5-1 4 2 3 4 1 5 1 4 2 5 1 5 3 4M1048 3236l-3-4-4-3-2-4-5-3M1061 3261l-5-2-3-4-2-5-2-4-1-5 0-5 1-5 1-5 2-4 0-5-2-5-2-5-1-5M1054 3225l5 0M1061 3261l-3-4-4-3-4-3-3-4-1-5 0-5 2-5 4-2 2-5 1-5M1102 3253l4 4 4 1M1116 3259l5 0M1061 3261l4-3 4-2 5 0 5 2 5 2 4-1 5-2 5-2 4-2 5 1 4 4 5 1 4 2M1065 3248l-4-3-3-4-2-5-3-3-5-1M1057 3230l3-4 4-3M1066 3253l-1-5-1-5-3-4-1-5-3-4-2-4-4-3M1061 3261l1-5 4-3 3-4 5-2 4-2 4-3 3-4 1-5-1-5-4-3M1071 3289l-2-4M1083 3275l-2 4-2 5-3 3-5 2-4 3M1098 3268l-3-4M1087 3277l5-2 4-3 2-4 2-5 5-2M1101 3281l0 5M1096 3281l5 0 5 2M1100 3283l5-2 5-1M1061 3261l4-2 5 1 5 2 2 4 3 5 3 4 4 2 5 1 4 3 4 2 5 1 5 0 5-2M1063 3270l5 2 4 3 5 1 5-2 4-1 5-2M1075 3278l1 5 4 3 5 2 5-2M1094 3274l5-1M1070 3278l5 0 4-1 5-2 5-1 5 0 5 0M1078 3301l-5-2M1061 3261l2 4 0 5 3 5 4 3 2 4 2 5 2 4 2 5 0 5-2 4-1 5M1059 3280l2 4 5 3 3 4 5 1 5-1 4-1M1058 3285l1 5-2 4-1 5-2 5-2 4 0 5 2 5M1051 3298l-5 1-5 2-5 1M1046 3299l-5 2-5 1-5 1M1041 3298l-4 3-4 3-4 3M1031 3298l-5 2M1057 3270l1 5 1 5-1 5-2 4-2 5-3 4-5 1-5-1-5 0-5 0-5 1M1052 3295l4-3 4-3 5-1 5-1M1055 3299l-2 4 0 5 0 5M1046 3286l3 5 3 4 3 4 3 4 2 4 1 5 1 5M1044 3291l3 3 4 4 3 3 5 3 5 1 3 4M1043 3303l-3 3-5 2M1039 3305l-4-3-5-2M1047 3300l-4 3-4 2-5 0-5-1M1054 3307l-1 4 0 5M1061 3261l-1 5-3 4-1 5-2 5-4 3-4 3-2 5 0 5 3 4 4 3 3 4 3 4 4 3 5 0M1070 3282l5-1 5-2 2-5 4-2 5-3M1075 3291l5-2 5 0M1070 3277l0 5 2 4 3 5 4 2 5 0 5-2 2-4M1078 3294l-5 0-5 1M1077 3303l-4 3M1077 3284l1 5 0 5-2 4 1 5 2 5M1101 3295l3 4M1097 3298l4-3 1-5 4-3M1105 3293l5 0M1061 3261l0 5 1 5 3 4 5 2 4 3 3 4 4 3 4 3 3 4 4 2 5 2 5-1 3-4 3-4M1363 3300l-4 2-5 0-5 0-4-3-4-3M1374 3310l4 2 5 1M1379 3308l3-4M1365 3290l-1 5-1 5 2 5 4 3 5 2 5-2 4-2 5-2M1335 3296l-5 1-5-2M1338 3300l-3-4-1-5-1-5M1329 3311l-1 5M1333 3302l-1 4-3 5-3 4M1325 3305l-5-1-5 0M1328 3301l-3 4-5 2-4 2M1379 3287l-5 2-5-1-4 2-5 2-4 3-4 3-4 2-5 1-5-1-5 2-5-1-5 0-5-2-4-3M1371 3281l-2-5-1-5-3-4-3-4-4-3M1369 3285l2-4-1-5-1-5 1-5 3-4 3-4 4-3 4-4 2-4M1374 3245l2-4 2-5M1379 3287l-5 0-5-2-4-1-4-4-1-5 0-5 3-4 1-5 2-4 1-5 2-4 5-3 5-1 4-1M1394 3283l2-5-2-5 0-5-3-4-3-4M1398 3280l4-3 5-1 5 2 4 3M1402 3277l1-5 2-5 0-5M1403 3272l-3-4-4-3-5-1M1380 3282l5-1 4 2 5 0 4-3 4-3 1-5-1-5-4-3-2-5-4-3M1373 3274l-5-2-5 0-5 2M1363 3277l-2-5 0-5M1377 3273l-4 1-5 2-5 1-4 3-3 4-4 3M1380 3263l2-4 1-5 0-5M1377 3268l3-5 2-4 2-5 3-4 0-5M1372 3260l-3 4-4 4-3 3M1376 3263l-4-3-4-3-1-5-1-5M1378 3249l-1-5-2-4-2-5M1379 3287l1-5 0-5-3-4 0-5-1-5-2-5 1-5 3-4 4-3 2-4 3-4 2-5 3-4M1385 3241l3-4 3-4M1389 3238l-2-5 0-5M1379 3287l0-5 0-5 1-5-1-5-2-5-1-5 0-5 2-4 3-4 4-3 4-3 4-3 4-3M1415 3299l3 4 4 3 2 4M1415 3304l-5 1M1408 3286l2 5 3 3 2 5 0 5-1 5-3 4M1420 3289l4 3 2 4 1 5M1431 3279l-3-4M1416 3292l4-3 3-4 4-2 4-4 0-5M1428 3300l0 5-4 3M1429 3305l-5 1M1428 3309l-4 3M1379 3287l5-2 4-2 5 0 5 2 5-1 5 2 4 3 4 3 4 2 5 2 3 4 1 5-1 4-1 5M1390 3296l5 0 5-1 5 3 4 1M1394 3299l5 2 5-1 4-2 2-5M1397 3303l2 5 2 4 4 4M1384 3288l3 4 3 4 4 3 3 4 3 4 4 2 5 2 5 0M1402 3292l3-4 5-2 5-2 3-4 3-3M1406 3295l-3 4-4 3-2 5M1423 3305l-1 5M1399 3289l3 3 4 3 4 4 4 2 4 3 5 1 5 1M1410 3297l4-3 5 0 5-1M1415 3297l5 2 4 3M1420 3296l5-2M1403 3291l3 4 4 2 5 0 5-1 5 1M1379 3287l5 1 5 1 5 0 5 0 4 2 4 3 5 2 4 2 4 3 4 3 5 2 5-1 5 0M1388 3278l-1-5 0-5 3-5M1384 3287l1-5 3-4 4-3 2-5 1-5 0-5M1394 3277l5 2 4 3 3 4 4 2 5 0M1402 3271l4-3 5-1 5 1 5 1M1414 3262l-3-3M1411 3266l3-4 4-1M1379 3287l5 0 4-3 2-5 4-2 3-4 5-2 4-3 5-2 4-3 4-2 3-4M1379 3320l-4 3-5 0-5-1-5 2M1380 3325l-1 5-2 4M1380 3330l2 5 0 5M1378 3334l-5-1M1382 3291l-2 5-1 5 0 5-1 4 2 5-1 5 1 5 0 5-2 4 0 5-1 5M1389 3301l-2 5-3 4-4 3-4 3-3 3-3 4 0 5-1 5M1390 3311l4 4 2 4 4 3 2 5 4 3 4 3M1388 3321l-4 2-4 3-5 2M1390 3296l-1 5 0 5 1 5-2 5 0 5-2 5-3 3-5 2-4 2-5-1-5 0M1389 3314l-5-1-4-3-5 0-5-1M1384 3313l-1-5 2-4-1-5M1379 3313l-2 5-4 3M1397 3303l-1 5-3 4-4 2-5-1-5 0-5 0-5 0M1406 3289l-3-4M1400 3307l4-3 2-5 0-5 0-5 0-5M1412 3322l5 1 5 1M1415 3326l1 5M1404 3316l4 3 4 3 3 4 2 4 3 5M1417 3348l-4 3M1379 3287l3 4 4 2 4 3 3 4 4 3 3 4 2 5 2 4 0 5 2 5 4 3 1 5 3 4 1 5 2 5 4 3M1381 3301l5 1 5 0 4-1 5-2 5-1 4 2M1383 3310l5 0 5 1 5 1 4-2 5-1 5 2M1382 3315l-5 0-5 0-4-3-5-2M1387 3334l5 1M1377 3291l3 5 1 5 2 4 0 5-1 5 2 5 2 4-1 5 2 5 2 4 1 5M1379 3287l-2 4 2 5 3 4 5 2 2 4 4 4 1 5-1 5 2 4 1 5-2 5-1 5-4 3-3 3M1385 3317l1 4 1 5M1389 3319l4-2M1376 3306l4 2 4 4 1 5 4 2 4 3 5 1M1376 3311l5 1 4 1 5 1 5 2 4 3M1379 3287l0 5-2 4 0 5-1 5 0 5 2 5 4 3 3 3 3 4 4 4 2 4 2 5 3 4M1040 3385l1 5-2 5-2 5-3 3-4 3-4 3M1044 3389l2 5-1 4 2 5 0 5M1036 3383l4 2 4 4 3 4 1 5 3 4 3 4 1 5-1 5M1014 3379l-3 4-4 3M1032 3386l-5-1-5-1-4-3-4-2-3-4-1-5-3-4M1023 3397l-2 4-3 5-3 3M1018 3398l-1 5 1 4 3 5 4 2M1038 3356l1 5 3 3 0 5-1 5-3 4-2 5-4 3-1 5-4 3-4 3-5 1-5 1-3 3-1 5-3 4-3 4M1038 3374l-1 5-3 4-5 2-4 2-5-1M1035 3370l3 4 4 3 5 0 5-3 4-1 5 1 5 2M1025 3387l-5 0-4 2M1034 3375l-2 4-4 4-3 4-1 5 2 5 3 4M1041 3392l4 2 3 4 4 3M1052 3401l4-3M1032 3380l3 4 2 4 4 4 3 3 3 4 5 2 5 0M1017 3384l1-5 4-3M1014 3380l-5 2M1030 3389l-5 1-5-3-3-3-3-4-4-3-5 0M1030 3394l-1 5 0 5-2 4-3 5M1022 3406l0 5-1 5M1038 3356l-2 4-1 5 0 5-1 5-2 5-2 4 0 5 0 5-2 4-4 4-2 4-1 5-1 5-1 5M1021 3354l0-5-2-4-2-5M1008 3352l-2-4M1035 3360l-5-1-4-2-5-3-3-3-5-1-5 2-5 2M1027 3390l-5 0-5-2M1030 3387l-3 3-5 1-4 4-1 5M1038 3356l-3 4-1 5 2 5 2 4-1 5-3 4-4 4-3 4-2 4-3 4-4 3M1028 3352l-1-4-1-5 0-5-3-4-2-5-2-4M1020 3341l-5 1-5 1-4 2-3 4-1 5M1013 3328l-4-3-4-3-4-3-2-5M1013 3323l4-3 5 0 5 2M1014 3318l-5-2-2-5M1015 3308l4-3M1033 3355l-5-3-3-3-2-5-3-3-3-4-3-4-1-5 0-5 1-5 1-5 0-5 1-5M1024 3376l-3 4-1 5 2 4M1030 3385l1 4 1 5M1023 3353l-3 4 0 5 2 5 2 4 0 5 4 4 2 5 1 4 1 5 1 5 3 4M1001 3359l1 5 3 4 3 4 3 4M1003 3369l-4 4-1 5-4 3-5 1M1004 3374l5 0 5-1 5 2M1001 3383l-5 1M1008 3353l-4 2-3 4 0 5 2 5 1 5-1 5-2 4-3 4-2 5M988 3374l-1 5-2 4-3 4M979 3377l-5-2M1038 3356l-5-1-5-2-5 0-5 0-5 0-5 0-4 3-4 1-4 4-2 5-2 4-4 4-5 0-4 3-5 0-5 2M1026 3348l2-4 1-5 2-5M1029 3352l-3-4 0-5 1-5-1-5 0-5-2-5M1011 3345l-4 2-5-1-5 0-5 2M1019 3351l-4-4-4-2-5-1-4-2-5-3-5 0M1038 3356l-5-2-4-2-5-2-5 1-5-1-5-2-3-4-1-5 0-5 3-4 2-5 3-4M1029 3328l-3-4 0-5M1039 3328l-5 0-5 0-5-1-4-2-5-2M1038 3356l2-5 2-5 1-5 0-4-1-5-3-4-4-3-3-4-5-2-3-3-3-5-3-3M1056 3336l3 3 4 4 2 4 3 4 2 5 3 4 1 5M1069 3329l1-5 3-4 0-5 1-5M1061 3334l3-3 5-2 5 0 5-2 4-2 3-4M1071 3330l4-3 4-4M1071 3335l0-5-1-5 0-5-1-5M1089 3335l5-1M1080 3331l5 1 4 3 4 3M1038 3356l-1-5 2-5 4-3 5-2 4-3 4-2 5-2 5 1 5 0 4-2 5-2 5-1 5 1 4 2M1047 3345l5 0 5 0 4-3 3-4 4-3M1051 3341l4-3 2-4 5-3 3-4 3-3M1064 3336l3-4 5-1M1069 3336l4 3M1042 3353l3-4 2-4 4-4 4-1 5-1 4-3 5 0 5 1M1069 3347l5-2 5-1 5 1M1068 3357l-4 3-2 5M1063 3340l4 2 2 5 0 5-1 5-3 4 0 5M1081 3346l3 4M1082 3342l-1 4-4 3-4 4M1091 3344l4 3 1 5M1038 3356l4-3 4-3 4-2 5-2 3-4 5-2 5-1 5 0 4 1 5 2 5-1 4 3 5 1 4 3 5 0M1042 3357l4-3 5-1 5-2 4-1 5 0 5-2 5 0 4 2 4 2M1084 3358l0 5 0 5M1092 3364l0 5M1056 3362l5-3 4-1 5-2 5-1 5 1 4 2 4 3 4 3 4 2M1079 3373l2 5M1061 3364l5 2 4 2 4 3 5 2 5 1 3 3M1038 3356l4 1 5 2 5 0 4 3 5 2 4 3 4 3 3 3 5 3 5 0 5-1 5 0 4-1 5-1 5 2M1047 3380l5 1 5-1 5 1 3 3 3 5 3 4 3 4M1047 3385l5 1 5 0 4-3 3-4 1-5 0-5M1039 3360l4 4 4 2 2 5 0 5-2 4 0 5-4 4-3 4-3 4-2 4-1 5-2 5 1 5 1 5M1042 3390l5 1 5 2 5 0 5 0M1051 3393l2 5 2 5 2 4M1055 3396l2 5 3 4 1 5M1059 3400l4-3 5-2 2-5M1066 3407l5-1 5 0M1068 3411l5-1M1041 3375l-1 5 1 5 1 5 4 3 5 0 4 3 4 4 4 3 3 4 2 4 1 5M1026 3368l-3-5-2-4M1031 3386l-2-4 0-5-2-5-1-4-4-3-4-4M1015 3371l-3-4-2-4M1014 3381l0-5 1-5 4-4 4-2M1038 3356l1 4 1 5 1 5 0 5-4 4-2 5-4 2-5 2-4-3-5-1-3-3-3-5-2-4-3-4-5-2-4-2-5 2M1155 3392l-3 4M1169 3389l-5 1-4 3-5-1-5 2M1155 3389l-4 3-5 1M1193 3401l-5 3-5-1-4-3-3-4-3-4-4-3-5-1-4 2-5-1-5 1-5 0M1186 3378l4-2 5-1M1183 3398l1-5 1-5 1-5 0-5-1-5-4-4M1165 3392l-5 0-5-1M1174 3387l-5 2-4 3-5 0-5-2-5-1M1171 3383l-5-1-4-1-5 0M1193 3401l-5-1-5-2-4-2-3-4-2-5-3-4-2-5 1-5 3-4 3-3M1184 3390l-5-2-5-1-4 2-5 2-3 4-3 4-3 4M1178 3363l0-5 0-5M1177 3354l3-5M1185 3385l-4-4-3-4-2-4 0-5 2-5 0-5-1-4-3-4M1220 3391l-2 4M1193 3401l-3-4-4-3-2-4 1-5 4-4 2-4 3-4 4-2 5 1 4 3 2 5 4 3 4 4 3 4 4 3 4 1M1193 3388l-5-1-5 0-4 2-5 2M1188 3380l-4 2-3 4-2 5-1 5M1196 3392l-3-4-1-5-4-3-4-3-5 0-5-2-2-5-3-4M1205 3381l-4-4-1-5-4-3-4-2M1197 3387l4-3 4-3 1-5 3-4 0-5 2-5 4-3 1-5 3-4M1196 3358l-5-2-4-2M1199 3355l4-4M1195 3363l1-5 3-3 5-1M1193 3401l1-4 2-5 1-5 1-5 0-5 0-5-1-5-2-4-2-5-4-2-5-2-5 1-5 1-4 3M1206 3382l5 1 5 1 5-1 4-2M1216 3384l2-4 1-5M1221 3385l2-5M1196 3383l5 0 5-1 5 1 5 1 5 1 4 2M1187 3366l-3-4-2-5-3-4-2-4M1187 3341l-5 2M1193 3401l3-3 1-5 0-5-1-5-2-5 0-5-4-3-3-4 0-5 2-5 1-5-2-5-1-5-2-4M1229 3415l-1 5M1228 3420l-4 3M1214 3390l2 4 3 4 2 5 4 3 2 4 2 5-1 5-3 5M1225 3371l0-5-3-4-2-5M1223 3386l0-5 0-5 2-5 2-4 1-5 3-4M1243 3371l-1-5-3-4-2-5M1248 3362l5 1M1193 3401l4-2 4-3 4-2 5-2 4-2 5-1 4-3 3-4 4-3 5-3 4-2 4-3 1-5 4-4 2-4M1198 3410l-1 5-2 5-3 3-4 4M1195 3424l-5 2-3 4-1 5M1195 3406l3 4 1 5-1 5-3 4-4 3-3 4-4 3M1219 3441l-4 4-1 5M1214 3449l-4 4M1193 3401l2 5 5 2 4 3 3 3 3 5 2 4 3 4 3 4 1 5 0 5-2 5-3 3-5 2M1181 3417l-1 5 2 4 2 5 3 4 5 2 5 1M1165 3410l-5 0-5 0M1176 3420l-4-2-4-3-3-5-2-4-2-5M1165 3429l-5 1-4 3M1193 3401l-2 5-4 4-4 3-2 4-5 3-4 2-4 3-3 4 0 5-4 4-4 3M1188 3426l3 3 3 4 1 5 0 5M1167 3429l-3-3M1190 3411l0 5-1 5-1 5-3 4-4 3-5 0-4-3-5-1-4-3-3-3M1196 3444l-5 2M1198 3435l0 5-2 4-4 4-5 1M1205 3434l-1-5M1202 3438l3-4 2-4 4-3M1193 3401l-1 5-2 5 0 5-3 4 1 5 1 5 4 3 5 2 4 3 3 4 5 1 5 0 4-1M1172 3395l-3-4-3-4-4-3-3-3M1173 3390l3-3 5-3 4-1 5-2 4-3M1173 3375l-3-4M1173 3405l0-5-1-5 1-5 1-5-1-5 0-5-2-4-2-5M1153 3389l0-5 1-5M1149 3386l-2-4 0-5M1193 3401l-5 1-5 1-5 2-5 0-4 2-5-2-4-3-3-4-2-4-2-5-4-3-5-1-5-2M1335 3421l-1-5 1-5 0-5 2-4 5-3M1310 3422l-3 4-4 2M1308 3427l-4 3M1344 3424l-5-1-4-2-5 1-5-2-5 0-5 0-5 2-2 5-5 2M1341 3405l-3-4-2-4 1-5M1340 3400l-1-5-1-5 0-5 3-4M1344 3409l-3-4-1-5 0-5 1-5 0-5 0-5 3-4M1359 3442l-5-2-4-2-3-4-1-5-2-5 1-5-1-5 0-5 1-5 1-5 4-3 1-5 2-4 4-4 4-2 5 0M1349 3443l-4 3-2 5 1 4 2 5 3 4M1343 3456l2 4 1 5 0 5M1342 3461l-2 4-2 5M1354 3441l-5 2-3 4-3 4 0 5-1 5 0 5-1 5 0 5M1350 3456l4 4 3 4M1358 3462l5 1M1349 3442l-2 5 1 5 2 4 3 4 5 2 5-1 5 0M1337 3469l-1 5-3 4M1345 3446l-1 4-3 5-1 4-3 5 0 5 3 4 3 4M1335 3457l-5 0-5-1-3-3-3-5M1333 3461l5 2 3 4 2 4 1 5M1325 3467l-5 1-4 3-4 3M1317 3483l0 5M1339 3453l-4 4-2 4-4 3-4 3-4 4-3 3-2 5 1 4 0 5M1320 3465l-2 5-4 3-5 2M1329 3464l-4 2-5-1-5-1-5-1-5-1-5 1M1322 3474l-5 1-4 4M1324 3465l-1 5-1 4-1 5 0 5M1359 3442l-5-1-5 1-4 4-3 3-3 4-2 5-4 3-4 3-5 1-4 2-5 2-5 1-4 1-5 0-4 4M1370 3410l5-2 3-4 1-5 1-5-1-5M1366 3404l-4 3-1 5M1361 3402l-3 4M1358 3399l-4 3M1371 3405l-5-1-5-2-3-3-3-5M1358 3399l0-5M1368 3401l-5-1-5-1-4-3M1359 3442l1-5-1-5 3-5 3-3 0-5 2-5 3-4 1-5-3-4-2-5-2-4-1-5-2-5-1-5M1367 3410l-5-1-5-2-5-1-5 0-4 2-5 0M1356 3395l-5 1-5 1M1352 3391l-4 3M1364 3400l-5-1-3-4-4-4-4-2M1357 3388l-5-1-5-2M1359 3442l2-5 3-4 1-5 3-4 1-5 0-5-2-4-1-5-2-5-3-4-1-5-3-3-5-3-5 0-4 1M1363 3439l1-5-1-5 1-5 2-4 0-5-1-5-1-5 2-5M1378 3435l5-1 4-2 5-1M1373 3436l5-1 3-3 4-4 4-2 2-5M1391 3451l0 5M1382 3440l2 4 4 3 3 4 5 2M1384 3449l2 5 2 4 1 5M1388 3458l5 3 1 5M1359 3442l4-3 5-1 5-2 5 1 4 3 2 4 0 5 2 5 2 4 4 4 5 1M1381 3446l4 2 3 5 4 2 4 3M1400 3448l3 4M1366 3448l5-2 5 0 5 0 5 1 4 1 5 0 5 0 5 1 5 2M1375 3476l1 5 2 4 0 5 2 5M1355 3502l-4-3M1359 3442l4 2 3 4 2 5 2 4 3 4 1 5 1 5 0 5 0 5-2 4-3 5-4 2-3 5-3 3-5 2-3 3M1370 3414l4-2 5-1 4-3M1366 3411l-5 0-5-2M1380 3431l-2-5-3-4-4-3-1-5-4-3-4-3-2-5-4-3M1359 3442l5 1 5 1 5-1 3-3 2-4 1-5-2-5-1-5 2-5 2-4 3-5 2-4 4-3 2-4 2-5M1359 3442l3 4 0 5 2 4 3 4 4 3 3 4 4 3 2 4 2 5 2 5 0 5-1 5 0 5-1 4M1375 3454l4-2 5 1 5-1M1373 3459l2-5 3-4 1-5-1-5-1-5 0-5M1392 3460l5 2 5 0 5-2 5-1 4-2 5-2M1397 3461l4-4 3-3 2-5 4-4M1359 3442l0 5 3 4 2 4 4 3 5 1 5-2 5-1 5 2 4 2 5 1 5-2 5-1 5 1 4 2 4 3 3 5M1353 3484l4 3M1346 3462l1 5-2 5 2 5 2 4 4 3 4 4 3 3M1336 3460l0-5 1-5 0-5M1329 3447l2-4M1337 3465l-1-5-2-4-1-5-4-4-5-1-3-3M1311 3464l-5 1-5 0-4 2M1305 3467l2 5M1307 3462l-2 5 1 5M1359 3442l-3 3-3 5 0 5-3 4-4 3-4 3-5 0-5 2-3 4-5 1-5-2-3-4-5-2-4-2-5 0-5-2M1403 3399l-1 5 2 4-1 5 1 5-1 5M1412 3417l-4 3M1415 3408l-3 4 0 5 2 5M1417 3412l5 0 5 1M1417 3417l5-1M1418 3422l4 2M1399 3396l4 3 4 2 5 3 3 4 2 4 0 5 1 5-1 5M1401 3400l5-1 4-2 3-5M1391 3415l-1 5M1402 3405l-4 3-3 4-4 3-5 2M1399 3396l2 4 1 5-1 5-4 4-1 4 2 5 2 5M1399 3396l-1 5-2 4-2 5 1 5 3 4 2 4 2 5 5 2M1395 3393l0-5 2-5 1-5 1-5M1399 3396l-4-3-2-4 0-5-1-5-1-5 1-5 0-5-2-4M1396 3392l-5 0-5 2-4 3-4 2M1399 3384l1-5M1395 3387l4-3 2-5-1-5M1387 3375l1-5M1383 3371l5-3M1399 3396l-3-4-1-5-2-4-3-4-3-4-4-4 0-5M1376 3379l-4 3M1399 3396l-4-3-5-1-4-3-2-5-4-3-4-2-4-4-4-2M1396 3377l5-2M1395 3382l1-5 2-5M1394 3368l-2-5M1397 3377l-1-4-2-5-1-5M1399 3396l-3-4-1-5 0-5 2-5 2-4 4-4 1-5M1399 3396l3-4 0-5 0-5 2-5 0-5-3-4 0-5M1413 3401l-1 5M1404 3397l5 2 4 2 4 3M1413 3408l-4 3-2 5M1399 3396l5 1 4 3 3 3 2 5 1 5-1 5M1409 3396l1 5 4 4 2 4M1414 3395l5 1 4-2 3-4M1404 3395l5 1 5-1 4-3 2-4 5-2M1413 3395l5 0 5 2 5-1M1409 3393l4 2 5 2 4 3 3 3M1415 3375l-1-5 1-5M1399 3396l5-1 5-2 2-4 1-5 3-4 0-5 3-4 3-4" fill="none" stroke="#43dc2c" stroke-width="1.2" opacity=".6"/>
<g filter="url(#blur1)">
<g fill="none" stroke-linecap="round"><path d="M1203 3365h0M1059 3340h0M1419 3410h0M968 3081h0M1414 3364h0M1240 3177h0M1290 3259h0M1200 3227h0M1499 3304h0M1170 3386h0M1510 3100h0M1338 3148h0M1053 3206h0M1258 3119h0M1501 3308h0M1179 3452h0M1048 3355h0" stroke="#27b81a" stroke-width="2.3" opacity="0.58"/><path d="M1563 3046h0M1355 3201h0M1166 3402h0M1172 3075h0M1012 3234h0M1565 3394h0M1162 3331h0M1423 3147h0M1561 3407h0M1077 3227h0M1200 3165h0M1401 3119h0M1531 3063h0M981 3097h0M998 3466h0M1448 3384h0M1543 3256h0M1069 3354h0M1480 3323h0" stroke="#2fd31f" stroke-width="2.3" opacity="0.58"/><path d="M1347 3367h0M1550 3246h0M1193 3210h0M998 3045h0M1129 3179h0M1547 3252h0M1131 3102h0M1089 3275h0M1346 3324h0M1570 3210h0M1551 3444h0M1121 3064h0M1367 3409h0M1569 3472h0M1557 3179h0" stroke="#45e636" stroke-width="2.3" opacity="0.58"/><path d="M1457 3115h0M1185 3396h0M1265 3158h0M1171 3056h0M1372 3119h0" stroke="#27b81a" stroke-width="3.4" opacity="0.58"/><path d="M1198 3406h0M1297 3319h0M1349 3300h0M1105 3285h0M1555 3415h0M1030 3352h0M1115 3081h0M1387 3405h0M1093 3073h0" stroke="#2fd31f" stroke-width="3.4" opacity="0.58"/><path d="M1192 3207h0M1241 3057h0M1463 3158h0M1329 3171h0" stroke="#45e636" stroke-width="3.4" opacity="0.58"/><path d="M1454 3274h0M1182 3470h0M1112 3266h0M1161 3411h0M1384 3074h0M1605 3059h0M1120 3431h0M970 3327h0" stroke="#27b81a" stroke-width="4.5" opacity="0.78"/><path d="M1135 3256h0M1215 3395h0M1519 3101h0M1013 3226h0M1164 3208h0" stroke="#2fd31f" stroke-width="4.5" opacity="0.78"/><path d="M1214 3417h0M1247 3324h0M1353 3175h0M1247 3141h0M1141 3219h0M1100 3465h0M1465 3071h0M1530 3334h0M1537 3343h0" stroke="#45e636" stroke-width="4.5" opacity="0.78"/><path d="M1236 3207h0M1389 3472h0M1568 3456h0M1161 3160h0M1374 3470h0M1233 3475h0" stroke="#27b81a" stroke-width="5.6" opacity="0.78"/><path d="M1518 3371h0M1364 3255h0M1156 3240h0" stroke="#2fd31f" stroke-width="5.6" opacity="0.78"/><path d="M1608 3216h0M1370 3409h0" stroke="#45e636" stroke-width="5.6" opacity="0.78"/><path d="M1521 3256h0M1513 3056h0M1570 3076h0" stroke="#27b81a" stroke-width="6.7" opacity="0.78"/><path d="M1243 3085h0M1540 3260h0" stroke="#2fd31f" stroke-width="6.7" opacity="0.78"/><path d="M1125 3107h0M1365 3115h0M1147 3206h0" stroke="#45e636" stroke-width="6.7" opacity="0.78"/></g>
<circle cx="977.6" cy="3146.2" r="7.5" fill="#35dc27"/>
<circle cx="1224.2" cy="3267.8" r="5" fill="#35dc27"/>
<circle cx="1083.7" cy="3424.4" r="6" fill="#35dc27"/>
<circle cx="1599.8" cy="3312.5" r="6" fill="#35dc27"/>
<circle cx="1304.4" cy="3054.5" r="5" fill="#35dc27"/>
<circle cx="1387.6" cy="3060.2" r="4" fill="#35dc27"/>
<circle cx="1003.4" cy="3390" r="5" fill="#35dc27"/>
<circle cx="1106.6" cy="3410" r="4" fill="#35dc27"/>
<circle cx="1315.9" cy="3260.9" r="5" fill="#35dc27"/>
<circle cx="1482.2" cy="3410" r="3" fill="#35dc27"/>
</g>
</g>
<g clip-path="url(#cBR)">
<rect x="1627" y="3040" width="652" height="442" fill="#041003"/>
<circle cx="1731.4" cy="3319.9" r="104.5" fill="url(#haze)" opacity="0.7"/><circle cx="1702.8" cy="3434.2" r="66" fill="url(#haze)" opacity="0.6"/><circle cx="1971.4" cy="3102.8" r="66" fill="url(#haze)" opacity="0.7"/><circle cx="1994.2" cy="3051.4" r="60.5" fill="url(#haze)" opacity="0.4"/><circle cx="2199.9" cy="3354.2" r="88" fill="url(#haze)" opacity="0.7"/><circle cx="2045.6" cy="3399.9" r="60.5" fill="url(#haze)" opacity="0.6"/><circle cx="2159.9" cy="3142.8" r="82.5" fill="url(#haze)" opacity="0.4"/><circle cx="2245.6" cy="3074.3" r="55" fill="url(#haze)" opacity="0.3"/><circle cx="1691.4" cy="3108.6" r="60.5" fill="url(#haze)" opacity="0.3"/><circle cx="1805.7" cy="3148.5" r="44" fill="url(#haze)" opacity="0.3"/><circle cx="2257" cy="3251.4" r="44" fill="url(#haze)" opacity="0.3"/><circle cx="1931.4" cy="3354.2" r="44" fill="url(#haze)" opacity="0.3"/><circle cx="2102.8" cy="3502.8" r="66" fill="url(#haze)" opacity="0.4"/><circle cx="1845.7" cy="3274.2" r="49.5" fill="url(#haze)" opacity="0.2"/><circle cx="2274.2" cy="3457.1" r="44" fill="url(#haze)" opacity="0.5"/><circle cx="1645.7" cy="3240" r="38.5" fill="url(#haze)" opacity="0.3"/>
<g filter="url(#nmul)"><rect x="1600" y="3010" width="710" height="500" fill="#2abc1a" opacity=".3"/><circle cx="1731.4" cy="3319.9" r="117.8" fill="url(#hub)" opacity="0.7"/><circle cx="1702.8" cy="3434.2" r="74.4" fill="url(#hub)" opacity="0.6"/><circle cx="1971.4" cy="3102.8" r="74.4" fill="url(#hub)" opacity="0.7"/><circle cx="1994.2" cy="3051.4" r="68.2" fill="url(#hub)" opacity="0.4"/><circle cx="2199.9" cy="3354.2" r="99.2" fill="url(#hub)" opacity="0.7"/><circle cx="2045.6" cy="3399.9" r="68.2" fill="url(#hub)" opacity="0.6"/><circle cx="2159.9" cy="3142.8" r="93" fill="url(#hub)" opacity="0.4"/><circle cx="2245.6" cy="3074.3" r="62" fill="url(#hub)" opacity="0.3"/><circle cx="1691.4" cy="3108.6" r="68.2" fill="url(#hub)" opacity="0.3"/><circle cx="1805.7" cy="3148.5" r="49.6" fill="url(#hub)" opacity="0.3"/><circle cx="2257" cy="3251.4" r="49.6" fill="url(#hub)" opacity="0.3"/><circle cx="1931.4" cy="3354.2" r="49.6" fill="url(#hub)" opacity="0.3"/><circle cx="2102.8" cy="3502.8" r="74.4" fill="url(#hub)" opacity="0.4"/><circle cx="1845.7" cy="3274.2" r="55.8" fill="url(#hub)" opacity="0.2"/><circle cx="2274.2" cy="3457.1" r="49.6" fill="url(#hub)" opacity="0.5"/><circle cx="1645.7" cy="3240" r="43.4" fill="url(#hub)" opacity="0.3"/></g>
<path d="M1747 3304l5 4 4 4 6 0 6 3 5 3 5 4 3 4 1 6 2 6M1765 3304l4 5 3 5 5 4 3 5 3 5 1 6 2 5M1771 3304l5 3 3 5 5 4 5 4 5 2M1809 3292l4-5M1742 3306l5-2 6 0 6 1 6-1 6 0 6-2 6-1 5-3 5-3 5-4 5-1 6 2 5 3M1780 3300l-1-6-5-4-5-3-6 1-6 0M1796 3291l0-6 3-5 3-5M1800 3281l1-6 2-6M1800 3275l5-4M1769 3305l6-2 5-3 6-2 4-4 6-3 3-4 1-6 0-6 0-6M1776 3325l-3 5 0 6-3 6-2 5 2 6 1 6 3 5M1764 3337l-3 5-3 6-1 5 0 6M1759 3341l-5-1-6-2M1748 3342l-4 4M1775 3307l1 6 1 6-1 6-3 6-4 4-5 2-5 4-6 1-5 0-5-4M1792 3282l-2-5-4-5-2-5M1796 3267l-3-6M1798 3272l-2-5 1-6-1-6M1810 3269l3 5M1731 3320l5-4 4-5 2-5 4-4 6-1 5 2 6 1 6 1 6 2 6 0 5-3 4-4 2-6 1-6-1-6 2-5 4-5 6-2 6-1 5-3 5-4M1754 3320l-4 4-5 4-6 1-6 0M1752 3342l5 4M1746 3311l5 3 3 6 1 5 1 6-2 6-2 5 1 6-2 6M1763 3283l-1-6-3-6-4-4-1-6M1780 3268l2-6M1756 3304l-2-6 2-6 2-5 5-4 3-6 3-5 5-4 6 0 5 2 6 1M1778 3313l2 6 2 6M1779 3302l1 6-2 5-3 5-2 6-2 6 1 6M1785 3302l5-4 4-4 4-4 2-6 2-6M1791 3305l6-1 6 1 6 0M1731 3320l6-2 5-3 4-4 6-3 4-4 6-2 6 1 5-2 6 1 6 0 6 3 5 2 5 3 4 5 4 4 3 5M1746 3329l0 6-1 6-2 6-2 5-2 6-4 4-3 5 1 6-3 6 1 6M1750 3334l5 3 6 1 5 3 5 3 4 5 5 3 6 1M1759 3355l1 6-1 6 3 5 1 6-2 6-1 6-5 3-6 1M1743 3324l3 5 4 5 4 4 3 5 2 6 0 6-1 6 1 6 2 5-2 6-3 5-5 4-6 1-5 3-4 4M1750 3339l3 5 1 6 0 6-2 6-3 5 0 6-4 5-2 6 1 6M1745 3384l0 6-3 6-2 5M1750 3333l0 6 1 6-2 6 0 6 0 6 2 5 0 6-2 6-4 4-1 6 0 6-2 6-3 5-6 3M1716 3358l3-5 4-4M1744 3366l-6-1-6-2-6 0-5-2-5-3-6-2-6 1M1724 3386l1 6 4 5 5 3M1738 3376l-5 3-4 5-5 2-4 5-1 6 1 6 4 4M1726 3374l-5 4-3 5M1720 3372l-4 4-3 5M1735 3381l-5-2-4-5-6-2-5-2-5-4-4-5M1730 3384l-6-1-4-4-2-6-2-5-4-5M1699 3389l-6 3M1731 3320l6 3 6 1 4 4 3 5 1 6 2 6 0 6-1 6-4 4-4 5-4 4-2 6-3 5-5 3-3 5-6 3-5 2-6 0-6-2-5-3-4-5M1763 3378l-3 6 0 6 2 5M1752 3365l5 3 4 4 2 6 2 6-1 6-2 6 1 5-1 6M1731 3320l3 5 1 6 4 5 4 4 5 3 3 6 4 4 0 6-3 6-2 5 0 6 0 6-3 5-5 4-6 1-6 2-3 5-3 5-4 4M1745 3330l3 5 2 5 0 6 3 6 1 6-2 5 1 6-1 6M1755 3336l6-2 5-2 6-1 5-3 6 0 6 0 6-1 6 0M1761 3346l2 6 0 6 1 6-2 6-3 5-4 4M1767 3363l-4 5-5 4-4 4-5 3M1734 3325l6 2 5 3 5 4 5 2 4 5 2 5 3 6 2 5 1 6-3 6-2 5-4 4-6 2-5 4M1743 3332l5-4 6-2 5-2 6-2 3-5 1-6 1-6 1-6-2-6-4-4-3-6M1749 3330l0-6 2-6 2-5 4-4 5-4 6-1 6 0 6-2 5-1 6-3M1786 3347l5-4 6-1 6 0 6 1M1803 3351l5-4 2-6M1809 3352l5-4M1737 3330l6 2 6-2 6 0 5 2 4 5 5 4 5 2 6 2 6 2 6 1 5 2 6 1 6 1 6-1M1784 3345l1-6 3-5M1792 3337l6 0M1739 3336l5 2 6 0 6-1 6 2 5 4 5 3 6 0 6-1 5-3 3-5 6-2M1763 3341l1-5 0-6 2-6 1-6 4-5 3-5M1768 3339l5 2 6 2 5 3 6 1 5 3 4 5 4 4M1774 3338l5 4 5 3 5 2 6 1 6-3 4-5 6-1M1755 3351l4-5 4-5 5-2 6-1 5-3 4-5 0-6 2-5 0-6-3-5-2-6 1-6M1774 3365l6 0 5-3 6-1 6-1 5-2 5-3M1782 3374l-4 4-3 5-6 3-5 2M1783 3379l-4 6 0 6-3 5 1 6M1779 3368l3 6 1 5-3 6 0 6 4 5 5 3 6 1 5 4M1781 3396l-4 5-3 5M1783 3373l0 6 0 6-2 5 0 6 1 6 3 5M1799 3373l4 5 3 5 2 6M1810 3359l-4-5M1814 3354l6 1M1731 3320l3 5 3 5 2 6 4 4 2 6 5 4 5 1 6 2 6 3 3 4 4 5 5 3 4 5 5 3 6 0 5-3 5-4 3-5 3-5 4-5 3-5M1744 3343l5-4 6-1 5-3M1756 3342l5-2 6-2M1730 3332l4 4 5 5 5 2 6 0 6-1 6 2 5 2M1716 3361l5 4 3 5 5 3 6 1 6 2M1715 3367l-1 6 1 6-2 5 0 6M1696 3379l1 6M1717 3343l0 6 1 6-2 6-1 6-3 5-5 3-6 1-5 3-6 3M1713 3348l-6-2-6 0-6 1-6 0-6 0-5-3-6-1-4-5-4-4M1728 3347l6 0 5-3 6-1M1738 3341l0-6M1712 3354l6 0 5-3 5-4 5-3 5-3 6-2 4-5M1712 3371l6 2 5 4 3 5 2 5M1709 3388l-2 6M1712 3360l-1 6 1 5 2 6-1 6-4 5-5 4M1715 3371l4 5 4 4 2 6 4 4 2 6M1710 3388l-6 1-5 2M1731 3320l0 6-1 6-4 4-5 3-4 4-4 5-1 6 0 6 3 5 0 6-1 6-1 6-3 5-2 6-2 5-3 5M1714 3347l6-1 6-1 5-3M1724 3355l4-4M1702 3322l-1 6 2 5 4 4 5 4 2 6 5 4 5 4 5 2 6 2M1685 3321l-4 3-3 6-3 5M1696 3325l-5-2-6-2-4-4-4-5-3-5-4-5M1688 3313l-6 0-6-2-5 1-6 3-5 3M1687 3307l-2-5 1-6 0-6 3-5 4-5M1682 3291l-6 2-6-2M1676 3290l-5 3M1690 3325l0-6-2-6-1-6 0-6-2-5-3-5-6-1-6-1M1673 3325l-4 5-3 5-4 5M1684 3326l-5-1-6 0-6-3-4-4-5-4-4-4-6-1M1663 3351l5 2 4 5M1663 3345l0 6 3 5 0 6M1652 3350l-5-2M1731 3320l-6 1-6-1-5 0-6 0-6 2-6 3-6 0-6 1-5 2-4 4-3 6-4 4-5 3-5 4-6 1-5 2-6 0M1673 3293l-4-4-4-4-6-2M1731 3320l-6 0-6 0-5-2-5-4-5-3-5-4-6-1-4-4-5-3-6-2-5-4-5-3-6 0-6 0-6 2M1701 3304l-4 4-5 4-5 2-6 0-6 2M1689 3300l-4 4-1 6-3 5-3 5M1677 3298l-2-6-4-4M1723 3312l-5-3-6-1-6-2-5-2-6-2-6-2-6-1-6-1-5-3-6-2-5-1M1719 3283l5 2 6-1 6-1M1724 3281l3-5 3-5M1710 3292l4-5 5-4 5-2 6-2 3-5 1-6M1713 3276l5 4 6 1 6-1 6-1 6 1M1716 3271l6 1 6 1 6-2M1725 3256l4 4M1709 3280l4-4 3-5 3-5 2-6 4-4 4-5 5-3M1705 3265l-2-6 2-6M1701 3260l-6 1M1711 3275l-3-6-3-4-4-5-6-2-5-3M1725 3263l5 3 6 1 6 1 5 4 5 3M1730 3260l5 4 3 5 6 2M1745 3242l6 1M1731 3320l-5-3-3-5-3-5-2-6-4-4-4-5-1-6 0-6 2-5 4-5 5-3 5-4 5-3 4-4 3-5 5-3 3-6 3-5M1747 3304l5 4 6 2 6 0 5-1M1733 3314l5-2 5-4 4-4 6-1 6-3 6 0 6 1 6 1M1749 3270l5-4 2-6 3-5M1731 3320l2-6 4-5 2-5 2-6 3-5 2-5 2-6 0-6 1-6-1-6 0-6 0-6 1-6 4-4M1716 3285l1-6-2-5 0-6-1-6-4-5M1706 3280l-6-1-6 0M1733 3302l-5-4-3-4-5-5-4-4-4-4-6-1-6 2-6-1-6-2-5-3M1743 3264l-3-6-4-4-5-3-6 0M1735 3273l5-4 3-5 5-3 6-2 6-2 3-5 3-5M1729 3250l0-6-2-6 0-6M1744 3232l4-4M1731 3320l0-6 2-6 0-6 1-6-1-6 1-6 1-5 0-6-3-6-2-5 0-6-1-6 2-5 4-5 4-5 5-3 6-2M1668 3432l-2 5-2 6M1659 3426l2-6M1697 3432l-5 2-6 1-6-1-6-2-6 0-5-2-4-4-4-5M1678 3411l5-2M1679 3405l-5-4M1676 3422l-1-6 3-5 1-6-1-6M1660 3414l-5 2M1703 3434l-6-2-5-3-6-1-6-1-4-5-5-3-6-2-5-3-2-6M1680 3415l-6 0-6-2M1684 3420l-4-5-5-3-6 0-5-3M1680 3415l-6-1-5 1-6 1M1667 3406l3-5M1669 3411l-2-5-4-4M1703 3434l-4-5-5-2-5-4-5-3-4-5-5-3-6-1-6 2-6 0M1700 3423l5-3 3-6 5-3 2-6 4-4 5-3 6-3M1703 3434l-1-6-2-5-1-6 0-6-1-6 0-6 1-6-2-6 2-6 0-6M1708 3424l6-2 4-4 2-6-2-6-1-6 1-6M1710 3406l-3-5 1-6-1-6-4-5M1712 3389l-3-6 1-6M1707 3430l1-6 0-6 2-6 0-6 1-5 1-6 0-6-4-5-3-5-6-3M1712 3420l-4-4-4-5-3-6M1714 3414l5-4 5-3M1711 3425l1-5 2-6 3-5 3-6 0-6-1-5M1714 3400l-4 4M1726 3417l1-6-3-6-4-4-6-1-6-1-6-2M1750 3430l6-2M1732 3415l4 5 4 4 6 3 4 3 6 3M1703 3434l4-4 4-5 4-4 5-3 6-1 6-2 6 1 6-2 6 0 5-3 6-2 5-4M1715 3409l6-3 4-4M1712 3403l5-4 4-4M1715 3415l0-6-3-6-3-4-5-4M1719 3410l-1-5 0-6-1-6M1727 3402l-1-6 1-6M1703 3434l1-6 3-5 3-5 5-3 4-5 5-3 3-5 4-5 3-5M1712 3430l-3-5-1-6-1-6 0-6 2-5M1723 3416l-5-3-3-5M1709 3434l3-4 6-3 4-5 1-6 1-6 3-5 1-6M1738 3431l4-5 6-2 5-3 6-2 5-3M1755 3433l2 6 2 6M1750 3431l5 2 4 5 0 6M1756 3431l6 1 5 3M1703 3434l6 0 6 0 5-2 6-2 6 0 6 1 6 0 6 0 6 0 5 3 6 0 6 2M1725 3441l5-3 5-4 4-4 4-5 2-5M1748 3446l5-3M1737 3444l5 2 6 0 6-1 6-2M1703 3434l5 3 6 0 6 0 5 4 6 1 6 2 5 3 4 4 5 3 4 4 4 5 2 5 1 6M1708 3463l-4 5-5 2-6 2M1703 3446l3 5 2 6 0 6-3 5-3 6-3 5-2 5M1707 3461l-5 3-5 4M1709 3456l-2 5-3 6-1 5M1716 3465l-6 2-5 0-6-1M1707 3480l2 5M1703 3434l2 6-2 6 2 5 4 5 5 3 2 6-1 6-3 5-5 4-5 3M1734 3443l4-4 5-3M1741 3434l5-4M1703 3434l3 5 5 4 6 2 6 0 5 1 6-3 4-4 3-5 3-5M1697 3450l-2 6-3 5-4 4-2 6M1690 3459l2 6-2 6-3 5M1681 3467l-5-1M1704 3440l-4 5-3 5-2 6-5 3-4 5-5 3-5 3-4 4M1712 3454l5-3 5-4M1717 3464l6 2M1703 3446l4 3 5 5 1 5 4 5 6 2M1675 3454l-5 1-6 0M1670 3457l-6 0M1703 3434l1 6-1 6-5 4-5 2-6-1-6 0-6 3-5 3-6 0-6 1M1669 3456l-5 3M1696 3450l-5-2-6 1-5 3-6 1-5 3-4 5M1680 3465l-5-4-5-2-6 1M1691 3461l-5 3-6 1-6 0-6 0-6 0-6-2M1695 3484l-5 2-4 5M1703 3434l-4 5 0 6-3 5-2 6-3 5 0 6 3 5 2 6-1 6-3 5-3 5-1 6M2003 3090l6-3 5-2 6-1 6-1M2009 3088l6-1 6 0 5-2M1992 3110l1-6 3-5 3-5 4-4 6-2 5-3 4-5 5-4M2018 3099l-1-6 3-5M1998 3109l6 1 5-2 5-4 4-5 4-4 3-5 3-6M2015 3105l6 2 5 2 6-1 6-1M2009 3105l6 0 5 2 6 2 6-1 6 2 4 5M2019 3093l-4-4-4-5M2015 3105l1-6 3-6 2-5 2-6 2-5M2031 3098l6-2 6-2M2037 3099l5-3M1971 3103l5 4 4 4 6 1 6-2 6-1 6-2 5-2 6 0 6-2 4-4 6-1 6 1 6 1 6 2M1978 3119l-4 5-4 4-3 5-3 6M1998 3131l2 6M1987 3127l6 1 5 3 6 2M1987 3137l3 6M1990 3132l-3 5-1 6M1971 3103l1 6 2 5 4 5 4 5 5 3 3 5 3 5 0 6-1 6M1969 3123l-6 2-5 3M1964 3127l-5-4-5-3M1976 3114l-3 5-4 4-5 4-3 4-1 6-3 6M1978 3125l6 2 6 2 6 1 5 2 6-1M1978 3137l-6 2-6 3-5 1M1968 3152l-6 0M1977 3120l1 5 0 6 0 6-4 6-4 4-2 5-4 5M1981 3124l6-1 5-3 4-4 5-3M1998 3147l5 3M1997 3152l-6 0M1971 3103l4 5 1 6 1 6 4 4 3 5 5 4 5 3 3 5 1 6-1 5-1 6M1963 3111l5 3 5 2 6-1 6-2 6-1 6 0 6 0M1966 3129l0 6 3 5M1957 3121l5 3 4 5 4 4 5 4 4 4M1952 3125l-6 0-6-1-5 2M1938 3136l-4-4-4-5M1971 3103l-4 3-4 5-4 5-2 5-5 4-5 3-5 4-4 4-2 6 0 6 2 5M1954 3118l-1 5-2 6 1 6 2 6M1944 3123l-6-1-6-2M1966 3105l-3 5-3 5-6 3-5 2-5 3-6 1-5 4M1939 3117l-3 5-4 4M1928 3121l-2 6M1971 3103l-5 2-5 3-5 4-6 1-5 4-6 0-5 2-6 2-5 4M1953 3065l2-6M1953 3088l-1-6 0-6 2-5-1-6 1-6M1926 3078l0-6M1922 3074l1-6M1932 3081l-6-3-4-4-5-3M1971 3103l-5-3-4-4-4-5-5-3-5-3-6 1-6-1-4-4-5-4-2-6-1-6-4-5M1954 3107l-3-5-3-5-4-5-1-6-3-5M1932 3109l-3 6-1 6-2 5M1960 3106l-6 1-6-2-6 0-5 3-5 1-6 2-6 1-6 0M1944 3113l1 6-2 6 1 6 2 5 1 6 2 6M1948 3109l-4 4-5 3-2 6-1 6 0 6 3 5 2 6 2 5M1918 3082l-4-4-1-6M1913 3078l-5 4M1971 3103l-6 0-5 3-6 2-6 1-5-3-6-2-4-4-3-5-3-5-4-4-5-4-5-4-5-2M1943 3121l0 6-1 6M1932 3127l-2 5M1946 3110l-1 6-2 5-5 4-6 2-6 0M1941 3113l-6 0-5 3-3 5-5 3-6 0M1935 3127l1 6M1930 3126l5 1 6 3 5 3M1922 3141l-5 4M1971 3103l-5-3-6-1-5 3-5 3-4 5-5 3-5 2-4 5-2 6-4 4-3 5-1 6 1 6M1940 3062l-4 5M1970 3097l-1-6-2-5-5-4-5-3-5-4-2-6-5-3-5-4-5-3-4-4M1950 3085l3-6 3-5 1-6 1-6 4-4M1945 3082l-4 4-5 3-5 4-2 5-3 5M1927 3069l-6-2M1943 3076l-6-1-6-2-4-4-4-5M1940 3059l-6-1-6 0M1971 3103l-1-6-4-5-5-2-6-1-5-4-5-3-2-6 0-6 0-6-3-5-4-5-2-5 0-6M1992 3063l3 6 5 3M2003 3060l0-6M1971 3103l3-6-1-6 2-5 2-6 2-5 3-6 4-4 6-2 6-1 5-2 6-2M1976 3092l6 2 5 3 4 4 5 4 3 5M1975 3087l-5-4-6-2-6 1-5-1M1972 3082l-6 2-6 0-6 0M1967 3077l-4 5-6 1M1975 3098l1-6-1-5-3-5-5-5-6-1-6 0-6 1M1966 3074l-5-3-6 0-6-1M1956 3060l-6 0M1982 3082l-6-2-6-2-4-4-4-4-4-5-2-5 0-6 3-5M1974 3054l-5-3M1969 3051l-4 5M1981 3064l-5-4-2-6-5-3-4-5M1998 3052l6 3M1971 3103l4-5 4-5 1-5 2-6-1-6 0-6 0-6 2-5 4-5 5-2 6 0 6 2 6 0M1994 3068l4 5 2 5M1995 3086l-2 6M1997 3057l-3 6 0 5 0 6 0 6 1 6 0 6M2021 3072l6-2M2005 3066l6 1 5 3 5 2 6 2M1994 3051l3 6 4 4 4 5 3 5 5 3 3 5 4 5 5 3 2 6 0 6M2014 3091l-5 4M1998 3075l5 2 5 4 3 5 3 5 3 5M2018 3082l3 5M2001 3080l6 2 5-1 6 1 6-3M1994 3051l1 6 3 6-1 6 1 6 3 5 4 4 4 4 4 5 5 4 5 3 5 3M1978 3064l-5 4-4 4-5 3M1984 3066l-6-2-5-2-5-5-3-5-2-5M1994 3051l-2 6-4 4-4 5-5 3-2 6-5 3-6 0-6-1-6-3-3-5M1981 3061l-6 3-5 2M1983 3056l-2 5-2 6-3 6-4 4-2 6M1994 3051l-5 2-6 3-6 0-6 1-5 2-6 0-6-3-6-2M1976 3053l-3-5-3-5 0-6M1994 3051l-6 0-6 2-6 0-5 2-6 1-6 0-6 1-6 2-5 3M1987 3042l3-6 4-3 4-5 1-6-1-6 1-6M1979 3014l-5-4M1994 3051l-4-4-3-5-2-6-3-5-3-5 1-6-1-6-1-6 2-6M1968 3048l-6-3-6 0-5-2-6-1M1961 3058l1 6-2 6M1979 3044l-6 1-5 3-3 5-4 5-4 4-3 5M1951 3025l0-6M1952 3031l-1-6-2-5M1994 3051l-4-4-6-2-5-1-6-3-5-2-6-2-5-4-5-2-5-3-4-5M1997 3022l-1-5-4-5-5-3M1998 3017l-5-4-6 0M1998 3034l1-6-2-6 1-5 3-6 2-5 4-5M2005 3017l-5-3-5-4-5-2-6 0M2012 3002l1-6-3-6M1994 3051l2-5 2-6 0-6 2-6 3-5 2-6 3-4 2-6 2-5 2-6-1-6M1999 3048l6 1 6 0 4 4 3 5 5 4 5 2M2020 3052l6-2 4-5 5-2M1994 3051l5-3 6-2 6-1 5 3 4 4 6 3 5 3 5 3 4 5 2 5 2 6M2015 3068l5 4 5 2 6 0M2015 3074l1 6 4 5M2015 3062l0 6 0 6-1 6 2 6 4 4 6 2M1994 3051l5 3 5 4 6 1 5 3 3 6 5 4 4 4 5 3 5 3 4 4 4 5 4 5M2005 3063l4 5 5 2 4 4M2011 3086l-2 5M2005 3057l0 6 0 6 2 5 1 6 3 6 1 5M2022 3058l-1-5-4-5-5-3-4-5M2028 3057l1-5-1-6M2039 3055l5 3M1994 3051l5 4 6 2 5 2 6 2 6-3 6-1 5-2 6 0 6-1 4-5M2169 3313l-5-3-6 0-6-2M2179 3334l0-6-4-5-3-5-3-5 0-6 2-6 0-6M2143 3315l-6 0-6 0-5-3M2128 3306l-4-5M2200 3354l-4-4-6-3-3-4-4-5-4-4-6-1-5-3-6-3-3-5-6-2-6-1-4-4-4-5-5-3-6-1-6-2M2200 3339l3-4 3-6 4-4 3-5M2207 3311l6 1M2195 3350l1-6 4-5 0-6 0-6 2-5 2-6 3-5 3-5M2184 3323l0-5 2-6M2182 3318l-6 0-6 3M2192 3346l-1-6-2-6-1-6-4-5-2-5-5-4-4-4M2154 3366l6 0M2153 3348l1 6-1 6 1 6 1 6M2152 3354l5 2 6 3 4 4M2150 3366l-6 0M2200 3354l-5-4-3-4-5-4-6-1-6 0-6 2-6 0-5 1-5 4-1 6 0 6-2 6-3 5-2 6M2196 3345l-3-5-1-6 0-6 1-6M2185 3342l-2-6-2-5-1-6M2201 3348l-5-3-5-3-6 0-6 0-6-3-5-3-5-1-6-3M2241 3351l-2 6-5 3-2 6M2251 3357l6 0M2257 3360l4-5M2215 3338l5 3 6 1 5 3 6 2 4 4 5 4 5 2 6 3 4 4M2258 3309l2-5M2200 3354l1-6 3-5 6-2 5-3 4-4 6-3 4-4 6-3 6 1 5-3 5-4 4-4 3-5 2-5M2246 3351l6-1 6 1M2200 3354l2-5 5-4 6-3 5-1 6 2 6-1 6 2 5 4 5 3 5 3 3 5 1 6M2207 3312l4-3 3-6 5-3 4-5M2214 3329l-2-6-3-5-2-6-3-5-3-5-3-5-4-5-1-6 0-6M2222 3308l-1-6-1-6-1-5-1-6M2246 3292l1-6M2218 3312l4-4 6-2 5-2 6-3 4-4 3-5 4-5M2219 3289l5-2 6-1M2223 3278l-3-6M2216 3306l1-6-1-6 3-5 2-5 2-6-2-6M2224 3288l2-6 0-6M2218 3289l6-1 5-4 6-1 6 1M2229 3268l-5-2M2227 3274l2-6 1-6M2200 3354l5-4 2-5 3-5 3-6 1-5 4-5 1-6-1-6-2-6 0-6 0-6 2-5 1-6 4-5 4-4 6-2 6 0 5 2M2218 3378l2 5 3 5 2 6 4 5M2213 3382l-6 1-4 5-3 4-4 5-1 6M2211 3387l4 4 2 6 4 4M2220 3372l-2 6-5 4-2 5-3 5 1 6 3 5 6 2M2214 3407l6 3 4 4M2213 3401l1 6 2 6 0 6 0 6M2200 3354l6 1 6 2 4 4 2 6 2 5-1 6-1 6 0 6-3 5-2 6-1 6-4 5-4 4-6 1-6-1M2216 3355l2-6 4-5 4-4 1-6 2-6 0-6M2228 3353l5-3 4-4 6-1M2233 3351l5 3 6 2 4 4M2245 3349l0-6-2-6M2205 3358l5-3 6 0 6-2 6 0 5-2 6-2 6 0 5 3 5 4M2181 3359l-3-5M2210 3381l-5 3-6 2-6 1-6-1-4-4-2-5 0-6 0-6 0-6-1-6M2210 3392l3 6 3 5 2 6 4 4 1 6M2206 3403l4 4 6 1 6 2 3 5 6 3 5 3M2211 3386l-1 6-2 6-2 5-2 6-3 5 0 6 1 6 4 4 2 6 1 6M2218 3407l-5 4-3 5-5 4-6 2M2215 3412l-5 3-6 2M2216 3424l5 2M2219 3395l1 6-2 6-3 5 0 6 1 6-2 6 1 6M2214 3424l5 4 5 2M2220 3401l-2 6-2 5 1 6-3 6 1 6 1 6 2 5M2239 3405l-1-6 1-5M2222 3407l6 0 6 1 5-3 4-4 2-6 4-5M2240 3436l1 6M2230 3416l0 6 2 6 4 4 4 4 4 5M2228 3444l-6-3M2200 3354l5 4 3 5 1 6 1 6 0 6 1 5 4 5 4 4 1 6 2 6 4 5 4 4 3 6 1 5-1 6-2 6-3 5-4 5M2216 3356l-2-5 1-6 4-4 2-6 0-6M2231 3363l6 1 5 3 4 4M2235 3368l-2 6 2 5M2240 3370l5-3M2204 3358l6 1 6-3 6 0 5 2 4 5 4 5 5 2 5 3M2241 3387l2 6 3 5 0 6 0 6M2246 3386l2 6 0 6 3 5 4 5M2257 3391l6 2 6 0M2266 3399l2 6M2218 3370l3 5 4 5 5 3 5 3 6 1 5-1 6 2 5 3 5 4 4 4 5 4M2233 3378l6 0 6 0 6 1 6 0M2244 3391l6-1 6 0M2245 3397l6-1 6 1M2229 3373l4 5 4 4 4 4 3 5 1 6 1 6 2 6M2262 3387l3-5 6-2 6 0M2266 3391l4 5 5 3 3 5M2270 3396l-1 6-2 5M2200 3354l4 4 4 5 6 3 4 4 5 2 6 1 6 1 6 2 5 4 4 4 6 1 6 2 4 4 4 5 2 5 0 6M2190 3382l-2 6 1 6-1 6M2184 3384l-5-4M2200 3377l-6 2-4 3-6 2-5 4-5 3M2217 3374l6 0 6-1 6 1 5 3M2202 3383l6-1 5-3 4-5 5-3 6 0 6 1 6-1M2200 3354l-3 6 1 5 2 6 0 6 2 6-1 6 2 5-2 6-2 6-5 3-6 1-5 3-4 4M2186 3358l-4 4-4 5-3 5-4 4-5 4-3 4-6 3-6-1M2170 3352l-2-6 0-6 1-6 2-6-1-6M2141 3346l-5-3-5-4M2135 3345l-5 3M2191 3362l-5-4-5-2-5-4-6 0-5-2-6-2-6-1-6 0-6-1-6-1-6-1M2191 3374l5 3 5 2 6 0 6 0 6-1 6 1 6 0 6 0M2189 3368l2 6 0 5 2 6 1 6-1 6-4 4-1 6-3 6-2 5-2 6-1 6M2216 3412l6-1M2202 3394l4 4 4 4 4 5 2 5 0 6M2200 3354l-5 3-4 5-2 6 1 6 1 6 5 3 4 5 2 6 4 4 4 4 3 5 3 6 4 4 4 4 5 3 4 5M2173 3379l-2 6-2 6M2170 3385l4 5 1 6M2178 3362l-2 6-2 5-1 6-3 6-4 4-2 6-4 4M2149 3364l1-6-2-6-5-3M2145 3353l4-5 5-3M2149 3342l-4-5M2200 3354l-6 2-4 4-6 1-6 1-5 4-5 3-5 3-6 0-5-3-3-5-4-5 0-6 3-6 1-5 3-6M2039 3415l-3 6-3 5-1 6-2 6 2 5M2041 3404l-1 6-1 5-5 5-2 5-4 4-6 3-6 0-4 4M2031 3409l-6 2-5 2-6 1-5 2M2008 3410l-1-6M2037 3408l-6 1-6 0-5 2-6 0-6-1-5-4M2006 3424l1-6M2014 3433l-4-4-4-5-5-2M2007 3440l5 3M2008 3434l-1 6-2 5M2046 3400l-5 4-4 4-2 6-4 4-2 6-4 4-5 4-6 1-6 1-6 0-5 2M2016 3437l-1-5M2040 3400l-3 5-2 6 0 6-4 5-1 6-3 5-5 4-6 0-5-2M2001 3399l-3 5-2 5-4 5M2046 3400l-6 0-6-1-5-4-5-2-6 0-6 2-6 1-5 3-6 2-3 4-6 3M2033 3387l-1-6 0-6 2-5 5-4 2-6 5-3 4-5M2005 3409l-6 2M2046 3400l-5-4-4-4-4-5-6-1-6-1-6 3-4 4-2 5-1 6-3 6-3 5-4 4M2033 3355l-3-5M2033 3361l0-6-1-6 3-6M2023 3357l-5 3M2046 3400l-2-6-2-5-3-5-1-6 0-6-2-6-3-5-4-4-6 0-6 1M2052 3384l-1-6-3-5-5-4-4-5M2052 3378l6 0 5-4 6-1 4-4 3-6M2054 3372l-4-5 0-6 0-6M2052 3390l0-6 0-6 2-6 2-6 1-6 1-5-1-6M2091 3389l4-4 5-4M2046 3400l2-6 4-4 5-3 6-2 5 2 5 3 6 0 6-2 6 1 6 1 6 1M2057 3397l6 0 6 3 6 0M2081 3394l2-5M2051 3399l6-2 6 0 6-2 6-1 6 0 6-1M2079 3402l5 3 5 4 4 4M2063 3395l6 2 4 4 6 1 6-2 6-1 6 0M2080 3392l4-4 2-6 0-6M2098 3397l2-6 4-4M2046 3400l5-1 6-1 6-3 6 0 6-2 5-1 6 1 6 1 6 3 4 4 6 2M2062 3417l5-3 4-5 4-4M2067 3420l0 6-1 6M2055 3407l3 5 4 5 5 3 6 1 5-3 3-6M2060 3428l0 6-2 6M2063 3416l-1 6-2 6 0 6 0 6 1 6M2046 3400l5 3 4 4 4 5 4 4 5 3 5 3 6 2 5 4 4 4 6 1 6 2M2047 3415l-4-3-5-4-3-5M2051 3411l-4 4-4 4-4 5-2 6M2046 3400l3 5 2 6 2 5-1 6-3 5-4 5-4 5-5 1M2063 3428l6 1M2052 3422l6 3 5 3 4 4M2046 3400l0 6 0 6 3 5 3 5 3 6 4 4 3 5 4 5 6 2M2031 3430l-6 2M2036 3426l-5 4-3 5M2046 3400l-1 6 0 6-2 5-5 4-2 5-2 6 1 6-2 6 1 6M2020 3385l-3-5-4-5-2-6M2046 3400l-6 2-6-1-6-1-4-4-3-5-1-6-2-6-1-6 0-6 0-6M2160 3143l0 6 0 6 1 6 3 5 1 6-1 6 0 6-3 5-5 4-3 5-2 6-3 4-2 6-1 6-3 5M2151 3138l2-5 4-5 1-6 2-6M2139 3125l3-5 1-6M2154 3144l-3-6-4-4-4-4-4-5-3-5-4-5M2120 3132l-6-1-5-1M2131 3145l-3-5-5-3-3-5 1-6 3-5 5-3M2112 3123l1-6 0-6M2160 3143l-6 1-6 1-5 3-6 0-6-3-4-3-4-5-5-3-3-5-3-6-2-5-4-5M2130 3126l-6 0-6-1-5 3M2144 3136l-6-1-4-5-4-4-5-3-6-1-6-1-6 1M2139 3113l-4-4-6-1-6-1-6 3-5 2-6 1M2136 3091l-1-6-1-6 0-6M2142 3124l-3-5 0-6-1-6-4-4 0-6 2-6 4-4 5-4 6-1M2126 3084l-6-2M2144 3113l-5-3-4-4-3-6-3-4-3-6 0-6 3-5M2160 3143l-6 0-6-3-4-4-2-6 0-6 0-6 2-5 5-4 5-2 5-4 5-4 3-5 5-4 5-2 4-5M2126 3132l-4 4M2149 3122l-5-3-6 1-6 2-4 5-2 5-4 5M2158 3106l0 6-1 6M2147 3105l6-1 5 2 6-1 4-5 4-5M2156 3072l6-1M2160 3143l-4-4-3-6 0-6-4-5-1-6-2-5 1-6 0-6 1-6 1-6-1-6 3-5 5-4 5-3M2127 3131l-4 5-4 4-3 5-1 6-1 6-4 5M2108 3119l2-6 3-5 3-5M2102 3109l-3-5M2138 3134l-6-1-5-2-6 0-6-3-4-4-3-5-2-6-4-4-2-6M2092 3133l0 6 2 5 2 6M2160 3143l-5-4-5-3-6-1-6-1-6 0-6 0-5-2-6 0-6 2-6 0-6-2-5 1-5 3-3 6 0 6M2160 3137l6-2 5-1 6-2 5-4 6-2 5-3 6-1 4-4 5-4 6-2 6 1 5 1M2197 3105l-4-5-5-3-4-4-6-3-5-2M2194 3088l-3-6 0-6M2193 3082l3-5M2194 3076l-4-4M2160 3143l0-6 2-6 5-4 5-2 6-1 6-2 6-2 4-4 2-5 1-6-2-6-2-5 1-6-1-6 1-6 3-5M2167 3123l-1-6-3-5-4-5-3-5M2162 3125l5-2 6-2 5-4 6 0 6-1 5-2M2155 3091l-6 1M2164 3119l-2-5 0-6-4-5-1-6-2-6-5-4M2184 3093l3 5M2160 3143l1-6 0-6 1-6 2-6-1-6 2-5 5-4 4-4 5-3 5-4 2-6-1-6M2189 3126l5-2 4-5 2-5 2-6M2182 3136l3-5 4-5 4-4 2-5 5-4 6-2 6-1 5-2M2199 3136l0 6-1 6 1 6-2 5-2 6M2222 3141l2 6 4 4M2227 3144l2 5M2187 3134l6 0 6 2 6-1 6 1 5 3 6 2 5 3 4 4 5 3M2189 3102l-6 3-2 5-4 5M2194 3105l-5-3-5-3-3-6 0-6-1-5M2213 3108l-3 5M2197 3100l6 0 6 3 4 5 5 3M2213 3082l6 0M2160 3143l6 0 6-1 5-2 5-4 5-2 4-5 1-6 1-6 0-6 1-6 3-5 5-4 4-4 3-5 4-5 5-3M2185 3105l5-3M2166 3141l3-5 2-6 1-6 2-5 3-5 3-5 5-4 6-2M2180 3151l-2 6-1 6 3 5 4 4 3 5M2178 3140l2 5 0 6 1 6 3 5 5 3 6 1 5 3 6 1 6-1 6 3M2202 3117l-3-5M2205 3141l-1-6 0-6-1-6-1-6-4-4M2160 3143l6-2 6-1 6 0 5 2 5 4 6 0 5-2 6-3 3-5 0-6 2-6 0-6-3-5-1-6M2159 3154l-6 1-5 3-5 3-4 5-4 4-2 6 0 6M2156 3165l-4 5-5 3-6 0-6-1M2161 3149l-2 5-3 5 0 6 2 6 6 3 4 4 2 6 3 5 2 6 3 5M2148 3174l-5 3-5 4-1 6-2 6 0 6 0 6M2143 3177l-4 5-1 6-1 6-4 5 1 6 1 6M2155 3200l1 6 3 5 5 4M2139 3182l4 5 3 5 4 5 5 3 3 5 4 5 4 4 4 4M2133 3214l-4 4M2139 3216l-6-2-6-2M2160 3143l1 6 0 6-2 5-3 5-5 4-3 5-5 3-4 5-3 5-1 6 1 6 4 5 0 6-1 6 1 5 4 5M2167 3171l-4 5-4 5-4 4M2164 3154l2 6 2 5-1 6-3 6-2 6 1 6 0 5M2187 3154l6-1 4-4 5-3M2192 3151l5 2 6 0 6 1M2179 3163l4-4 4-5 5-3 4-5 3-4 4-6M2208 3160l6 1M2185 3164l6 0 6-1 6 0 5-3 4-5M2209 3162l5-2 6 1M2220 3158l2-5M2160 3143l2 6 2 5 5 4 5 2 5 3 6 1 6 0 6-1 6-2 6 1 6-1 5-3 4-4" fill="none" stroke="#3fd62a" stroke-width="1" opacity=".5"/>
<g filter="url(#blur1)">
<g fill="none" stroke-linecap="round"><path d="M2133 3473h0M1841 3145h0M2095 3301h0M2160 3456h0M2150 3440h0M1639 3041h0M1806 3318h0M2201 3479h0M1840 3079h0M1822 3129h0M1781 3162h0M1691 3174h0M2241 3099h0M1928 3442h0M2240 3276h0M1706 3310h0M1772 3427h0M2183 3259h0M1766 3111h0M2273 3068h0M2261 3318h0M1996 3379h0M1803 3139h0M1832 3352h0M1903 3416h0M1723 3255h0M2269 3380h0M2278 3171h0" stroke="#27b81a" stroke-width="2.3" opacity="0.65"/><path d="M1884 3112h0M1928 3059h0M1959 3118h0M2204 3253h0M1635 3323h0M2244 3298h0M1886 3335h0M1639 3369h0M1732 3100h0M1918 3135h0M1775 3257h0M1729 3382h0M1840 3177h0M1860 3161h0M2082 3043h0M1809 3186h0M1888 3454h0M1992 3366h0M1791 3209h0M2209 3378h0M2061 3069h0M2248 3258h0M1871 3381h0M2163 3209h0M1663 3391h0M2132 3326h0M2273 3460h0M1777 3208h0M2108 3168h0M1721 3202h0M2082 3312h0M1665 3464h0M2264 3431h0M2055 3364h0M1937 3360h0M1723 3069h0M1740 3422h0M1934 3474h0M2110 3164h0M1923 3279h0M2197 3102h0M1690 3135h0M1731 3267h0M2122 3408h0M1988 3075h0" stroke="#2fd31f" stroke-width="2.3" opacity="0.65"/><path d="M1932 3440h0M2140 3277h0M1632 3189h0M2165 3142h0M1645 3479h0M1861 3061h0M1968 3252h0M2096 3296h0M2039 3378h0M1785 3301h0M2023 3146h0M1918 3253h0M1848 3123h0M1665 3201h0M1981 3106h0M1846 3341h0M1921 3085h0M1814 3080h0M1708 3331h0M1907 3265h0M1823 3124h0M2208 3415h0M1892 3245h0M1674 3227h0M1726 3189h0M2271 3384h0M1858 3338h0M1879 3064h0M1818 3214h0M1891 3246h0M1997 3140h0M2238 3144h0M2079 3426h0M2076 3086h0M2210 3372h0M1727 3203h0M1798 3177h0M2278 3109h0M2165 3253h0M2072 3108h0" stroke="#45e636" stroke-width="2.3" opacity="0.65"/><path d="M2076 3269h0M1921 3211h0M1645 3378h0M1905 3402h0M1763 3043h0M1689 3245h0M1841 3212h0M2018 3243h0M1861 3141h0M1644 3451h0M2230 3248h0M1858 3148h0" stroke="#27b81a" stroke-width="3.3" opacity="0.65"/><path d="M2269 3140h0M1778 3237h0M2252 3226h0M1886 3362h0M1972 3233h0M1799 3456h0M1736 3219h0M1780 3263h0M2181 3071h0M1869 3211h0M1720 3193h0M2015 3336h0M2231 3081h0M2063 3391h0" stroke="#2fd31f" stroke-width="3.3" opacity="0.65"/><path d="M1848 3475h0M1637 3467h0M1663 3309h0M1983 3326h0M2132 3414h0M2115 3050h0M2075 3145h0" stroke="#45e636" stroke-width="3.3" opacity="0.65"/><path d="M1885 3214h0M1969 3132h0M2133 3108h0M1918 3464h0M2007 3149h0M1754 3227h0M1878 3316h0" stroke="#27b81a" stroke-width="4.3" opacity="0.85"/><path d="M1879 3291h0M1943 3277h0M2059 3195h0M2096 3084h0M2020 3214h0M2114 3071h0M1786 3373h0M2244 3347h0M2202 3298h0M1865 3350h0" stroke="#2fd31f" stroke-width="4.3" opacity="0.85"/><path d="M1719 3258h0M1835 3455h0M1874 3312h0M1783 3253h0M1840 3188h0M2223 3446h0M2201 3410h0" stroke="#45e636" stroke-width="4.3" opacity="0.85"/><path d="M2137 3421h0M2198 3384h0M1913 3400h0M2043 3053h0" stroke="#27b81a" stroke-width="5.3" opacity="0.85"/><path d="M2004 3354h0M1719 3351h0M1740 3080h0M2265 3089h0M1752 3171h0M1647 3053h0M1840 3296h0M2084 3087h0" stroke="#2fd31f" stroke-width="5.3" opacity="0.85"/><path d="M2179 3295h0M2159 3208h0M1671 3341h0M1781 3177h0M1750 3363h0" stroke="#45e636" stroke-width="5.3" opacity="0.85"/><path d="M1877 3083h0" stroke="#27b81a" stroke-width="6.3" opacity="0.85"/><path d="M2223 3465h0M1927 3353h0M1772 3327h0M1691 3206h0M2019 3275h0M1738 3425h0" stroke="#2fd31f" stroke-width="6.3" opacity="0.85"/><path d="M2061 3382h0M1893 3202h0M1751 3041h0M2208 3166h0M1995 3355h0M1809 3235h0" stroke="#45e636" stroke-width="6.3" opacity="0.85"/></g>
<circle cx="1722.8" cy="3100" r="8" fill="#35dc27"/>
<circle cx="1777.1" cy="3122.8" r="7" fill="#35dc27"/>
<circle cx="1974.2" cy="3102.8" r="8" fill="#35dc27"/>
<circle cx="1997.1" cy="3291.4" r="7" fill="#35dc27"/>
<circle cx="2054.2" cy="3277.1" r="6" fill="#35dc27"/>
<circle cx="1725.7" cy="3140" r="5" fill="#35dc27"/>
<circle cx="1665.7" cy="3166.8" r="4" fill="#35dc27"/>
<circle cx="2062.8" cy="3128.5" r="5" fill="#35dc27"/>
<circle cx="2154.2" cy="3182.8" r="5" fill="#35dc27"/>
<circle cx="2131.3" cy="3202.8" r="5" fill="#35dc27"/>
<circle cx="1965.6" cy="3334.2" r="5" fill="#35dc27"/>
<circle cx="2217" cy="3085.7" r="5" fill="#35dc27"/>
</g>
</g>
<rect x="977.6" y="2508.7" width="638.2" height="79.3" fill="#d5d8d8"/>
<path d="M977.6 2588H1615.8V2509" fill="none" stroke="#8a8a8a" stroke-width="1.6"/>
<rect x="1630.3" y="2508.7" width="640" height="79.3" fill="#d5d8d8"/>
<path d="M1630.3 2588H2270.3V2509" fill="none" stroke="#8a8a8a" stroke-width="1.6"/>
<text x="1291" y="2571" font-size="65" text-anchor="middle" >WT OLs</text>
<text x="1952" y="2571" font-size="65" text-anchor="middle">TNFR2<tspan font-size="36" dy="-25">-/-</tspan><tspan dy="25"> OLs</tspan></text>
<rect x="888.7" y="2603.3" width="74.5" height="420.4" fill="#d5d8d8"/>
<path d="M888.7 2603.3V3023.7H963.2" fill="none" stroke="#8a8a8a" stroke-width="1.6"/>
<text transform="translate(951 2814) rotate(-90)" font-size="65" text-anchor="middle" >NS</text>
<rect x="888.7" y="3048.7" width="74.5" height="422.7" fill="#d5d8d8"/>
<path d="M888.7 3048.7V3471.4H963.2" fill="none" stroke="#8a8a8a" stroke-width="1.6"/>
<text transform="translate(951 3272) rotate(-90)" font-size="65" text-anchor="middle" >Stim</text>
<text x="977" y="2644" font-size="57"><tspan fill="#f01010">MBP</tspan><tspan fill="#22e02a">O4</tspan></text>
<path d="M1539.6 3021.5H1609.5" stroke="#f2f2f2" stroke-width="3.4"/>
<path d="M2198 3021.5H2268" stroke="#f2f2f2" stroke-width="3.4"/>
<path d="M1539.6 3470H1609.5" stroke="#f2f2f2" stroke-width="3.4"/>
<path d="M2198 3470H2268" stroke="#f2f2f2" stroke-width="3.4"/>
</g>
<rect x="240" y="78" width="65" height="42" fill="#d3d3d3" stroke="#000" stroke-width="3"/>
<rect x="240" y="140" width="65" height="42" fill="#07819a" stroke="#000" stroke-width="3"/>
<text x="324" y="121.5" font-size="40" text-anchor="start" font-weight="bold">WT</text>
<text x="324" y="176.5" font-size="40" font-weight="bold">TNFR2<tspan font-size="27" dy="-16">-/-</tspan></text>
<circle cx="576" cy="102" r="21" fill="#fff" stroke="#000" stroke-width="3"/>
<circle cx="578" cy="159" r="22" fill="#000"/>
<text x="620" y="115.5" font-size="40" text-anchor="start" font-weight="bold">NS</text>
<text x="620" y="176.5" font-size="40" text-anchor="start" font-weight="bold">Stim</text>
<text x="96" y="264" font-size="86" text-anchor="start" >A</text>
<text x="853" y="263.5" font-size="86" text-anchor="start" >B</text>
<text x="1614" y="264" font-size="86" text-anchor="start" >C</text>
<text x="90.5" y="1028" font-size="86" text-anchor="start" >D</text>
<text x="852" y="1028" font-size="86" text-anchor="start" >E</text>
<text x="1610.5" y="1028" font-size="86" text-anchor="start" >F</text>
<text x="93.6" y="1804" font-size="86" text-anchor="start" >G</text>
<text x="722.3" y="1802" font-size="86" text-anchor="start" >H</text>
<text x="1531.4" y="1802" font-size="86" text-anchor="start" >I</text>
<text x="893.5" y="2570" font-size="86" text-anchor="start" >J</text>
<text x="81" y="3614" font-size="86" text-anchor="start" >K</text>
<text x="847" y="3614" font-size="86" text-anchor="start" >L</text>
<text x="1592" y="3614" font-size="86" text-anchor="start" >M</text>
<text x="510.5" y="263" font-size="54" text-anchor="middle" font-style="italic">Olig2</text>
<text x="1287" y="263" font-size="54" text-anchor="middle" font-style="italic">Lingo1</text>
<text x="2033" y="263" font-size="54" text-anchor="middle" font-style="italic">Hes1</text>
<text x="517" y="1027.5" font-size="54" text-anchor="middle" font-style="italic">Id2</text>
<text x="1277" y="1027.5" font-size="54" text-anchor="middle" font-style="italic">Pdgfrα</text>
<text x="2035" y="1027.5" font-size="54" text-anchor="middle" font-style="italic">Cspg4</text>
<text transform="translate(138.1 586) rotate(-90) scale(0.96 1)" font-size="56" text-anchor="middle" >FPKM (x10<tspan font-size="39" dy="-22">3</tspan><tspan dy="22">)</tspan></text>
<text transform="translate(898.6 585) rotate(-90) scale(0.96 1)" font-size="56" text-anchor="middle" >FPKM (x10<tspan font-size="39" dy="-22">2</tspan><tspan dy="22">)</tspan></text>
<text transform="translate(1657.1 585) rotate(-90) scale(0.955 1)" font-size="56" text-anchor="middle" >FPKM (x10)</text>
<text transform="translate(136.5 1353) rotate(-90) scale(0.955 1)" font-size="56" text-anchor="middle" >FPKM (x10)</text>
<text transform="translate(896.5 1353) rotate(-90) scale(0.955 1)" font-size="56" text-anchor="middle" >FPKM (x10)</text>
<text transform="translate(1655 1352) rotate(-90) scale(0.96 1)" font-size="56" text-anchor="middle" >FPKM (x10<tspan font-size="39" dy="-22">3</tspan><tspan dy="22">)</tspan></text>
<text transform="translate(765.2 2105.6) rotate(-90)" font-size="50" text-anchor="middle" >O4<tspan font-size="32" dy="-19">+</tspan><tspan dy="19"> </tspan>cells</text>
<text transform="translate(815.1 2106.8) rotate(-90)" font-size="50" text-anchor="middle" >(% Olig2<tspan font-size="32" dy="-19">+</tspan><tspan dy="19"> </tspan>population)</text>
<text transform="translate(1575.2 2106) rotate(-90)" font-size="50" text-anchor="middle" >MBP<tspan font-size="32" dy="-19">+</tspan><tspan dy="19"> </tspan>cells</text>
<text transform="translate(1626.6 2104.5) rotate(-90)" font-size="50" text-anchor="middle" >(% Olig2<tspan font-size="32" dy="-19">+</tspan><tspan dy="19"> </tspan>population)</text>
<text transform="translate(142.7 3950) rotate(-90) scale(0.99 1)" font-size="50" text-anchor="middle" >Average cell area (µm<tspan font-size="32" dy="-19">2</tspan><tspan dy="19">)</tspan></text>
<text transform="translate(931.5 3950) rotate(-90)" font-size="50" text-anchor="middle" >Average process length (µm)</text>
<text transform="translate(1661 3950) rotate(-90) scale(0.99 1)" font-size="50" text-anchor="middle" >Total process length (µm)</text>
<text x="511" y="3699" font-size="42" text-anchor="middle">p<tspan font-size="28" dy="8">t</tspan><tspan dy="-8">=0.04</tspan></text>
</svg>
</body></html>
